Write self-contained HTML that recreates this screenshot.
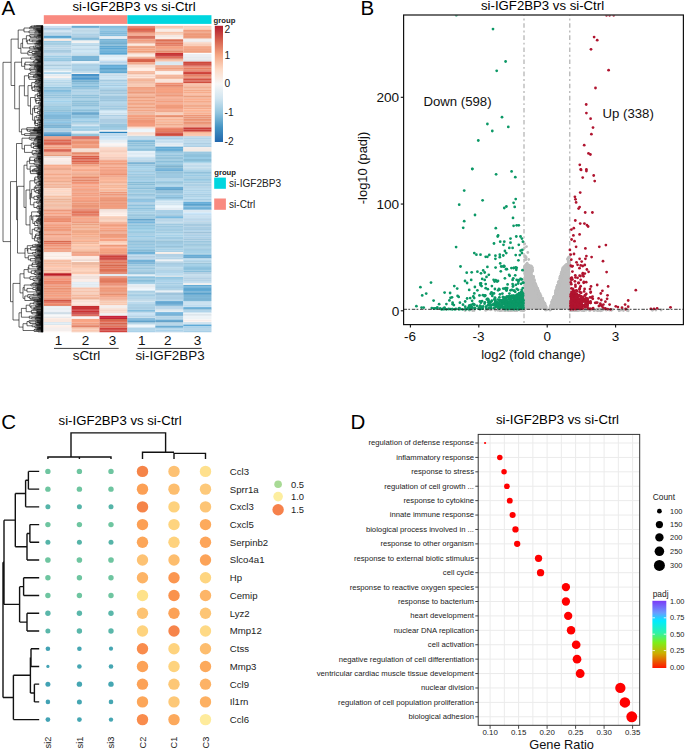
<!DOCTYPE html>
<html><head><meta charset="utf-8"><style>
html,body{margin:0;padding:0;background:#fff;width:685px;height:750px;overflow:hidden}
svg{display:block;font-family:"Liberation Sans", sans-serif}
</style></head><body>
<svg width="685" height="750" viewBox="0 0 685 750">
<rect width="685" height="750" fill="#fff"/>
<text x="1.60" y="14.70" font-size="20.5" text-anchor="start" fill="#000" >A</text>
<text x="72.50" y="10.50" font-size="13.2" text-anchor="start" fill="#000" >si-IGF2BP3 vs si-Ctrl</text>
<rect x="43.8" y="15.2" width="83.60" height="8.7" fill="#f98a80"/>
<rect x="127.4" y="15.2" width="84.05" height="8.7" fill="#00d6df"/>
<rect x="43.80" y="25.80" width="27.80" height="0.49" fill="#ddebf5"/>
<rect x="43.80" y="26.24" width="27.80" height="1.05" fill="#bed5eb"/>
<rect x="43.80" y="27.24" width="27.80" height="0.91" fill="#c0d8ee"/>
<rect x="43.80" y="28.10" width="27.80" height="1.05" fill="#a5c8e1"/>
<rect x="43.80" y="29.10" width="27.80" height="1.25" fill="#acd0e8"/>
<rect x="43.80" y="30.30" width="27.80" height="0.33" fill="#a8cce4"/>
<rect x="43.80" y="30.58" width="27.80" height="1.25" fill="#cfe3f2"/>
<rect x="43.80" y="31.78" width="27.80" height="0.71" fill="#cde1f0"/>
<rect x="43.80" y="32.44" width="27.80" height="1.25" fill="#a8cae1"/>
<rect x="43.80" y="33.64" width="27.80" height="1.05" fill="#a7cae0"/>
<rect x="43.80" y="34.64" width="27.80" height="1.32" fill="#afd2e9"/>
<rect x="43.80" y="35.92" width="27.80" height="1.25" fill="#59a5d2"/>
<rect x="43.80" y="37.12" width="27.80" height="0.96" fill="#539fcc"/>
<rect x="43.80" y="38.03" width="27.80" height="1.04" fill="#bbdaed"/>
<rect x="43.80" y="39.02" width="27.80" height="1.25" fill="#fceadf"/>
<rect x="43.80" y="40.22" width="27.80" height="0.71" fill="#fce8de"/>
<rect x="43.80" y="40.88" width="27.80" height="1.55" fill="#99cae4"/>
<rect x="43.80" y="42.38" width="27.80" height="1.05" fill="#97c8e2"/>
<rect x="43.80" y="43.38" width="27.80" height="1.25" fill="#8cbdd7"/>
<rect x="43.80" y="44.58" width="27.80" height="0.94" fill="#92c4de"/>
<rect x="43.80" y="45.47" width="27.80" height="2.05" fill="#b9d5e7"/>
<rect x="43.80" y="47.47" width="27.80" height="1.55" fill="#bbd7e9"/>
<rect x="43.80" y="48.97" width="27.80" height="0.89" fill="#c0dcee"/>
<rect x="43.80" y="49.81" width="27.80" height="1.25" fill="#a7cadf"/>
<rect x="43.80" y="51.01" width="27.80" height="1.05" fill="#a9cce1"/>
<rect x="43.80" y="52.01" width="27.80" height="0.95" fill="#accee4"/>
<rect x="43.80" y="52.92" width="27.80" height="2.05" fill="#c6dceb"/>
<rect x="43.80" y="54.92" width="27.80" height="0.53" fill="#d7edfc"/>
<rect x="43.80" y="55.40" width="27.80" height="2.05" fill="#a0cce4"/>
<rect x="43.80" y="57.40" width="27.80" height="0.53" fill="#a1cde6"/>
<rect x="43.80" y="57.88" width="27.80" height="2.05" fill="#9bcbe5"/>
<rect x="43.80" y="59.88" width="27.80" height="1.15" fill="#95c5df"/>
<rect x="43.80" y="60.98" width="27.80" height="1.55" fill="#bdd9ec"/>
<rect x="43.80" y="62.48" width="27.80" height="1.03" fill="#b9d5e8"/>
<rect x="43.80" y="63.46" width="27.80" height="1.05" fill="#badbee"/>
<rect x="43.80" y="64.46" width="27.80" height="2.05" fill="#aacadd"/>
<rect x="43.80" y="66.46" width="27.80" height="1.05" fill="#bbdcef"/>
<rect x="43.80" y="67.46" width="27.80" height="1.63" fill="#b7d7ea"/>
<rect x="43.80" y="69.04" width="27.80" height="1.55" fill="#cde1ed"/>
<rect x="43.80" y="70.54" width="27.80" height="0.41" fill="#c5d9e5"/>
<rect x="43.80" y="70.91" width="27.80" height="1.05" fill="#f0f6fa"/>
<rect x="43.80" y="71.91" width="27.80" height="0.29" fill="#eaf0f4"/>
<rect x="43.80" y="72.15" width="27.80" height="1.91" fill="#aed5ec"/>
<rect x="43.80" y="74.01" width="27.80" height="1.25" fill="#e8f1f7"/>
<rect x="43.80" y="75.21" width="27.80" height="1.25" fill="#dce5eb"/>
<rect x="43.80" y="76.41" width="27.80" height="0.13" fill="#ecf5fa"/>
<rect x="43.80" y="76.49" width="27.80" height="1.05" fill="#f7ede9"/>
<rect x="43.80" y="77.49" width="27.80" height="0.66" fill="#f9efeb"/>
<rect x="43.80" y="78.10" width="27.80" height="1.25" fill="#d2e6f2"/>
<rect x="43.80" y="79.30" width="27.80" height="0.34" fill="#c5d9e5"/>
<rect x="43.80" y="79.59" width="27.80" height="2.05" fill="#bdddef"/>
<rect x="43.80" y="81.59" width="27.80" height="2.05" fill="#b4d5e7"/>
<rect x="43.80" y="83.59" width="27.80" height="1.25" fill="#b7d7e9"/>
<rect x="43.80" y="84.79" width="27.80" height="1.25" fill="#b8d8ea"/>
<rect x="43.80" y="85.99" width="27.80" height="1.09" fill="#bedff1"/>
<rect x="43.80" y="87.03" width="27.80" height="1.25" fill="#8fc2dd"/>
<rect x="43.80" y="88.23" width="27.80" height="1.33" fill="#8dc1dc"/>
<rect x="43.80" y="89.52" width="27.80" height="1.55" fill="#82bbdc"/>
<rect x="43.80" y="91.02" width="27.80" height="1.55" fill="#87c0e0"/>
<rect x="43.80" y="92.52" width="27.80" height="1.05" fill="#7db6d7"/>
<rect x="43.80" y="93.52" width="27.80" height="1.01" fill="#86bfe0"/>
<rect x="43.80" y="94.48" width="27.80" height="2.05" fill="#96c3dc"/>
<rect x="43.80" y="96.48" width="27.80" height="2.05" fill="#99c6df"/>
<rect x="43.80" y="98.48" width="27.80" height="1.01" fill="#9dcae2"/>
<rect x="43.80" y="99.44" width="27.80" height="1.05" fill="#9acae4"/>
<rect x="43.80" y="100.44" width="27.80" height="2.05" fill="#a2d2ec"/>
<rect x="43.80" y="102.44" width="27.80" height="1.25" fill="#9acae4"/>
<rect x="43.80" y="103.64" width="27.80" height="0.81" fill="#99c9e3"/>
<rect x="43.80" y="104.40" width="27.80" height="1.05" fill="#96c4db"/>
<rect x="43.80" y="105.40" width="27.80" height="1.55" fill="#99c7de"/>
<rect x="43.80" y="106.90" width="27.80" height="1.05" fill="#9ecce4"/>
<rect x="43.80" y="107.90" width="27.80" height="2.05" fill="#9dcbe2"/>
<rect x="43.80" y="109.90" width="27.80" height="1.25" fill="#93c1d8"/>
<rect x="43.80" y="111.10" width="27.80" height="0.79" fill="#92c0d7"/>
<rect x="43.80" y="111.85" width="27.80" height="2.05" fill="#89c1e1"/>
<rect x="43.80" y="113.85" width="27.80" height="1.15" fill="#88c0e1"/>
<rect x="43.80" y="115.00" width="27.80" height="2.05" fill="#7fb7d8"/>
<rect x="43.80" y="117.00" width="27.80" height="1.05" fill="#82bada"/>
<rect x="43.80" y="118.00" width="27.80" height="1.55" fill="#81b9da"/>
<rect x="43.80" y="119.50" width="27.80" height="1.25" fill="#7cb4d4"/>
<rect x="43.80" y="120.70" width="27.80" height="1.05" fill="#85bddd"/>
<rect x="43.80" y="121.70" width="27.80" height="1.55" fill="#8dc5e6"/>
<rect x="43.80" y="123.20" width="27.80" height="1.25" fill="#7db5d6"/>
<rect x="43.80" y="124.40" width="27.80" height="1.55" fill="#77afd0"/>
<rect x="43.80" y="125.90" width="27.80" height="1.05" fill="#80b8d9"/>
<rect x="43.80" y="126.90" width="27.80" height="1.55" fill="#7eb6d6"/>
<rect x="43.80" y="128.40" width="27.80" height="0.30" fill="#7fb7d8"/>
<rect x="43.80" y="128.65" width="27.80" height="1.55" fill="#afd3e8"/>
<rect x="43.80" y="130.15" width="27.80" height="1.25" fill="#a5c9df"/>
<rect x="43.80" y="131.35" width="27.80" height="1.07" fill="#a6cadf"/>
<rect x="43.80" y="132.37" width="27.80" height="1.25" fill="#4a97cd"/>
<rect x="43.80" y="133.57" width="27.80" height="1.25" fill="#3f8cc2"/>
<rect x="43.80" y="134.77" width="27.80" height="1.25" fill="#428fc5"/>
<rect x="43.80" y="135.97" width="27.80" height="0.42" fill="#4693c9"/>
<rect x="43.80" y="136.34" width="27.80" height="1.05" fill="#ef9172"/>
<rect x="43.80" y="137.34" width="27.80" height="1.25" fill="#e98a6b"/>
<rect x="43.80" y="138.54" width="27.80" height="1.32" fill="#e38566"/>
<rect x="43.80" y="139.81" width="27.80" height="1.55" fill="#de6852"/>
<rect x="43.80" y="141.31" width="27.80" height="1.55" fill="#dc6650"/>
<rect x="43.80" y="142.81" width="27.80" height="2.05" fill="#db654f"/>
<rect x="43.80" y="144.81" width="27.80" height="0.63" fill="#d7614b"/>
<rect x="43.80" y="145.40" width="27.80" height="1.05" fill="#f49f80"/>
<rect x="43.80" y="146.40" width="27.80" height="2.05" fill="#f39e7f"/>
<rect x="43.80" y="148.40" width="27.80" height="0.77" fill="#ed9879"/>
<rect x="43.80" y="149.12" width="27.80" height="1.05" fill="#de634e"/>
<rect x="43.80" y="150.12" width="27.80" height="1.25" fill="#d25742"/>
<rect x="43.80" y="151.32" width="27.80" height="0.95" fill="#db604b"/>
<rect x="43.80" y="152.22" width="27.80" height="1.55" fill="#efa182"/>
<rect x="43.80" y="153.72" width="27.80" height="1.05" fill="#f6a989"/>
<rect x="43.80" y="154.72" width="27.80" height="1.27" fill="#e69878"/>
<rect x="43.80" y="155.94" width="27.80" height="2.05" fill="#eee0db"/>
<rect x="43.80" y="157.94" width="27.80" height="1.25" fill="#fff1ec"/>
<rect x="43.80" y="159.14" width="27.80" height="1.25" fill="#f9ebe6"/>
<rect x="43.80" y="160.34" width="27.80" height="2.05" fill="#f8eae4"/>
<rect x="43.80" y="162.34" width="27.80" height="1.25" fill="#f2e5df"/>
<rect x="43.80" y="163.54" width="27.80" height="1.13" fill="#f3e5e0"/>
<rect x="43.80" y="164.63" width="27.80" height="1.55" fill="#f6ac8d"/>
<rect x="43.80" y="166.13" width="27.80" height="1.05" fill="#f8ad8f"/>
<rect x="43.80" y="167.13" width="27.80" height="1.05" fill="#f5ab8c"/>
<rect x="43.80" y="168.13" width="27.80" height="1.05" fill="#eba082"/>
<rect x="43.80" y="169.13" width="27.80" height="1.25" fill="#e99f80"/>
<rect x="43.80" y="170.33" width="27.80" height="1.25" fill="#f6ac8d"/>
<rect x="43.80" y="171.53" width="27.80" height="1.05" fill="#f2a889"/>
<rect x="43.80" y="172.53" width="27.80" height="1.25" fill="#f6ac8e"/>
<rect x="43.80" y="173.73" width="27.80" height="1.55" fill="#f2a889"/>
<rect x="43.80" y="175.23" width="27.80" height="1.25" fill="#f7ad8f"/>
<rect x="43.80" y="176.43" width="27.80" height="0.66" fill="#f6ac8d"/>
<rect x="43.80" y="177.03" width="27.80" height="2.05" fill="#f2b094"/>
<rect x="43.80" y="179.03" width="27.80" height="2.05" fill="#f9b79b"/>
<rect x="43.80" y="181.03" width="27.80" height="1.25" fill="#ebaa8d"/>
<rect x="43.80" y="182.23" width="27.80" height="1.25" fill="#f3b295"/>
<rect x="43.80" y="183.43" width="27.80" height="2.05" fill="#f4b396"/>
<rect x="43.80" y="185.43" width="27.80" height="1.25" fill="#eeac8f"/>
<rect x="43.80" y="186.63" width="27.80" height="1.25" fill="#efad91"/>
<rect x="43.80" y="187.83" width="27.80" height="0.42" fill="#f9b79a"/>
<rect x="43.80" y="188.20" width="27.80" height="1.05" fill="#fed8c5"/>
<rect x="43.80" y="189.20" width="27.80" height="1.05" fill="#f6d0bd"/>
<rect x="43.80" y="190.20" width="27.80" height="2.05" fill="#fed8c5"/>
<rect x="43.80" y="192.20" width="27.80" height="1.05" fill="#fad4c1"/>
<rect x="43.80" y="193.20" width="27.80" height="1.25" fill="#f7d1be"/>
<rect x="43.80" y="194.40" width="27.80" height="1.29" fill="#fbd5c2"/>
<rect x="43.80" y="195.65" width="27.80" height="2.05" fill="#f6bfa3"/>
<rect x="43.80" y="197.65" width="27.80" height="1.05" fill="#f6bfa3"/>
<rect x="43.80" y="198.65" width="27.80" height="2.05" fill="#eab398"/>
<rect x="43.80" y="200.65" width="27.80" height="1.55" fill="#f1ba9e"/>
<rect x="43.80" y="202.15" width="27.80" height="1.25" fill="#f2ba9f"/>
<rect x="43.80" y="203.35" width="27.80" height="1.55" fill="#f0b89d"/>
<rect x="43.80" y="204.85" width="27.80" height="0.16" fill="#f7c0a5"/>
<rect x="43.80" y="205.00" width="27.80" height="1.25" fill="#f3bca3"/>
<rect x="43.80" y="206.20" width="27.80" height="1.55" fill="#edb69c"/>
<rect x="43.80" y="207.70" width="27.80" height="1.25" fill="#f8c1a7"/>
<rect x="43.80" y="208.90" width="27.80" height="0.49" fill="#f4bda4"/>
<rect x="43.80" y="209.34" width="27.80" height="2.05" fill="#ed987a"/>
<rect x="43.80" y="211.34" width="27.80" height="1.25" fill="#f09b7c"/>
<rect x="43.80" y="212.54" width="27.80" height="2.05" fill="#f6a182"/>
<rect x="43.80" y="214.54" width="27.80" height="1.05" fill="#f29e7f"/>
<rect x="43.80" y="215.54" width="27.80" height="0.67" fill="#f6a182"/>
<rect x="43.80" y="216.17" width="27.80" height="1.55" fill="#e78869"/>
<rect x="43.80" y="217.67" width="27.80" height="1.25" fill="#ea8a6c"/>
<rect x="43.80" y="218.87" width="27.80" height="2.05" fill="#ed8d6e"/>
<rect x="43.80" y="220.87" width="27.80" height="1.25" fill="#ea8a6c"/>
<rect x="43.80" y="222.07" width="27.80" height="0.35" fill="#e88869"/>
<rect x="43.80" y="222.37" width="27.80" height="1.25" fill="#f9a485"/>
<rect x="43.80" y="223.57" width="27.80" height="1.25" fill="#ee9a7b"/>
<rect x="43.80" y="224.77" width="27.80" height="2.05" fill="#f49f81"/>
<rect x="43.80" y="226.77" width="27.80" height="2.05" fill="#ef9a7b"/>
<rect x="43.80" y="228.77" width="27.80" height="1.25" fill="#ee997a"/>
<rect x="43.80" y="229.97" width="27.80" height="1.55" fill="#f19c7d"/>
<rect x="43.80" y="231.47" width="27.80" height="1.05" fill="#ec9779"/>
<rect x="43.80" y="232.47" width="27.80" height="1.05" fill="#f49f80"/>
<rect x="43.80" y="233.47" width="27.80" height="2.05" fill="#ec9778"/>
<rect x="43.80" y="235.47" width="27.80" height="1.05" fill="#f5a082"/>
<rect x="43.80" y="236.47" width="27.80" height="1.05" fill="#f8a384"/>
<rect x="43.80" y="237.47" width="27.80" height="1.05" fill="#ee997b"/>
<rect x="43.80" y="238.47" width="27.80" height="1.05" fill="#ef9a7b"/>
<rect x="43.80" y="239.47" width="27.80" height="1.25" fill="#f19c7d"/>
<rect x="43.80" y="240.67" width="27.80" height="0.36" fill="#ef9b7c"/>
<rect x="43.80" y="240.98" width="27.80" height="1.55" fill="#d76a4f"/>
<rect x="43.80" y="242.48" width="27.80" height="2.05" fill="#e77a5f"/>
<rect x="43.80" y="244.48" width="27.80" height="0.27" fill="#e97c62"/>
<rect x="43.80" y="244.70" width="27.80" height="1.55" fill="#ef9577"/>
<rect x="43.80" y="246.20" width="27.80" height="1.25" fill="#ef9576"/>
<rect x="43.80" y="247.40" width="27.80" height="2.05" fill="#f19778"/>
<rect x="43.80" y="249.40" width="27.80" height="1.05" fill="#ec9273"/>
<rect x="43.80" y="250.40" width="27.80" height="1.05" fill="#ef9576"/>
<rect x="43.80" y="251.40" width="27.80" height="0.79" fill="#ec9273"/>
<rect x="43.80" y="252.15" width="27.80" height="1.05" fill="#f7ebe4"/>
<rect x="43.80" y="253.15" width="27.80" height="1.05" fill="#faede7"/>
<rect x="43.80" y="254.15" width="27.80" height="1.55" fill="#fdf0ea"/>
<rect x="43.80" y="255.65" width="27.80" height="1.55" fill="#f7ebe4"/>
<rect x="43.80" y="257.15" width="27.80" height="1.25" fill="#fff2ec"/>
<rect x="43.80" y="258.35" width="27.80" height="1.05" fill="#faede7"/>
<rect x="43.80" y="259.35" width="27.80" height="0.29" fill="#f7ebe4"/>
<rect x="43.80" y="259.59" width="27.80" height="1.55" fill="#f9bea4"/>
<rect x="43.80" y="261.09" width="27.80" height="1.55" fill="#f2b89d"/>
<rect x="43.80" y="262.59" width="27.80" height="2.05" fill="#f5bba0"/>
<rect x="43.80" y="264.59" width="27.80" height="1.25" fill="#f4ba9f"/>
<rect x="43.80" y="265.79" width="27.80" height="1.55" fill="#fec4aa"/>
<rect x="43.80" y="267.29" width="27.80" height="1.05" fill="#fec3a9"/>
<rect x="43.80" y="268.29" width="27.80" height="1.25" fill="#f6bca1"/>
<rect x="43.80" y="269.49" width="27.80" height="2.05" fill="#f6bba1"/>
<rect x="43.80" y="271.49" width="27.80" height="1.80" fill="#fbc1a6"/>
<rect x="43.80" y="273.24" width="27.80" height="2.05" fill="#bc1d24"/>
<rect x="43.80" y="275.24" width="27.80" height="1.15" fill="#c3242b"/>
<rect x="43.80" y="276.34" width="27.80" height="1.25" fill="#ed8b6e"/>
<rect x="43.80" y="277.54" width="27.80" height="1.25" fill="#e88669"/>
<rect x="43.80" y="278.74" width="27.80" height="2.05" fill="#f79478"/>
<rect x="43.80" y="280.74" width="27.80" height="1.25" fill="#e88569"/>
<rect x="43.80" y="281.94" width="27.80" height="1.05" fill="#f08e71"/>
<rect x="43.80" y="282.94" width="27.80" height="1.55" fill="#ec8a6d"/>
<rect x="43.80" y="284.44" width="27.80" height="1.26" fill="#ea876b"/>
<rect x="43.80" y="285.65" width="27.80" height="2.05" fill="#f09879"/>
<rect x="43.80" y="287.65" width="27.80" height="1.55" fill="#e89071"/>
<rect x="43.80" y="289.15" width="27.80" height="1.05" fill="#ea9273"/>
<rect x="43.80" y="290.15" width="27.80" height="2.05" fill="#f09879"/>
<rect x="43.80" y="292.15" width="27.80" height="1.05" fill="#f29a7b"/>
<rect x="43.80" y="293.15" width="27.80" height="1.55" fill="#eb9374"/>
<rect x="43.80" y="294.65" width="27.80" height="0.36" fill="#f1997b"/>
<rect x="43.80" y="294.99" width="27.80" height="1.25" fill="#f89e7f"/>
<rect x="43.80" y="296.19" width="27.80" height="1.25" fill="#f09677"/>
<rect x="43.80" y="297.39" width="27.80" height="1.55" fill="#f09677"/>
<rect x="43.80" y="298.89" width="27.80" height="0.86" fill="#f29879"/>
<rect x="43.80" y="299.70" width="27.80" height="2.05" fill="#d25442"/>
<rect x="43.80" y="301.70" width="27.80" height="1.15" fill="#db5d4b"/>
<rect x="43.80" y="302.80" width="27.80" height="1.05" fill="#ee886b"/>
<rect x="43.80" y="303.80" width="27.80" height="1.25" fill="#ec8568"/>
<rect x="43.80" y="305.00" width="27.80" height="0.95" fill="#e27c5f"/>
<rect x="43.80" y="305.91" width="27.80" height="1.55" fill="#e9eef2"/>
<rect x="43.80" y="307.41" width="27.80" height="1.55" fill="#ebeff3"/>
<rect x="43.80" y="308.91" width="27.80" height="1.25" fill="#eaeff3"/>
<rect x="43.80" y="310.11" width="27.80" height="2.05" fill="#edf1f6"/>
<rect x="43.80" y="312.11" width="27.80" height="2.05" fill="#cfdde7"/>
<rect x="43.80" y="314.11" width="27.80" height="0.53" fill="#d5e4ee"/>
<rect x="43.80" y="314.59" width="27.80" height="1.25" fill="#f8f8f9"/>
<rect x="43.80" y="315.79" width="27.80" height="1.05" fill="#f5f5f6"/>
<rect x="43.80" y="316.79" width="27.80" height="1.57" fill="#eaeaec"/>
<rect x="43.80" y="318.31" width="27.80" height="1.25" fill="#ffe9df"/>
<rect x="43.80" y="319.51" width="27.80" height="1.05" fill="#f4ded3"/>
<rect x="43.80" y="320.51" width="27.80" height="1.25" fill="#fae4d9"/>
<rect x="43.80" y="321.71" width="27.80" height="0.37" fill="#f9e3d9"/>
<rect x="43.80" y="322.03" width="27.80" height="1.05" fill="#dbe7ef"/>
<rect x="43.80" y="323.03" width="27.80" height="1.05" fill="#e2eff7"/>
<rect x="43.80" y="324.03" width="27.80" height="1.05" fill="#d9e6ed"/>
<rect x="43.80" y="325.03" width="27.80" height="0.15" fill="#d9e5ed"/>
<rect x="43.80" y="325.14" width="27.80" height="1.55" fill="#fff0e8"/>
<rect x="43.80" y="326.64" width="27.80" height="1.03" fill="#f9e7df"/>
<rect x="43.80" y="327.62" width="27.80" height="1.05" fill="#f4eeec"/>
<rect x="43.80" y="328.62" width="27.80" height="1.05" fill="#efe8e6"/>
<rect x="43.80" y="329.62" width="27.80" height="1.55" fill="#f5efed"/>
<rect x="43.80" y="331.12" width="27.80" height="1.13" fill="#fdf6f4"/>
<rect x="71.60" y="25.80" width="27.90" height="2.05" fill="#6babd1"/>
<rect x="71.60" y="27.80" width="27.90" height="0.35" fill="#70b0d6"/>
<rect x="71.60" y="28.10" width="27.90" height="1.55" fill="#bbd9ea"/>
<rect x="71.60" y="29.60" width="27.90" height="1.25" fill="#b4d1e3"/>
<rect x="71.60" y="30.80" width="27.90" height="1.05" fill="#b7d4e6"/>
<rect x="71.60" y="31.80" width="27.90" height="0.69" fill="#b8d5e7"/>
<rect x="71.60" y="32.44" width="27.90" height="1.25" fill="#afd2e7"/>
<rect x="71.60" y="33.64" width="27.90" height="1.55" fill="#add0e5"/>
<rect x="71.60" y="35.14" width="27.90" height="1.05" fill="#abcde3"/>
<rect x="71.60" y="36.14" width="27.90" height="1.31" fill="#a6c9de"/>
<rect x="71.60" y="37.41" width="27.90" height="1.55" fill="#7fb7d6"/>
<rect x="71.60" y="38.91" width="27.90" height="1.05" fill="#86bedc"/>
<rect x="71.60" y="39.91" width="27.90" height="0.65" fill="#84bcda"/>
<rect x="71.60" y="40.51" width="27.90" height="2.05" fill="#f1f1f1"/>
<rect x="71.60" y="42.51" width="27.90" height="0.53" fill="#efefef"/>
<rect x="71.60" y="42.99" width="27.90" height="2.05" fill="#c3deee"/>
<rect x="71.60" y="44.99" width="27.90" height="1.55" fill="#b9d4e4"/>
<rect x="71.60" y="46.49" width="27.90" height="1.25" fill="#c9e4f3"/>
<rect x="71.60" y="47.69" width="27.90" height="1.05" fill="#bfdaea"/>
<rect x="71.60" y="48.69" width="27.90" height="1.55" fill="#c0dbeb"/>
<rect x="71.60" y="50.19" width="27.90" height="1.55" fill="#c8e3f2"/>
<rect x="71.60" y="51.69" width="27.90" height="1.55" fill="#c8e3f3"/>
<rect x="71.60" y="53.19" width="27.90" height="1.05" fill="#c0dbeb"/>
<rect x="71.60" y="54.19" width="27.90" height="1.88" fill="#bed9e8"/>
<rect x="71.60" y="56.02" width="27.90" height="2.05" fill="#78b4d7"/>
<rect x="71.60" y="58.02" width="27.90" height="2.05" fill="#78b4d7"/>
<rect x="71.60" y="60.02" width="27.90" height="1.01" fill="#71add0"/>
<rect x="71.60" y="60.98" width="27.90" height="2.05" fill="#e4f0f8"/>
<rect x="71.60" y="62.98" width="27.90" height="0.53" fill="#deeaf2"/>
<rect x="71.60" y="63.46" width="27.90" height="1.55" fill="#aed2e7"/>
<rect x="71.60" y="64.96" width="27.90" height="1.05" fill="#aacee3"/>
<rect x="71.60" y="65.96" width="27.90" height="2.05" fill="#b0d4e9"/>
<rect x="71.60" y="67.96" width="27.90" height="1.05" fill="#afd3e8"/>
<rect x="71.60" y="68.96" width="27.90" height="1.05" fill="#abcfe4"/>
<rect x="71.60" y="69.96" width="27.90" height="1.55" fill="#acd0e5"/>
<rect x="71.60" y="71.46" width="27.90" height="1.36" fill="#aed2e7"/>
<rect x="71.60" y="72.77" width="27.90" height="1.05" fill="#e9edf0"/>
<rect x="71.60" y="73.77" width="27.90" height="0.29" fill="#f0f4f8"/>
<rect x="71.60" y="74.01" width="27.90" height="1.05" fill="#4693c9"/>
<rect x="71.60" y="75.01" width="27.90" height="1.55" fill="#4895cb"/>
<rect x="71.60" y="76.51" width="27.90" height="1.25" fill="#4693c9"/>
<rect x="71.60" y="77.71" width="27.90" height="1.55" fill="#4a97cd"/>
<rect x="71.60" y="79.21" width="27.90" height="1.05" fill="#4795cb"/>
<rect x="71.60" y="80.21" width="27.90" height="2.05" fill="#76b0d0"/>
<rect x="71.60" y="82.21" width="27.90" height="1.05" fill="#81bbdc"/>
<rect x="71.60" y="83.21" width="27.90" height="1.25" fill="#78b2d2"/>
<rect x="71.60" y="84.41" width="27.90" height="1.05" fill="#86c0e1"/>
<rect x="71.60" y="85.41" width="27.90" height="2.05" fill="#81bbdb"/>
<rect x="71.60" y="87.41" width="27.90" height="1.25" fill="#7cb6d6"/>
<rect x="71.60" y="88.61" width="27.90" height="0.96" fill="#7bb5d6"/>
<rect x="71.60" y="89.52" width="27.90" height="1.25" fill="#a9cfe5"/>
<rect x="71.60" y="90.72" width="27.90" height="1.55" fill="#abd1e8"/>
<rect x="71.60" y="92.22" width="27.90" height="1.55" fill="#a6cce3"/>
<rect x="71.60" y="93.72" width="27.90" height="0.81" fill="#afd5eb"/>
<rect x="71.60" y="94.48" width="27.90" height="2.05" fill="#92c2dc"/>
<rect x="71.60" y="96.48" width="27.90" height="2.05" fill="#91c1db"/>
<rect x="71.60" y="98.48" width="27.90" height="1.05" fill="#96c6e0"/>
<rect x="71.60" y="99.48" width="27.90" height="1.25" fill="#97c7e1"/>
<rect x="71.60" y="100.68" width="27.90" height="2.05" fill="#8fc0d9"/>
<rect x="71.60" y="102.68" width="27.90" height="1.55" fill="#93c3dd"/>
<rect x="71.60" y="104.18" width="27.90" height="2.05" fill="#8fbfd9"/>
<rect x="71.60" y="106.18" width="27.90" height="1.25" fill="#97c8e1"/>
<rect x="71.60" y="107.38" width="27.90" height="1.05" fill="#98c8e1"/>
<rect x="71.60" y="108.38" width="27.90" height="1.55" fill="#9acae4"/>
<rect x="71.60" y="109.88" width="27.90" height="1.25" fill="#8ebfd8"/>
<rect x="71.60" y="111.08" width="27.90" height="0.82" fill="#9bcbe5"/>
<rect x="71.60" y="111.85" width="27.90" height="1.05" fill="#70add3"/>
<rect x="71.60" y="112.85" width="27.90" height="2.05" fill="#6aa8ce"/>
<rect x="71.60" y="114.85" width="27.90" height="0.15" fill="#6caad0"/>
<rect x="71.60" y="115.00" width="27.90" height="1.05" fill="#97c7e2"/>
<rect x="71.60" y="116.00" width="27.90" height="2.05" fill="#91c1dc"/>
<rect x="71.60" y="118.00" width="27.90" height="1.25" fill="#a0d1eb"/>
<rect x="71.60" y="119.20" width="27.90" height="1.25" fill="#9ccde7"/>
<rect x="71.60" y="120.40" width="27.90" height="2.05" fill="#99c9e4"/>
<rect x="71.60" y="122.40" width="27.90" height="1.33" fill="#90c0db"/>
<rect x="71.60" y="123.68" width="27.90" height="1.55" fill="#c5dbea"/>
<rect x="71.60" y="125.18" width="27.90" height="1.03" fill="#cde3f2"/>
<rect x="71.60" y="126.17" width="27.90" height="2.05" fill="#9fcde5"/>
<rect x="71.60" y="128.17" width="27.90" height="2.05" fill="#a0cee6"/>
<rect x="71.60" y="130.17" width="27.90" height="1.01" fill="#9bc9e1"/>
<rect x="71.60" y="131.13" width="27.90" height="2.05" fill="#e5eef4"/>
<rect x="71.60" y="133.13" width="27.90" height="0.53" fill="#e8f1f6"/>
<rect x="71.60" y="133.61" width="27.90" height="1.25" fill="#89bcd6"/>
<rect x="71.60" y="134.81" width="27.90" height="1.58" fill="#8fc3dc"/>
<rect x="71.60" y="136.34" width="27.90" height="1.05" fill="#d24f3f"/>
<rect x="71.60" y="137.34" width="27.90" height="1.25" fill="#d35040"/>
<rect x="71.60" y="138.54" width="27.90" height="0.70" fill="#d24f3f"/>
<rect x="71.60" y="139.19" width="27.90" height="1.55" fill="#ed9375"/>
<rect x="71.60" y="140.69" width="27.90" height="1.25" fill="#ea9071"/>
<rect x="71.60" y="141.89" width="27.90" height="2.05" fill="#ea9071"/>
<rect x="71.60" y="143.89" width="27.90" height="0.93" fill="#f19779"/>
<rect x="71.60" y="144.78" width="27.90" height="1.25" fill="#f29f80"/>
<rect x="71.60" y="145.98" width="27.90" height="2.05" fill="#ee9c7d"/>
<rect x="71.60" y="147.98" width="27.90" height="0.57" fill="#f8a586"/>
<rect x="71.60" y="148.50" width="27.90" height="1.05" fill="#e9d2c6"/>
<rect x="71.60" y="149.50" width="27.90" height="1.55" fill="#f6ded3"/>
<rect x="71.60" y="151.00" width="27.90" height="1.27" fill="#f3dcd0"/>
<rect x="71.60" y="152.22" width="27.90" height="2.05" fill="#e5896a"/>
<rect x="71.60" y="154.22" width="27.90" height="1.25" fill="#ec9071"/>
<rect x="71.60" y="155.42" width="27.90" height="0.57" fill="#ed9072"/>
<rect x="71.60" y="155.94" width="27.90" height="1.55" fill="#da5e48"/>
<rect x="71.60" y="157.44" width="27.90" height="2.05" fill="#d85c46"/>
<rect x="71.60" y="159.44" width="27.90" height="1.05" fill="#d65a44"/>
<rect x="71.60" y="160.44" width="27.90" height="1.55" fill="#de624c"/>
<rect x="71.60" y="161.94" width="27.90" height="0.25" fill="#cf533d"/>
<rect x="71.60" y="162.15" width="27.90" height="2.05" fill="#e57d61"/>
<rect x="71.60" y="164.15" width="27.90" height="0.53" fill="#e37b60"/>
<rect x="71.60" y="164.63" width="27.90" height="1.55" fill="#efa282"/>
<rect x="71.60" y="166.13" width="27.90" height="1.05" fill="#f6a989"/>
<rect x="71.60" y="167.13" width="27.90" height="1.55" fill="#ffb292"/>
<rect x="71.60" y="168.63" width="27.90" height="1.25" fill="#f3a586"/>
<rect x="71.60" y="169.83" width="27.90" height="1.55" fill="#f6a889"/>
<rect x="71.60" y="171.33" width="27.90" height="1.05" fill="#f8aa8b"/>
<rect x="71.60" y="172.33" width="27.90" height="1.25" fill="#f1a383"/>
<rect x="71.60" y="173.53" width="27.90" height="1.25" fill="#e79a7a"/>
<rect x="71.60" y="174.73" width="27.90" height="1.05" fill="#f3a686"/>
<rect x="71.60" y="175.73" width="27.90" height="1.25" fill="#f4a687"/>
<rect x="71.60" y="176.93" width="27.90" height="0.16" fill="#f1a484"/>
<rect x="71.60" y="177.03" width="27.90" height="1.25" fill="#e48769"/>
<rect x="71.60" y="178.23" width="27.90" height="1.25" fill="#ef9274"/>
<rect x="71.60" y="179.43" width="27.90" height="2.05" fill="#e38668"/>
<rect x="71.60" y="181.43" width="27.90" height="1.55" fill="#ed9072"/>
<rect x="71.60" y="182.93" width="27.90" height="1.05" fill="#f6997b"/>
<rect x="71.60" y="183.93" width="27.90" height="0.59" fill="#eb8d70"/>
<rect x="71.60" y="184.48" width="27.90" height="1.25" fill="#f49f80"/>
<rect x="71.60" y="185.68" width="27.90" height="2.05" fill="#faa586"/>
<rect x="71.60" y="187.68" width="27.90" height="1.05" fill="#ec9779"/>
<rect x="71.60" y="188.68" width="27.90" height="1.55" fill="#f7a283"/>
<rect x="71.60" y="190.18" width="27.90" height="1.55" fill="#ed9879"/>
<rect x="71.60" y="191.68" width="27.90" height="1.05" fill="#f09b7c"/>
<rect x="71.60" y="192.68" width="27.90" height="1.55" fill="#f49f80"/>
<rect x="71.60" y="194.18" width="27.90" height="1.05" fill="#f29d7e"/>
<rect x="71.60" y="195.18" width="27.90" height="1.25" fill="#e99475"/>
<rect x="71.60" y="196.38" width="27.90" height="1.55" fill="#f5a081"/>
<rect x="71.60" y="197.88" width="27.90" height="2.05" fill="#f6a182"/>
<rect x="71.60" y="199.88" width="27.90" height="1.25" fill="#f39e80"/>
<rect x="71.60" y="201.08" width="27.90" height="1.55" fill="#ea9576"/>
<rect x="71.60" y="202.58" width="27.90" height="1.55" fill="#ee997a"/>
<rect x="71.60" y="204.08" width="27.90" height="0.92" fill="#ef9a7b"/>
<rect x="71.60" y="205.00" width="27.90" height="2.05" fill="#e99576"/>
<rect x="71.60" y="207.00" width="27.90" height="1.25" fill="#f29e7f"/>
<rect x="71.60" y="208.20" width="27.90" height="1.05" fill="#e79274"/>
<rect x="71.60" y="209.20" width="27.90" height="0.19" fill="#f19c7d"/>
<rect x="71.60" y="209.34" width="27.90" height="1.05" fill="#e17056"/>
<rect x="71.60" y="210.34" width="27.90" height="1.55" fill="#e17156"/>
<rect x="71.60" y="211.84" width="27.90" height="1.55" fill="#e27257"/>
<rect x="71.60" y="213.34" width="27.90" height="1.55" fill="#df6e54"/>
<rect x="71.60" y="214.84" width="27.90" height="1.05" fill="#ed7c62"/>
<rect x="71.60" y="215.84" width="27.90" height="0.37" fill="#e07055"/>
<rect x="71.60" y="216.17" width="27.90" height="1.55" fill="#ea9677"/>
<rect x="71.60" y="217.67" width="27.90" height="1.55" fill="#faa687"/>
<rect x="71.60" y="219.17" width="27.90" height="1.05" fill="#f19e7f"/>
<rect x="71.60" y="220.17" width="27.90" height="1.05" fill="#f29f80"/>
<rect x="71.60" y="221.17" width="27.90" height="2.05" fill="#ef9b7d"/>
<rect x="71.60" y="223.17" width="27.90" height="0.49" fill="#f4a081"/>
<rect x="71.60" y="223.61" width="27.90" height="2.05" fill="#e9a383"/>
<rect x="71.60" y="225.61" width="27.90" height="1.25" fill="#f6b090"/>
<rect x="71.60" y="226.81" width="27.90" height="1.55" fill="#f2ac8c"/>
<rect x="71.60" y="228.31" width="27.90" height="1.25" fill="#f0aa8a"/>
<rect x="71.60" y="229.51" width="27.90" height="1.55" fill="#f1ab8b"/>
<rect x="71.60" y="231.01" width="27.90" height="2.05" fill="#eea888"/>
<rect x="71.60" y="233.01" width="27.90" height="1.05" fill="#fab494"/>
<rect x="71.60" y="234.01" width="27.90" height="1.25" fill="#f1ab8b"/>
<rect x="71.60" y="235.21" width="27.90" height="2.05" fill="#f5af8f"/>
<rect x="71.60" y="237.21" width="27.90" height="1.05" fill="#f0aa8a"/>
<rect x="71.60" y="238.21" width="27.90" height="1.55" fill="#efa989"/>
<rect x="71.60" y="239.71" width="27.90" height="1.25" fill="#feb898"/>
<rect x="71.60" y="240.91" width="27.90" height="1.05" fill="#f2ac8c"/>
<rect x="71.60" y="241.91" width="27.90" height="0.36" fill="#f1ab8b"/>
<rect x="71.60" y="242.22" width="27.90" height="2.05" fill="#f3b89b"/>
<rect x="71.60" y="244.22" width="27.90" height="2.05" fill="#ffc7ab"/>
<rect x="71.60" y="246.22" width="27.90" height="1.25" fill="#f4b99d"/>
<rect x="71.60" y="247.42" width="27.90" height="1.25" fill="#f9bea1"/>
<rect x="71.60" y="248.62" width="27.90" height="1.25" fill="#fabea2"/>
<rect x="71.60" y="249.82" width="27.90" height="1.05" fill="#f6bb9e"/>
<rect x="71.60" y="250.82" width="27.90" height="1.38" fill="#f1b699"/>
<rect x="71.60" y="252.15" width="27.90" height="1.55" fill="#e99576"/>
<rect x="71.60" y="253.65" width="27.90" height="1.25" fill="#f5a081"/>
<rect x="71.60" y="254.85" width="27.90" height="1.07" fill="#ef9a7c"/>
<rect x="71.60" y="255.87" width="27.90" height="1.25" fill="#fce8e0"/>
<rect x="71.60" y="257.07" width="27.90" height="1.55" fill="#fee9e1"/>
<rect x="71.60" y="258.57" width="27.90" height="1.55" fill="#f4e0d8"/>
<rect x="71.60" y="260.07" width="27.90" height="1.05" fill="#ecd8d0"/>
<rect x="71.60" y="261.07" width="27.90" height="1.05" fill="#ffeee6"/>
<rect x="71.60" y="262.07" width="27.90" height="1.05" fill="#eebaa0"/>
<rect x="71.60" y="263.07" width="27.90" height="1.05" fill="#eab69d"/>
<rect x="71.60" y="264.07" width="27.90" height="1.05" fill="#edb9a0"/>
<rect x="71.60" y="265.07" width="27.90" height="2.05" fill="#f8c4ab"/>
<rect x="71.60" y="267.07" width="27.90" height="1.55" fill="#fbc7ad"/>
<rect x="71.60" y="268.57" width="27.90" height="1.05" fill="#f8c4aa"/>
<rect x="71.60" y="269.57" width="27.90" height="1.05" fill="#fbc8ae"/>
<rect x="71.60" y="270.57" width="27.90" height="1.25" fill="#ffcfb6"/>
<rect x="71.60" y="271.77" width="27.90" height="1.05" fill="#f0bca2"/>
<rect x="71.60" y="272.77" width="27.90" height="1.76" fill="#fecab0"/>
<rect x="71.60" y="274.48" width="27.90" height="1.55" fill="#f9e9e2"/>
<rect x="71.60" y="275.98" width="27.90" height="1.05" fill="#f0e0da"/>
<rect x="71.60" y="276.98" width="27.90" height="1.05" fill="#f2e3dc"/>
<rect x="71.60" y="277.98" width="27.90" height="1.55" fill="#f2e2db"/>
<rect x="71.60" y="279.48" width="27.90" height="1.25" fill="#fcece6"/>
<rect x="71.60" y="280.68" width="27.90" height="1.05" fill="#f9e9e2"/>
<rect x="71.60" y="281.68" width="27.90" height="0.29" fill="#f9e9e3"/>
<rect x="71.60" y="281.92" width="27.90" height="1.25" fill="#e3edf4"/>
<rect x="71.60" y="283.12" width="27.90" height="1.05" fill="#e5eff6"/>
<rect x="71.60" y="284.12" width="27.90" height="1.55" fill="#dee8ef"/>
<rect x="71.60" y="285.62" width="27.90" height="1.25" fill="#e2ecf2"/>
<rect x="71.60" y="286.82" width="27.90" height="0.73" fill="#e2ecf2"/>
<rect x="71.60" y="287.51" width="27.90" height="2.05" fill="#f6c4ad"/>
<rect x="71.60" y="289.51" width="27.90" height="1.05" fill="#f7c5ae"/>
<rect x="71.60" y="290.51" width="27.90" height="2.05" fill="#f6c4ad"/>
<rect x="71.60" y="292.51" width="27.90" height="1.05" fill="#f5c3ac"/>
<rect x="71.60" y="293.51" width="27.90" height="1.25" fill="#f4c3ab"/>
<rect x="71.60" y="294.71" width="27.90" height="0.29" fill="#fac8b1"/>
<rect x="71.60" y="294.99" width="27.90" height="1.55" fill="#f4ba9f"/>
<rect x="71.60" y="296.49" width="27.90" height="1.55" fill="#f6bca1"/>
<rect x="71.60" y="297.99" width="27.90" height="1.76" fill="#edb398"/>
<rect x="71.60" y="299.70" width="27.90" height="1.55" fill="#fee3d6"/>
<rect x="71.60" y="301.20" width="27.90" height="1.25" fill="#f5dacd"/>
<rect x="71.60" y="302.40" width="27.90" height="1.05" fill="#fce1d5"/>
<rect x="71.60" y="303.40" width="27.90" height="2.05" fill="#fde2d6"/>
<rect x="71.60" y="305.40" width="27.90" height="0.55" fill="#f6dbce"/>
<rect x="71.60" y="305.91" width="27.90" height="2.05" fill="#c52d2f"/>
<rect x="71.60" y="307.91" width="27.90" height="1.25" fill="#c72f31"/>
<rect x="71.60" y="309.11" width="27.90" height="1.25" fill="#cf383a"/>
<rect x="71.60" y="310.31" width="27.90" height="2.05" fill="#ca3234"/>
<rect x="71.60" y="312.31" width="27.90" height="1.05" fill="#bf2729"/>
<rect x="71.60" y="313.31" width="27.90" height="1.25" fill="#c42c2e"/>
<rect x="71.60" y="314.51" width="27.90" height="0.13" fill="#c73032"/>
<rect x="71.60" y="314.59" width="27.90" height="1.25" fill="#d85947"/>
<rect x="71.60" y="315.79" width="27.90" height="0.71" fill="#da5b49"/>
<rect x="71.60" y="316.45" width="27.90" height="1.25" fill="#f5f1f1"/>
<rect x="71.60" y="317.65" width="27.90" height="1.33" fill="#faf5f5"/>
<rect x="71.60" y="318.93" width="27.90" height="2.05" fill="#f8a384"/>
<rect x="71.60" y="320.93" width="27.90" height="1.55" fill="#faa586"/>
<rect x="71.60" y="322.43" width="27.90" height="2.05" fill="#f39e7f"/>
<rect x="71.60" y="324.43" width="27.90" height="0.13" fill="#f5a081"/>
<rect x="71.60" y="324.52" width="27.90" height="1.25" fill="#e58367"/>
<rect x="71.60" y="325.72" width="27.90" height="1.25" fill="#e48266"/>
<rect x="71.60" y="326.92" width="27.90" height="0.75" fill="#e48266"/>
<rect x="71.60" y="327.62" width="27.90" height="2.05" fill="#f8c7b0"/>
<rect x="71.60" y="329.62" width="27.90" height="2.05" fill="#fac9b2"/>
<rect x="71.60" y="331.62" width="27.90" height="0.63" fill="#f5c4ad"/>
<rect x="99.50" y="25.80" width="27.90" height="1.25" fill="#83bcdc"/>
<rect x="99.50" y="27.00" width="27.90" height="1.25" fill="#88c1e0"/>
<rect x="99.50" y="28.20" width="27.90" height="1.05" fill="#83bcdc"/>
<rect x="99.50" y="29.20" width="27.90" height="1.55" fill="#87c0df"/>
<rect x="99.50" y="30.70" width="27.90" height="1.55" fill="#86bfdf"/>
<rect x="99.50" y="32.20" width="27.90" height="2.05" fill="#80b9d9"/>
<rect x="99.50" y="34.20" width="27.90" height="2.02" fill="#85bede"/>
<rect x="99.50" y="36.17" width="27.90" height="1.55" fill="#dee8ef"/>
<rect x="99.50" y="37.67" width="27.90" height="1.05" fill="#e5eff6"/>
<rect x="99.50" y="38.67" width="27.90" height="0.28" fill="#dfe9f0"/>
<rect x="99.50" y="38.90" width="27.90" height="1.25" fill="#78b3d4"/>
<rect x="99.50" y="40.10" width="27.90" height="2.05" fill="#7db8d9"/>
<rect x="99.50" y="42.10" width="27.90" height="2.05" fill="#73afcf"/>
<rect x="99.50" y="44.10" width="27.90" height="1.25" fill="#7eb9da"/>
<rect x="99.50" y="45.30" width="27.90" height="0.85" fill="#77b3d3"/>
<rect x="99.50" y="46.09" width="27.90" height="1.25" fill="#55a1ce"/>
<rect x="99.50" y="47.29" width="27.90" height="2.05" fill="#5ca8d5"/>
<rect x="99.50" y="49.29" width="27.90" height="1.05" fill="#5ba7d4"/>
<rect x="99.50" y="50.29" width="27.90" height="1.55" fill="#59a5d2"/>
<rect x="99.50" y="51.79" width="27.90" height="1.05" fill="#5eaad7"/>
<rect x="99.50" y="52.79" width="27.90" height="2.03" fill="#5aa6d3"/>
<rect x="99.50" y="54.78" width="27.90" height="1.25" fill="#deecf5"/>
<rect x="99.50" y="55.98" width="27.90" height="1.05" fill="#ddeaf3"/>
<rect x="99.50" y="56.98" width="27.90" height="1.25" fill="#e3f1fa"/>
<rect x="99.50" y="58.18" width="27.90" height="1.55" fill="#e4f1fa"/>
<rect x="99.50" y="59.68" width="27.90" height="1.25" fill="#d9e7f0"/>
<rect x="99.50" y="60.88" width="27.90" height="0.15" fill="#d5e2eb"/>
<rect x="99.50" y="60.98" width="27.90" height="1.05" fill="#c1ddf2"/>
<rect x="99.50" y="61.98" width="27.90" height="1.55" fill="#b8d4e8"/>
<rect x="99.50" y="63.48" width="27.90" height="1.25" fill="#bbd7eb"/>
<rect x="99.50" y="64.68" width="27.90" height="0.07" fill="#c4e0f4"/>
<rect x="99.50" y="64.70" width="27.90" height="1.25" fill="#5da6d1"/>
<rect x="99.50" y="65.90" width="27.90" height="2.05" fill="#6bb3de"/>
<rect x="99.50" y="67.90" width="27.90" height="1.25" fill="#58a1cb"/>
<rect x="99.50" y="69.10" width="27.90" height="1.25" fill="#5aa3cd"/>
<rect x="99.50" y="70.30" width="27.90" height="1.55" fill="#5ba4cf"/>
<rect x="99.50" y="71.80" width="27.90" height="1.63" fill="#60a9d3"/>
<rect x="99.50" y="73.39" width="27.90" height="1.25" fill="#c4dcea"/>
<rect x="99.50" y="74.59" width="27.90" height="1.55" fill="#c4dbea"/>
<rect x="99.50" y="76.09" width="27.90" height="2.05" fill="#cbe3f1"/>
<rect x="99.50" y="78.09" width="27.90" height="1.05" fill="#cfe6f5"/>
<rect x="99.50" y="79.09" width="27.90" height="0.55" fill="#c4dbea"/>
<rect x="99.50" y="79.59" width="27.90" height="2.05" fill="#a4cae1"/>
<rect x="99.50" y="81.59" width="27.90" height="1.05" fill="#a8cee4"/>
<rect x="99.50" y="82.59" width="27.90" height="2.05" fill="#aed4ea"/>
<rect x="99.50" y="84.59" width="27.90" height="1.55" fill="#a6cce3"/>
<rect x="99.50" y="86.09" width="27.90" height="1.25" fill="#b7ddf3"/>
<rect x="99.50" y="87.29" width="27.90" height="1.55" fill="#a7cde3"/>
<rect x="99.50" y="88.79" width="27.90" height="1.25" fill="#a9d0e6"/>
<rect x="99.50" y="89.99" width="27.90" height="1.25" fill="#9ec4db"/>
<rect x="99.50" y="91.19" width="27.90" height="1.55" fill="#9fc5dc"/>
<rect x="99.50" y="92.69" width="27.90" height="1.55" fill="#a3c9df"/>
<rect x="99.50" y="94.19" width="27.90" height="0.34" fill="#b4daf0"/>
<rect x="99.50" y="94.48" width="27.90" height="1.05" fill="#a4cbe3"/>
<rect x="99.50" y="95.48" width="27.90" height="1.55" fill="#a1c8df"/>
<rect x="99.50" y="96.98" width="27.90" height="2.05" fill="#a0c7df"/>
<rect x="99.50" y="98.98" width="27.90" height="1.05" fill="#a7cee5"/>
<rect x="99.50" y="99.98" width="27.90" height="1.25" fill="#9dc5dc"/>
<rect x="99.50" y="101.18" width="27.90" height="1.05" fill="#a5cce4"/>
<rect x="99.50" y="102.18" width="27.90" height="1.05" fill="#aad2e9"/>
<rect x="99.50" y="103.18" width="27.90" height="1.55" fill="#a6cee5"/>
<rect x="99.50" y="104.68" width="27.90" height="1.05" fill="#9ec5dd"/>
<rect x="99.50" y="105.68" width="27.90" height="2.05" fill="#a3cbe2"/>
<rect x="99.50" y="107.68" width="27.90" height="1.55" fill="#a1c9e0"/>
<rect x="99.50" y="109.18" width="27.90" height="1.48" fill="#a2cae1"/>
<rect x="99.50" y="110.61" width="27.90" height="1.25" fill="#d5eaf6"/>
<rect x="99.50" y="111.81" width="27.90" height="1.25" fill="#d7ebf7"/>
<rect x="99.50" y="113.01" width="27.90" height="1.25" fill="#cce0ec"/>
<rect x="99.50" y="114.21" width="27.90" height="0.79" fill="#cee2ef"/>
<rect x="99.50" y="115.00" width="27.90" height="1.55" fill="#adcfe4"/>
<rect x="99.50" y="116.50" width="27.90" height="1.05" fill="#b3d4ea"/>
<rect x="99.50" y="117.50" width="27.90" height="1.05" fill="#adcee4"/>
<rect x="99.50" y="118.50" width="27.90" height="1.55" fill="#accde2"/>
<rect x="99.50" y="120.00" width="27.90" height="2.05" fill="#accde3"/>
<rect x="99.50" y="122.00" width="27.90" height="1.73" fill="#adcfe4"/>
<rect x="99.50" y="123.68" width="27.90" height="1.25" fill="#94c4dd"/>
<rect x="99.50" y="124.88" width="27.90" height="1.05" fill="#94c4de"/>
<rect x="99.50" y="125.88" width="27.90" height="1.05" fill="#90c1da"/>
<rect x="99.50" y="126.88" width="27.90" height="1.05" fill="#96c6df"/>
<rect x="99.50" y="127.88" width="27.90" height="1.05" fill="#9acae4"/>
<rect x="99.50" y="128.88" width="27.90" height="1.05" fill="#94c4de"/>
<rect x="99.50" y="129.89" width="27.90" height="1.25" fill="#efefef"/>
<rect x="99.50" y="131.09" width="27.90" height="0.71" fill="#f8f8f8"/>
<rect x="99.50" y="131.75" width="27.90" height="1.25" fill="#2680bc"/>
<rect x="99.50" y="132.95" width="27.90" height="0.09" fill="#2881be"/>
<rect x="99.50" y="132.99" width="27.90" height="2.05" fill="#bfdbee"/>
<rect x="99.50" y="134.99" width="27.90" height="1.40" fill="#bfdbee"/>
<rect x="99.50" y="136.34" width="27.90" height="2.05" fill="#c6e2f5"/>
<rect x="99.50" y="138.34" width="27.90" height="1.25" fill="#c3dff2"/>
<rect x="99.50" y="139.54" width="27.90" height="0.32" fill="#c3dff2"/>
<rect x="99.50" y="139.81" width="27.90" height="1.05" fill="#e5ecf1"/>
<rect x="99.50" y="140.81" width="27.90" height="1.05" fill="#e1e8ed"/>
<rect x="99.50" y="141.81" width="27.90" height="1.55" fill="#ecf3f9"/>
<rect x="99.50" y="143.31" width="27.90" height="0.27" fill="#e5ebf1"/>
<rect x="99.50" y="143.54" width="27.90" height="2.05" fill="#fcf5f3"/>
<rect x="99.50" y="145.54" width="27.90" height="1.55" fill="#f2ecea"/>
<rect x="99.50" y="147.04" width="27.90" height="0.27" fill="#fffaf8"/>
<rect x="99.50" y="147.26" width="27.90" height="1.05" fill="#f8d1c0"/>
<rect x="99.50" y="148.26" width="27.90" height="1.55" fill="#f7d0bf"/>
<rect x="99.50" y="149.76" width="27.90" height="1.25" fill="#f9d2c1"/>
<rect x="99.50" y="150.96" width="27.90" height="1.25" fill="#f5cebd"/>
<rect x="99.50" y="152.16" width="27.90" height="1.55" fill="#f9d2c1"/>
<rect x="99.50" y="153.66" width="27.90" height="1.25" fill="#fcd5c4"/>
<rect x="99.50" y="154.86" width="27.90" height="2.05" fill="#fdd6c5"/>
<rect x="99.50" y="156.86" width="27.90" height="2.05" fill="#f4ccbc"/>
<rect x="99.50" y="158.86" width="27.90" height="0.86" fill="#fcd4c4"/>
<rect x="99.50" y="159.67" width="27.90" height="1.05" fill="#eb9879"/>
<rect x="99.50" y="160.67" width="27.90" height="2.05" fill="#f5a283"/>
<rect x="99.50" y="162.67" width="27.90" height="1.55" fill="#f09e7f"/>
<rect x="99.50" y="164.17" width="27.90" height="1.25" fill="#ec997b"/>
<rect x="99.50" y="165.37" width="27.90" height="1.25" fill="#f5a384"/>
<rect x="99.50" y="166.57" width="27.90" height="0.59" fill="#f4a182"/>
<rect x="99.50" y="167.11" width="27.90" height="1.25" fill="#ef9778"/>
<rect x="99.50" y="168.31" width="27.90" height="1.55" fill="#f69e7f"/>
<rect x="99.50" y="169.81" width="27.90" height="1.05" fill="#ed9576"/>
<rect x="99.50" y="170.81" width="27.90" height="1.05" fill="#f39b7c"/>
<rect x="99.50" y="171.81" width="27.90" height="1.05" fill="#f49c7d"/>
<rect x="99.50" y="172.81" width="27.90" height="1.05" fill="#ee9677"/>
<rect x="99.50" y="173.81" width="27.90" height="1.55" fill="#ec9475"/>
<rect x="99.50" y="175.31" width="27.90" height="1.25" fill="#f29a7b"/>
<rect x="99.50" y="176.51" width="27.90" height="0.58" fill="#e68e6f"/>
<rect x="99.50" y="177.03" width="27.90" height="2.05" fill="#f7b498"/>
<rect x="99.50" y="179.03" width="27.90" height="1.05" fill="#f7b497"/>
<rect x="99.50" y="180.03" width="27.90" height="1.05" fill="#febb9e"/>
<rect x="99.50" y="181.03" width="27.90" height="1.05" fill="#f6b497"/>
<rect x="99.50" y="182.03" width="27.90" height="1.55" fill="#f2af92"/>
<rect x="99.50" y="183.53" width="27.90" height="0.99" fill="#f5b295"/>
<rect x="99.50" y="184.48" width="27.90" height="1.55" fill="#f3b69a"/>
<rect x="99.50" y="185.98" width="27.90" height="1.05" fill="#fabda1"/>
<rect x="99.50" y="186.98" width="27.90" height="1.55" fill="#f5b89c"/>
<rect x="99.50" y="188.48" width="27.90" height="1.55" fill="#fabca0"/>
<rect x="99.50" y="189.98" width="27.90" height="1.55" fill="#f6b99d"/>
<rect x="99.50" y="191.48" width="27.90" height="0.49" fill="#efb196"/>
<rect x="99.50" y="191.92" width="27.90" height="1.55" fill="#ee997b"/>
<rect x="99.50" y="193.42" width="27.90" height="2.05" fill="#ee997b"/>
<rect x="99.50" y="195.42" width="27.90" height="1.05" fill="#e79274"/>
<rect x="99.50" y="196.42" width="27.90" height="1.55" fill="#f29e7f"/>
<rect x="99.50" y="197.92" width="27.90" height="2.05" fill="#ed997a"/>
<rect x="99.50" y="199.92" width="27.90" height="1.25" fill="#e99476"/>
<rect x="99.50" y="201.12" width="27.90" height="1.05" fill="#eb9778"/>
<rect x="99.50" y="202.12" width="27.90" height="2.05" fill="#ed987a"/>
<rect x="99.50" y="204.12" width="27.90" height="0.88" fill="#eb9677"/>
<rect x="99.50" y="205.00" width="27.90" height="1.05" fill="#f19d7e"/>
<rect x="99.50" y="206.00" width="27.90" height="1.05" fill="#f09c7d"/>
<rect x="99.50" y="207.00" width="27.90" height="1.25" fill="#f39f81"/>
<rect x="99.50" y="208.20" width="27.90" height="1.19" fill="#e79374"/>
<rect x="99.50" y="209.34" width="27.90" height="1.55" fill="#f0e0d9"/>
<rect x="99.50" y="210.84" width="27.90" height="1.25" fill="#f6e6e0"/>
<rect x="99.50" y="212.04" width="27.90" height="1.25" fill="#faeae4"/>
<rect x="99.50" y="213.24" width="27.90" height="2.05" fill="#fcede6"/>
<rect x="99.50" y="215.24" width="27.90" height="0.97" fill="#fff1ea"/>
<rect x="99.50" y="216.17" width="27.90" height="2.05" fill="#f9ceb9"/>
<rect x="99.50" y="218.17" width="27.90" height="1.05" fill="#f0c5af"/>
<rect x="99.50" y="219.17" width="27.90" height="1.55" fill="#f4c9b4"/>
<rect x="99.50" y="220.67" width="27.90" height="1.75" fill="#fcd0bb"/>
<rect x="99.50" y="222.37" width="27.90" height="1.05" fill="#eb9879"/>
<rect x="99.50" y="223.37" width="27.90" height="1.55" fill="#f5a283"/>
<rect x="99.50" y="224.87" width="27.90" height="1.25" fill="#ef9d7e"/>
<rect x="99.50" y="226.07" width="27.90" height="1.25" fill="#f6a485"/>
<rect x="99.50" y="227.27" width="27.90" height="2.05" fill="#f8a687"/>
<rect x="99.50" y="229.27" width="27.90" height="2.05" fill="#f09e7f"/>
<rect x="99.50" y="231.27" width="27.90" height="1.25" fill="#e99678"/>
<rect x="99.50" y="232.47" width="27.90" height="1.05" fill="#f09d7e"/>
<rect x="99.50" y="233.47" width="27.90" height="1.55" fill="#ec997b"/>
<rect x="99.50" y="234.97" width="27.90" height="2.05" fill="#ee9c7d"/>
<rect x="99.50" y="236.97" width="27.90" height="1.55" fill="#f4a182"/>
<rect x="99.50" y="238.47" width="27.90" height="1.55" fill="#f6a385"/>
<rect x="99.50" y="239.97" width="27.90" height="1.06" fill="#f5a284"/>
<rect x="99.50" y="240.98" width="27.90" height="1.25" fill="#fcccb5"/>
<rect x="99.50" y="242.18" width="27.90" height="1.25" fill="#f7c7b0"/>
<rect x="99.50" y="243.38" width="27.90" height="1.25" fill="#ffd0b9"/>
<rect x="99.50" y="244.58" width="27.90" height="0.17" fill="#ffd0b8"/>
<rect x="99.50" y="244.70" width="27.90" height="1.55" fill="#ef9a7a"/>
<rect x="99.50" y="246.20" width="27.90" height="1.25" fill="#f19c7d"/>
<rect x="99.50" y="247.40" width="27.90" height="1.55" fill="#fda888"/>
<rect x="99.50" y="248.90" width="27.90" height="1.05" fill="#f49f7f"/>
<rect x="99.50" y="249.90" width="27.90" height="1.25" fill="#f6a282"/>
<rect x="99.50" y="251.10" width="27.90" height="2.05" fill="#f29d7d"/>
<rect x="99.50" y="253.10" width="27.90" height="1.55" fill="#f29e7e"/>
<rect x="99.50" y="254.60" width="27.90" height="0.08" fill="#ed9879"/>
<rect x="99.50" y="254.63" width="27.90" height="1.05" fill="#cd403a"/>
<rect x="99.50" y="255.63" width="27.90" height="1.55" fill="#cd403a"/>
<rect x="99.50" y="257.13" width="27.90" height="1.05" fill="#d1443e"/>
<rect x="99.50" y="258.13" width="27.90" height="1.05" fill="#c53832"/>
<rect x="99.50" y="259.13" width="27.90" height="1.13" fill="#d1443e"/>
<rect x="99.50" y="260.21" width="27.90" height="1.55" fill="#df7055"/>
<rect x="99.50" y="261.71" width="27.90" height="2.05" fill="#e27458"/>
<rect x="99.50" y="263.71" width="27.90" height="1.05" fill="#e17257"/>
<rect x="99.50" y="264.71" width="27.90" height="2.05" fill="#d6684d"/>
<rect x="99.50" y="266.71" width="27.90" height="2.05" fill="#e6775c"/>
<rect x="99.50" y="268.71" width="27.90" height="1.25" fill="#db6d51"/>
<rect x="99.50" y="269.91" width="27.90" height="1.25" fill="#de7054"/>
<rect x="99.50" y="271.11" width="27.90" height="1.55" fill="#dd6f53"/>
<rect x="99.50" y="272.61" width="27.90" height="1.30" fill="#e07256"/>
<rect x="99.50" y="273.86" width="27.90" height="2.05" fill="#e4eaf0"/>
<rect x="99.50" y="275.86" width="27.90" height="0.53" fill="#e7eef3"/>
<rect x="99.50" y="276.34" width="27.90" height="1.25" fill="#df785b"/>
<rect x="99.50" y="277.54" width="27.90" height="1.55" fill="#ea8367"/>
<rect x="99.50" y="279.04" width="27.90" height="1.05" fill="#e27b5f"/>
<rect x="99.50" y="280.04" width="27.90" height="2.05" fill="#df785c"/>
<rect x="99.50" y="282.04" width="27.90" height="1.25" fill="#e67f62"/>
<rect x="99.50" y="283.24" width="27.90" height="1.55" fill="#e78164"/>
<rect x="99.50" y="284.74" width="27.90" height="0.96" fill="#e27b5e"/>
<rect x="99.50" y="285.65" width="27.90" height="1.05" fill="#f5a082"/>
<rect x="99.50" y="286.65" width="27.90" height="1.25" fill="#f19c7d"/>
<rect x="99.50" y="287.85" width="27.90" height="1.25" fill="#ed9879"/>
<rect x="99.50" y="289.05" width="27.90" height="2.05" fill="#ef9a7b"/>
<rect x="99.50" y="291.05" width="27.90" height="1.25" fill="#ee997a"/>
<rect x="99.50" y="292.25" width="27.90" height="1.55" fill="#e99476"/>
<rect x="99.50" y="293.75" width="27.90" height="1.26" fill="#e59071"/>
<rect x="99.50" y="294.99" width="27.90" height="1.25" fill="#f8a586"/>
<rect x="99.50" y="296.19" width="27.90" height="1.25" fill="#eb9879"/>
<rect x="99.50" y="297.39" width="27.90" height="1.05" fill="#f7a485"/>
<rect x="99.50" y="298.39" width="27.90" height="1.36" fill="#ef9c7d"/>
<rect x="99.50" y="299.70" width="27.90" height="2.05" fill="#f5c5ae"/>
<rect x="99.50" y="301.70" width="27.90" height="2.05" fill="#f9cab2"/>
<rect x="99.50" y="303.70" width="27.90" height="1.63" fill="#f8c9b1"/>
<rect x="99.50" y="305.29" width="27.90" height="1.55" fill="#f3ece9"/>
<rect x="99.50" y="306.79" width="27.90" height="1.55" fill="#f4edea"/>
<rect x="99.50" y="308.29" width="27.90" height="0.15" fill="#fbf4f1"/>
<rect x="99.50" y="308.39" width="27.90" height="1.25" fill="#f6d8ca"/>
<rect x="99.50" y="309.59" width="27.90" height="2.05" fill="#f6d7c9"/>
<rect x="99.50" y="311.59" width="27.90" height="1.05" fill="#f9dbcd"/>
<rect x="99.50" y="312.59" width="27.90" height="0.81" fill="#f2d4c6"/>
<rect x="99.50" y="313.35" width="27.90" height="1.25" fill="#efefef"/>
<rect x="99.50" y="314.55" width="27.90" height="1.25" fill="#eaeaea"/>
<rect x="99.50" y="315.75" width="27.90" height="0.13" fill="#f4f4f4"/>
<rect x="99.50" y="315.83" width="27.90" height="2.05" fill="#c92137"/>
<rect x="99.50" y="317.83" width="27.90" height="1.15" fill="#c0192e"/>
<rect x="99.50" y="318.93" width="27.90" height="2.05" fill="#d6644c"/>
<rect x="99.50" y="320.93" width="27.90" height="1.55" fill="#e4715a"/>
<rect x="99.50" y="322.43" width="27.90" height="2.05" fill="#d7644d"/>
<rect x="99.50" y="324.43" width="27.90" height="1.25" fill="#cf5c45"/>
<rect x="99.50" y="325.63" width="27.90" height="2.03" fill="#e4725a"/>
<rect x="99.50" y="327.62" width="27.90" height="1.55" fill="#cd403a"/>
<rect x="99.50" y="329.12" width="27.90" height="1.55" fill="#cd403a"/>
<rect x="99.50" y="330.62" width="27.90" height="1.63" fill="#d1443e"/>
<rect x="127.40" y="25.80" width="27.90" height="0.49" fill="#e7b6ad"/>
<rect x="127.40" y="26.24" width="27.90" height="1.55" fill="#de6953"/>
<rect x="127.40" y="27.74" width="27.90" height="1.25" fill="#e46f59"/>
<rect x="127.40" y="28.94" width="27.90" height="1.05" fill="#d7624c"/>
<rect x="127.40" y="29.94" width="27.90" height="1.05" fill="#e06b55"/>
<rect x="127.40" y="30.94" width="27.90" height="0.93" fill="#d15d47"/>
<rect x="127.40" y="31.82" width="27.90" height="1.55" fill="#ec9376"/>
<rect x="127.40" y="33.32" width="27.90" height="1.05" fill="#ec9376"/>
<rect x="127.40" y="34.32" width="27.90" height="1.25" fill="#f49b7d"/>
<rect x="127.40" y="35.52" width="27.90" height="0.69" fill="#eb9274"/>
<rect x="127.40" y="36.17" width="27.90" height="1.05" fill="#ce5842"/>
<rect x="127.40" y="37.17" width="27.90" height="1.25" fill="#d25c46"/>
<rect x="127.40" y="38.37" width="27.90" height="0.95" fill="#d55f49"/>
<rect x="127.40" y="39.27" width="27.90" height="2.05" fill="#f19d7e"/>
<rect x="127.40" y="41.27" width="27.90" height="1.25" fill="#e99476"/>
<rect x="127.40" y="42.47" width="27.90" height="1.05" fill="#ea9577"/>
<rect x="127.40" y="43.47" width="27.90" height="0.19" fill="#f29d7e"/>
<rect x="127.40" y="43.61" width="27.90" height="1.05" fill="#fde9db"/>
<rect x="127.40" y="44.61" width="27.90" height="1.53" fill="#fae0d2"/>
<rect x="127.40" y="46.09" width="27.90" height="1.05" fill="#f0a17f"/>
<rect x="127.40" y="47.09" width="27.90" height="1.55" fill="#ea9b79"/>
<rect x="127.40" y="48.59" width="27.90" height="2.05" fill="#f7a785"/>
<rect x="127.40" y="50.59" width="27.90" height="2.05" fill="#ed9d7b"/>
<rect x="127.40" y="52.59" width="27.90" height="0.99" fill="#f0a17f"/>
<rect x="127.40" y="53.54" width="27.90" height="2.05" fill="#f8e7de"/>
<rect x="127.40" y="55.54" width="27.90" height="1.05" fill="#fbeae1"/>
<rect x="127.40" y="56.54" width="27.90" height="0.15" fill="#fbeae1"/>
<rect x="127.40" y="56.64" width="27.90" height="1.91" fill="#f1b399"/>
<rect x="127.40" y="58.50" width="27.90" height="1.55" fill="#dd6851"/>
<rect x="127.40" y="60.00" width="27.90" height="2.05" fill="#d6614a"/>
<rect x="127.40" y="62.00" width="27.90" height="0.27" fill="#dc6750"/>
<rect x="127.40" y="62.22" width="27.90" height="1.05" fill="#f6a383"/>
<rect x="127.40" y="63.22" width="27.90" height="1.05" fill="#eb9979"/>
<rect x="127.40" y="64.22" width="27.90" height="0.53" fill="#ec9a7a"/>
<rect x="127.40" y="64.70" width="27.90" height="1.05" fill="#f3d5c7"/>
<rect x="127.40" y="65.70" width="27.90" height="1.25" fill="#f8dbcd"/>
<rect x="127.40" y="66.90" width="27.90" height="0.95" fill="#fadcce"/>
<rect x="127.40" y="67.80" width="27.90" height="1.25" fill="#ffeee6"/>
<rect x="127.40" y="69.00" width="27.90" height="1.55" fill="#ffefe7"/>
<rect x="127.40" y="70.50" width="27.90" height="0.45" fill="#feede5"/>
<rect x="127.40" y="70.91" width="27.90" height="2.05" fill="#f8bfa6"/>
<rect x="127.40" y="72.91" width="27.90" height="1.25" fill="#f0b89f"/>
<rect x="127.40" y="74.11" width="27.90" height="0.57" fill="#f2baa0"/>
<rect x="127.40" y="74.63" width="27.90" height="1.05" fill="#fbdcce"/>
<rect x="127.40" y="75.63" width="27.90" height="1.55" fill="#f6d7ca"/>
<rect x="127.40" y="77.13" width="27.90" height="1.27" fill="#ffe3d5"/>
<rect x="127.40" y="78.35" width="27.90" height="1.55" fill="#f0b093"/>
<rect x="127.40" y="79.85" width="27.90" height="1.55" fill="#f4b497"/>
<rect x="127.40" y="81.35" width="27.90" height="1.25" fill="#efaf92"/>
<rect x="127.40" y="82.55" width="27.90" height="0.81" fill="#edac90"/>
<rect x="127.40" y="83.31" width="27.90" height="1.25" fill="#f4ba9f"/>
<rect x="127.40" y="84.51" width="27.90" height="1.05" fill="#f9c0a5"/>
<rect x="127.40" y="85.51" width="27.90" height="1.05" fill="#f0b79c"/>
<rect x="127.40" y="86.51" width="27.90" height="0.57" fill="#f9c0a4"/>
<rect x="127.40" y="87.03" width="27.90" height="1.05" fill="#ef9f7f"/>
<rect x="127.40" y="88.03" width="27.90" height="1.05" fill="#f3a282"/>
<rect x="127.40" y="89.03" width="27.90" height="1.25" fill="#f4a383"/>
<rect x="127.40" y="90.23" width="27.90" height="1.05" fill="#ec9c7c"/>
<rect x="127.40" y="91.23" width="27.90" height="2.05" fill="#ec9b7c"/>
<rect x="127.40" y="93.23" width="27.90" height="1.05" fill="#ed9c7c"/>
<rect x="127.40" y="94.23" width="27.90" height="0.29" fill="#f8a888"/>
<rect x="127.40" y="94.48" width="27.90" height="1.25" fill="#f5a989"/>
<rect x="127.40" y="95.68" width="27.90" height="1.05" fill="#eea282"/>
<rect x="127.40" y="96.68" width="27.90" height="2.05" fill="#eb9e7f"/>
<rect x="127.40" y="98.68" width="27.90" height="1.05" fill="#faad8d"/>
<rect x="127.40" y="99.68" width="27.90" height="1.55" fill="#f0a383"/>
<rect x="127.40" y="101.18" width="27.90" height="1.25" fill="#f5a889"/>
<rect x="127.40" y="102.38" width="27.90" height="1.55" fill="#eda181"/>
<rect x="127.40" y="103.88" width="27.90" height="1.55" fill="#f4a888"/>
<rect x="127.40" y="105.38" width="27.90" height="1.05" fill="#f5a888"/>
<rect x="127.40" y="106.38" width="27.90" height="2.05" fill="#eda181"/>
<rect x="127.40" y="108.38" width="27.90" height="1.05" fill="#f1a485"/>
<rect x="127.40" y="109.38" width="27.90" height="2.05" fill="#f2a686"/>
<rect x="127.40" y="111.38" width="27.90" height="0.52" fill="#f3a687"/>
<rect x="127.40" y="111.85" width="27.90" height="2.05" fill="#edb69e"/>
<rect x="127.40" y="113.85" width="27.90" height="1.15" fill="#f1bba3"/>
<rect x="127.40" y="115.00" width="27.90" height="1.05" fill="#f6a283"/>
<rect x="127.40" y="116.00" width="27.90" height="1.25" fill="#f29e7e"/>
<rect x="127.40" y="117.20" width="27.90" height="2.05" fill="#f29e7e"/>
<rect x="127.40" y="119.20" width="27.90" height="0.81" fill="#eb9777"/>
<rect x="127.40" y="119.96" width="27.90" height="2.05" fill="#ee9576"/>
<rect x="127.40" y="121.96" width="27.90" height="1.05" fill="#f09778"/>
<rect x="127.40" y="122.96" width="27.90" height="2.01" fill="#f59c7d"/>
<rect x="127.40" y="124.93" width="27.90" height="1.05" fill="#f19e7e"/>
<rect x="127.40" y="125.93" width="27.90" height="0.91" fill="#f29e7e"/>
<rect x="127.40" y="126.79" width="27.90" height="1.91" fill="#fbdccf"/>
<rect x="127.40" y="128.65" width="27.90" height="1.05" fill="#e6eef4"/>
<rect x="127.40" y="129.65" width="27.90" height="2.05" fill="#eef6fb"/>
<rect x="127.40" y="131.65" width="27.90" height="0.77" fill="#ecf4f9"/>
<rect x="127.40" y="132.37" width="27.90" height="1.25" fill="#f6d6c6"/>
<rect x="127.40" y="133.57" width="27.90" height="1.05" fill="#f7d6c6"/>
<rect x="127.40" y="134.57" width="27.90" height="0.33" fill="#ffdece"/>
<rect x="127.40" y="134.85" width="27.90" height="1.54" fill="#f0e9e4"/>
<rect x="127.40" y="136.34" width="27.90" height="1.05" fill="#a6c9de"/>
<rect x="127.40" y="137.34" width="27.90" height="1.05" fill="#b0d3e8"/>
<rect x="127.40" y="138.34" width="27.90" height="1.05" fill="#b0d2e8"/>
<rect x="127.40" y="139.34" width="27.90" height="0.52" fill="#accfe4"/>
<rect x="127.40" y="139.81" width="27.90" height="1.25" fill="#88c1e0"/>
<rect x="127.40" y="141.01" width="27.90" height="1.33" fill="#7db6d6"/>
<rect x="127.40" y="142.30" width="27.90" height="2.05" fill="#8dc0db"/>
<rect x="127.40" y="144.30" width="27.90" height="2.05" fill="#8fc1dc"/>
<rect x="127.40" y="146.30" width="27.90" height="1.05" fill="#8ec0db"/>
<rect x="127.40" y="147.30" width="27.90" height="1.55" fill="#93c5e0"/>
<rect x="127.40" y="148.80" width="27.90" height="2.05" fill="#8fc2dd"/>
<rect x="127.40" y="150.80" width="27.90" height="0.23" fill="#8abcd7"/>
<rect x="127.40" y="150.98" width="27.90" height="1.55" fill="#e3f1fa"/>
<rect x="127.40" y="152.48" width="27.90" height="1.55" fill="#ddeaf3"/>
<rect x="127.40" y="153.98" width="27.90" height="1.55" fill="#dfedf6"/>
<rect x="127.40" y="155.48" width="27.90" height="1.05" fill="#e1eef7"/>
<rect x="127.40" y="156.48" width="27.90" height="0.75" fill="#d7e5ee"/>
<rect x="127.40" y="157.18" width="27.90" height="2.05" fill="#c1ddef"/>
<rect x="127.40" y="159.18" width="27.90" height="2.05" fill="#bcd8ea"/>
<rect x="127.40" y="161.18" width="27.90" height="1.01" fill="#b4d0e2"/>
<rect x="127.40" y="162.15" width="27.90" height="2.05" fill="#7bb3d4"/>
<rect x="127.40" y="164.15" width="27.90" height="0.53" fill="#80b8d8"/>
<rect x="127.40" y="164.63" width="27.90" height="1.55" fill="#9bc6de"/>
<rect x="127.40" y="166.13" width="27.90" height="2.05" fill="#a5d1e8"/>
<rect x="127.40" y="168.13" width="27.90" height="1.05" fill="#a8d4eb"/>
<rect x="127.40" y="169.13" width="27.90" height="1.55" fill="#a3cfe6"/>
<rect x="127.40" y="170.63" width="27.90" height="1.25" fill="#97c2da"/>
<rect x="127.40" y="171.83" width="27.90" height="1.55" fill="#a8d3eb"/>
<rect x="127.40" y="173.33" width="27.90" height="2.05" fill="#9dc9e1"/>
<rect x="127.40" y="175.33" width="27.90" height="1.55" fill="#99c4dc"/>
<rect x="127.40" y="176.83" width="27.90" height="2.05" fill="#9dc9e1"/>
<rect x="127.40" y="178.83" width="27.90" height="2.05" fill="#a1cde4"/>
<rect x="127.40" y="180.83" width="27.90" height="1.22" fill="#a7d2ea"/>
<rect x="127.40" y="182.00" width="27.90" height="1.55" fill="#88bcd6"/>
<rect x="127.40" y="183.50" width="27.90" height="2.05" fill="#89bdd8"/>
<rect x="127.40" y="185.50" width="27.90" height="1.25" fill="#94c7e2"/>
<rect x="127.40" y="186.70" width="27.90" height="1.05" fill="#8bbed9"/>
<rect x="127.40" y="187.70" width="27.90" height="1.79" fill="#8cbfda"/>
<rect x="127.40" y="189.44" width="27.90" height="1.55" fill="#9ecae1"/>
<rect x="127.40" y="190.94" width="27.90" height="1.05" fill="#9ecae1"/>
<rect x="127.40" y="191.94" width="27.90" height="1.55" fill="#a4d0e7"/>
<rect x="127.40" y="193.44" width="27.90" height="1.55" fill="#97c3da"/>
<rect x="127.40" y="194.94" width="27.90" height="1.25" fill="#9fcae2"/>
<rect x="127.40" y="196.14" width="27.90" height="1.25" fill="#9fcae2"/>
<rect x="127.40" y="197.34" width="27.90" height="1.55" fill="#a1cce4"/>
<rect x="127.40" y="198.84" width="27.90" height="0.58" fill="#99c5dd"/>
<rect x="127.40" y="199.37" width="27.90" height="1.25" fill="#6aabd1"/>
<rect x="127.40" y="200.57" width="27.90" height="1.25" fill="#7dbee4"/>
<rect x="127.40" y="201.77" width="27.90" height="0.13" fill="#71b2d8"/>
<rect x="127.40" y="201.85" width="27.90" height="1.05" fill="#a6cae0"/>
<rect x="127.40" y="202.85" width="27.90" height="1.05" fill="#aed2e8"/>
<rect x="127.40" y="203.85" width="27.90" height="1.15" fill="#a9cde4"/>
<rect x="127.40" y="205.00" width="27.90" height="1.55" fill="#8dc1dd"/>
<rect x="127.40" y="206.50" width="27.90" height="1.05" fill="#8ec3df"/>
<rect x="127.40" y="207.50" width="27.90" height="2.05" fill="#8ec2de"/>
<rect x="127.40" y="209.50" width="27.90" height="1.25" fill="#8bc0dc"/>
<rect x="127.40" y="210.70" width="27.90" height="0.55" fill="#94c9e5"/>
<rect x="127.40" y="211.20" width="27.90" height="1.05" fill="#a6d1e9"/>
<rect x="127.40" y="212.20" width="27.90" height="1.25" fill="#9bc6de"/>
<rect x="127.40" y="213.40" width="27.90" height="1.55" fill="#a0cce3"/>
<rect x="127.40" y="214.90" width="27.90" height="1.25" fill="#9ac5dd"/>
<rect x="127.40" y="216.10" width="27.90" height="2.05" fill="#9fcbe2"/>
<rect x="127.40" y="218.10" width="27.90" height="0.59" fill="#9ecae2"/>
<rect x="127.40" y="218.65" width="27.90" height="2.05" fill="#66a6cc"/>
<rect x="127.40" y="220.65" width="27.90" height="1.05" fill="#70b0d6"/>
<rect x="127.40" y="221.65" width="27.90" height="2.01" fill="#77b6dc"/>
<rect x="127.40" y="223.61" width="27.90" height="1.05" fill="#8cc0da"/>
<rect x="127.40" y="224.61" width="27.90" height="1.55" fill="#8fc2dc"/>
<rect x="127.40" y="226.11" width="27.90" height="1.05" fill="#93c7e1"/>
<rect x="127.40" y="227.11" width="27.90" height="2.05" fill="#94c8e1"/>
<rect x="127.40" y="229.11" width="27.90" height="1.55" fill="#99cde6"/>
<rect x="127.40" y="230.61" width="27.90" height="1.25" fill="#94c7e1"/>
<rect x="127.40" y="231.81" width="27.90" height="1.05" fill="#90c3dd"/>
<rect x="127.40" y="232.81" width="27.90" height="0.78" fill="#92c5df"/>
<rect x="127.40" y="233.54" width="27.90" height="1.05" fill="#93c3de"/>
<rect x="127.40" y="234.54" width="27.90" height="1.05" fill="#93c3de"/>
<rect x="127.40" y="235.54" width="27.90" height="2.05" fill="#99cae5"/>
<rect x="127.40" y="237.54" width="27.90" height="1.05" fill="#97c7e2"/>
<rect x="127.40" y="238.54" width="27.90" height="1.05" fill="#96c6e1"/>
<rect x="127.40" y="239.54" width="27.90" height="1.25" fill="#92c2dd"/>
<rect x="127.40" y="240.74" width="27.90" height="2.05" fill="#90c0db"/>
<rect x="127.40" y="242.74" width="27.90" height="1.05" fill="#8fbfda"/>
<rect x="127.40" y="243.74" width="27.90" height="2.05" fill="#94c5df"/>
<rect x="127.40" y="245.74" width="27.90" height="1.05" fill="#90c0db"/>
<rect x="127.40" y="246.74" width="27.90" height="2.05" fill="#97c7e2"/>
<rect x="127.40" y="248.74" width="27.90" height="1.25" fill="#97c8e2"/>
<rect x="127.40" y="249.94" width="27.90" height="1.05" fill="#89b9d4"/>
<rect x="127.40" y="250.94" width="27.90" height="1.26" fill="#93c3de"/>
<rect x="127.40" y="252.15" width="27.90" height="1.05" fill="#5aa3ce"/>
<rect x="127.40" y="253.15" width="27.90" height="1.25" fill="#61aad4"/>
<rect x="127.40" y="254.35" width="27.90" height="0.33" fill="#5ca5d0"/>
<rect x="127.40" y="254.63" width="27.90" height="1.25" fill="#c1ddf0"/>
<rect x="127.40" y="255.83" width="27.90" height="2.05" fill="#b3cfe2"/>
<rect x="127.40" y="257.83" width="27.90" height="1.05" fill="#bbd7ea"/>
<rect x="127.40" y="258.83" width="27.90" height="0.81" fill="#bbd7ea"/>
<rect x="127.40" y="259.59" width="27.90" height="1.55" fill="#72b2d8"/>
<rect x="127.40" y="261.09" width="27.90" height="1.55" fill="#6baad0"/>
<rect x="127.40" y="262.59" width="27.90" height="1.25" fill="#6cabd2"/>
<rect x="127.40" y="263.79" width="27.90" height="0.81" fill="#77b7dd"/>
<rect x="127.40" y="264.55" width="27.90" height="2.05" fill="#9bc7de"/>
<rect x="127.40" y="266.55" width="27.90" height="1.25" fill="#9dc8e0"/>
<rect x="127.40" y="267.75" width="27.90" height="1.55" fill="#9ac6dd"/>
<rect x="127.40" y="269.25" width="27.90" height="1.05" fill="#9fcbe3"/>
<rect x="127.40" y="270.25" width="27.90" height="1.55" fill="#9ac5dd"/>
<rect x="127.40" y="271.75" width="27.90" height="1.25" fill="#9cc7df"/>
<rect x="127.40" y="272.95" width="27.90" height="1.55" fill="#99c5dc"/>
<rect x="127.40" y="274.45" width="27.90" height="0.08" fill="#9ec9e1"/>
<rect x="127.40" y="274.48" width="27.90" height="1.05" fill="#dceaf4"/>
<rect x="127.40" y="275.48" width="27.90" height="0.91" fill="#deebf5"/>
<rect x="127.40" y="276.34" width="27.90" height="2.05" fill="#8dc2de"/>
<rect x="127.40" y="278.34" width="27.90" height="1.25" fill="#89beda"/>
<rect x="127.40" y="279.54" width="27.90" height="1.55" fill="#88bdd9"/>
<rect x="127.40" y="281.04" width="27.90" height="1.25" fill="#8dc2de"/>
<rect x="127.40" y="282.24" width="27.90" height="1.25" fill="#8fc4e0"/>
<rect x="127.40" y="283.44" width="27.90" height="1.01" fill="#8ec3df"/>
<rect x="127.40" y="284.40" width="27.90" height="1.05" fill="#eef5fb"/>
<rect x="127.40" y="285.40" width="27.90" height="1.25" fill="#dbe2e8"/>
<rect x="127.40" y="286.60" width="27.90" height="1.05" fill="#e2e9ee"/>
<rect x="127.40" y="287.60" width="27.90" height="1.25" fill="#eaf0f6"/>
<rect x="127.40" y="288.80" width="27.90" height="1.85" fill="#f1f8fd"/>
<rect x="127.40" y="290.61" width="27.90" height="1.55" fill="#acd0e5"/>
<rect x="127.40" y="292.11" width="27.90" height="1.25" fill="#abcfe4"/>
<rect x="127.40" y="293.31" width="27.90" height="1.69" fill="#add1e6"/>
<rect x="127.40" y="294.99" width="27.90" height="1.25" fill="#a4cbe2"/>
<rect x="127.40" y="296.19" width="27.90" height="1.25" fill="#a7cfe6"/>
<rect x="127.40" y="297.39" width="27.90" height="1.25" fill="#a3cbe2"/>
<rect x="127.40" y="298.59" width="27.90" height="1.05" fill="#a1c8e0"/>
<rect x="127.40" y="299.59" width="27.90" height="0.16" fill="#aad2e9"/>
<rect x="127.40" y="299.70" width="27.90" height="1.55" fill="#c5dce9"/>
<rect x="127.40" y="301.20" width="27.90" height="1.03" fill="#cce3f0"/>
<rect x="127.40" y="302.18" width="27.90" height="1.25" fill="#b1d5eb"/>
<rect x="127.40" y="303.38" width="27.90" height="1.55" fill="#aacfe5"/>
<rect x="127.40" y="304.88" width="27.90" height="2.05" fill="#acd1e6"/>
<rect x="127.40" y="306.88" width="27.90" height="1.05" fill="#a5cae0"/>
<rect x="127.40" y="307.88" width="27.90" height="1.55" fill="#a9cee4"/>
<rect x="127.40" y="309.38" width="27.90" height="0.29" fill="#aed3e8"/>
<rect x="127.40" y="309.63" width="27.90" height="2.05" fill="#84bddd"/>
<rect x="127.40" y="311.63" width="27.90" height="0.53" fill="#84bddd"/>
<rect x="127.40" y="312.11" width="27.90" height="1.25" fill="#bad6e9"/>
<rect x="127.40" y="313.31" width="27.90" height="1.55" fill="#c4e0f4"/>
<rect x="127.40" y="314.81" width="27.90" height="1.05" fill="#bfdbee"/>
<rect x="127.40" y="315.81" width="27.90" height="1.55" fill="#b8d4e7"/>
<rect x="127.40" y="317.31" width="27.90" height="1.05" fill="#bcd8eb"/>
<rect x="127.40" y="318.31" width="27.90" height="1.05" fill="#68a9d1"/>
<rect x="127.40" y="319.31" width="27.90" height="1.55" fill="#6daed6"/>
<rect x="127.40" y="320.81" width="27.90" height="1.27" fill="#61a2ca"/>
<rect x="127.40" y="322.03" width="27.90" height="1.55" fill="#9dc5dd"/>
<rect x="127.40" y="323.53" width="27.90" height="1.03" fill="#a8d0e7"/>
<rect x="127.40" y="324.52" width="27.90" height="1.05" fill="#e0eaf1"/>
<rect x="127.40" y="325.52" width="27.90" height="1.25" fill="#eff9ff"/>
<rect x="127.40" y="326.72" width="27.90" height="0.95" fill="#e4eef4"/>
<rect x="127.40" y="327.62" width="27.90" height="1.25" fill="#aad0e6"/>
<rect x="127.40" y="328.82" width="27.90" height="1.05" fill="#abd1e8"/>
<rect x="127.40" y="329.82" width="27.90" height="1.05" fill="#aed4ea"/>
<rect x="127.40" y="330.82" width="27.90" height="1.25" fill="#acd2e9"/>
<rect x="127.40" y="332.02" width="27.90" height="0.23" fill="#aed4eb"/>
<rect x="155.30" y="25.80" width="28.00" height="2.05" fill="#f8c4ac"/>
<rect x="155.30" y="27.80" width="28.00" height="0.97" fill="#f7c3ab"/>
<rect x="155.30" y="28.72" width="28.00" height="1.05" fill="#f4e8e2"/>
<rect x="155.30" y="29.72" width="28.00" height="1.25" fill="#f9ece7"/>
<rect x="155.30" y="30.92" width="28.00" height="0.95" fill="#f7ebe5"/>
<rect x="155.30" y="31.82" width="28.00" height="1.55" fill="#f7c5ab"/>
<rect x="155.30" y="33.32" width="28.00" height="1.25" fill="#f7c4ab"/>
<rect x="155.30" y="34.52" width="28.00" height="0.45" fill="#f7c4ab"/>
<rect x="155.30" y="34.93" width="28.00" height="2.05" fill="#f4e8e2"/>
<rect x="155.30" y="36.93" width="28.00" height="2.05" fill="#fbefe9"/>
<rect x="155.30" y="38.93" width="28.00" height="0.39" fill="#fff2ed"/>
<rect x="155.30" y="39.27" width="28.00" height="2.05" fill="#dc6f54"/>
<rect x="155.30" y="41.27" width="28.00" height="1.05" fill="#dd7056"/>
<rect x="155.30" y="42.27" width="28.00" height="2.05" fill="#e3765b"/>
<rect x="155.30" y="44.27" width="28.00" height="1.55" fill="#e17459"/>
<rect x="155.30" y="45.77" width="28.00" height="0.37" fill="#da6c52"/>
<rect x="155.30" y="46.09" width="28.00" height="2.05" fill="#f5a081"/>
<rect x="155.30" y="48.09" width="28.00" height="1.55" fill="#f39e7f"/>
<rect x="155.30" y="49.59" width="28.00" height="1.05" fill="#e69173"/>
<rect x="155.30" y="50.59" width="28.00" height="1.55" fill="#e38e6f"/>
<rect x="155.30" y="52.09" width="28.00" height="0.87" fill="#ee997a"/>
<rect x="155.30" y="52.92" width="28.00" height="1.25" fill="#ca3131"/>
<rect x="155.30" y="54.12" width="28.00" height="1.05" fill="#bf2727"/>
<rect x="155.30" y="55.12" width="28.00" height="1.55" fill="#c72f2f"/>
<rect x="155.30" y="56.62" width="28.00" height="0.07" fill="#c72e2e"/>
<rect x="155.30" y="56.64" width="28.00" height="2.05" fill="#de6f59"/>
<rect x="155.30" y="58.64" width="28.00" height="0.53" fill="#e3745e"/>
<rect x="155.30" y="59.12" width="28.00" height="1.25" fill="#efaf92"/>
<rect x="155.30" y="60.32" width="28.00" height="1.33" fill="#f6b698"/>
<rect x="155.30" y="61.60" width="28.00" height="1.05" fill="#d7e9f4"/>
<rect x="155.30" y="62.60" width="28.00" height="1.05" fill="#cadce7"/>
<rect x="155.30" y="63.60" width="28.00" height="1.05" fill="#d8eaf5"/>
<rect x="155.30" y="64.60" width="28.00" height="0.77" fill="#cee0eb"/>
<rect x="155.30" y="65.32" width="28.00" height="1.05" fill="#ec9b7b"/>
<rect x="155.30" y="66.32" width="28.00" height="1.05" fill="#ec9b7b"/>
<rect x="155.30" y="67.32" width="28.00" height="2.05" fill="#ef9e7e"/>
<rect x="155.30" y="69.32" width="28.00" height="1.05" fill="#f19f7f"/>
<rect x="155.30" y="70.32" width="28.00" height="0.63" fill="#ed9c7c"/>
<rect x="155.30" y="70.91" width="28.00" height="1.05" fill="#f9ede7"/>
<rect x="155.30" y="71.91" width="28.00" height="1.55" fill="#fcf1ea"/>
<rect x="155.30" y="73.41" width="28.00" height="1.25" fill="#faeee8"/>
<rect x="155.30" y="74.61" width="28.00" height="0.07" fill="#f8ede6"/>
<rect x="155.30" y="74.63" width="28.00" height="1.55" fill="#f6b89c"/>
<rect x="155.30" y="76.13" width="28.00" height="2.05" fill="#f1b297"/>
<rect x="155.30" y="78.13" width="28.00" height="0.89" fill="#f3b498"/>
<rect x="155.30" y="78.97" width="28.00" height="1.55" fill="#fce5d9"/>
<rect x="155.30" y="80.47" width="28.00" height="1.25" fill="#f3dcd0"/>
<rect x="155.30" y="81.67" width="28.00" height="1.07" fill="#fbe4d8"/>
<rect x="155.30" y="82.69" width="28.00" height="2.05" fill="#f19174"/>
<rect x="155.30" y="84.69" width="28.00" height="1.55" fill="#e68568"/>
<rect x="155.30" y="86.19" width="28.00" height="0.89" fill="#e68669"/>
<rect x="155.30" y="87.03" width="28.00" height="1.05" fill="#f19d7d"/>
<rect x="155.30" y="88.03" width="28.00" height="2.05" fill="#f5a080"/>
<rect x="155.30" y="90.03" width="28.00" height="2.05" fill="#f6a181"/>
<rect x="155.30" y="92.03" width="28.00" height="1.25" fill="#f29d7d"/>
<rect x="155.30" y="93.23" width="28.00" height="1.55" fill="#ec9777"/>
<rect x="155.30" y="94.73" width="28.00" height="1.55" fill="#ef9a7b"/>
<rect x="155.30" y="96.23" width="28.00" height="1.25" fill="#ef9a7a"/>
<rect x="155.30" y="97.43" width="28.00" height="1.25" fill="#f9a585"/>
<rect x="155.30" y="98.63" width="28.00" height="1.05" fill="#ee9979"/>
<rect x="155.30" y="99.63" width="28.00" height="1.05" fill="#ee9a7a"/>
<rect x="155.30" y="100.63" width="28.00" height="2.05" fill="#f49f7f"/>
<rect x="155.30" y="102.63" width="28.00" height="1.05" fill="#ed9879"/>
<rect x="155.30" y="103.63" width="28.00" height="1.25" fill="#f9a484"/>
<rect x="155.30" y="104.83" width="28.00" height="1.25" fill="#f19c7c"/>
<rect x="155.30" y="106.03" width="28.00" height="2.05" fill="#ef9a7a"/>
<rect x="155.30" y="108.03" width="28.00" height="1.25" fill="#f5a081"/>
<rect x="155.30" y="109.23" width="28.00" height="1.55" fill="#f49f7f"/>
<rect x="155.30" y="110.73" width="28.00" height="1.16" fill="#ec9777"/>
<rect x="155.30" y="111.85" width="28.00" height="1.55" fill="#f9ccb5"/>
<rect x="155.30" y="113.35" width="28.00" height="1.25" fill="#f0c2ac"/>
<rect x="155.30" y="114.55" width="28.00" height="0.45" fill="#f8cab4"/>
<rect x="155.30" y="115.00" width="28.00" height="1.05" fill="#f09c7d"/>
<rect x="155.30" y="116.00" width="28.00" height="1.53" fill="#e49071"/>
<rect x="155.30" y="117.48" width="28.00" height="1.25" fill="#febb9c"/>
<rect x="155.30" y="118.68" width="28.00" height="2.05" fill="#f7b495"/>
<rect x="155.30" y="120.68" width="28.00" height="1.05" fill="#f1ae90"/>
<rect x="155.30" y="121.68" width="28.00" height="2.05" fill="#f9b697"/>
<rect x="155.30" y="123.68" width="28.00" height="1.55" fill="#eeab8d"/>
<rect x="155.30" y="125.18" width="28.00" height="1.55" fill="#f3b092"/>
<rect x="155.30" y="126.68" width="28.00" height="0.78" fill="#f9b698"/>
<rect x="155.30" y="127.41" width="28.00" height="1.55" fill="#ef866a"/>
<rect x="155.30" y="128.91" width="28.00" height="2.05" fill="#e77e62"/>
<rect x="155.30" y="130.91" width="28.00" height="1.51" fill="#e47b5f"/>
<rect x="155.30" y="132.37" width="28.00" height="1.55" fill="#d35141"/>
<rect x="155.30" y="133.87" width="28.00" height="1.25" fill="#cd4c3c"/>
<rect x="155.30" y="135.07" width="28.00" height="1.25" fill="#d35242"/>
<rect x="155.30" y="136.27" width="28.00" height="0.12" fill="#d35242"/>
<rect x="155.30" y="136.34" width="28.00" height="1.25" fill="#a7cbe1"/>
<rect x="155.30" y="137.54" width="28.00" height="1.55" fill="#acd0e7"/>
<rect x="155.30" y="139.04" width="28.00" height="0.82" fill="#b0d4ea"/>
<rect x="155.30" y="139.81" width="28.00" height="1.05" fill="#c8e1f2"/>
<rect x="155.30" y="140.81" width="28.00" height="2.05" fill="#c3ddee"/>
<rect x="155.30" y="142.81" width="28.00" height="0.77" fill="#c9e3f4"/>
<rect x="155.30" y="143.54" width="28.00" height="2.05" fill="#dfe9f0"/>
<rect x="155.30" y="145.54" width="28.00" height="1.15" fill="#dfe9f0"/>
<rect x="155.30" y="146.64" width="28.00" height="1.55" fill="#61aad4"/>
<rect x="155.30" y="148.14" width="28.00" height="2.05" fill="#65aed8"/>
<rect x="155.30" y="150.14" width="28.00" height="0.89" fill="#5ba4cf"/>
<rect x="155.30" y="150.98" width="28.00" height="1.05" fill="#90c0da"/>
<rect x="155.30" y="151.98" width="28.00" height="1.25" fill="#98c8e2"/>
<rect x="155.30" y="153.18" width="28.00" height="1.25" fill="#9acae4"/>
<rect x="155.30" y="154.38" width="28.00" height="2.05" fill="#93c3dd"/>
<rect x="155.30" y="156.38" width="28.00" height="1.55" fill="#92c2dc"/>
<rect x="155.30" y="157.88" width="28.00" height="1.05" fill="#8dbdd7"/>
<rect x="155.30" y="158.88" width="28.00" height="0.83" fill="#91c2db"/>
<rect x="155.30" y="159.67" width="28.00" height="1.05" fill="#92c5e0"/>
<rect x="155.30" y="160.67" width="28.00" height="1.55" fill="#8bbfda"/>
<rect x="155.30" y="162.17" width="28.00" height="1.55" fill="#8ec1dc"/>
<rect x="155.30" y="163.67" width="28.00" height="1.55" fill="#94c8e3"/>
<rect x="155.30" y="165.17" width="28.00" height="2.05" fill="#80b4cf"/>
<rect x="155.30" y="167.17" width="28.00" height="1.23" fill="#85b8d3"/>
<rect x="155.30" y="168.35" width="28.00" height="1.25" fill="#57a3d0"/>
<rect x="155.30" y="169.55" width="28.00" height="1.25" fill="#57a3d0"/>
<rect x="155.30" y="170.75" width="28.00" height="0.75" fill="#59a5d2"/>
<rect x="155.30" y="171.45" width="28.00" height="1.55" fill="#97c3da"/>
<rect x="155.30" y="172.95" width="28.00" height="1.05" fill="#9bc6de"/>
<rect x="155.30" y="173.95" width="28.00" height="2.05" fill="#9ecae1"/>
<rect x="155.30" y="175.95" width="28.00" height="1.05" fill="#9ec9e1"/>
<rect x="155.30" y="176.95" width="28.00" height="1.55" fill="#9cc7df"/>
<rect x="155.30" y="178.45" width="28.00" height="1.05" fill="#9fcbe2"/>
<rect x="155.30" y="179.45" width="28.00" height="1.05" fill="#9fcbe3"/>
<rect x="155.30" y="180.45" width="28.00" height="1.55" fill="#a3cfe6"/>
<rect x="155.30" y="181.95" width="28.00" height="1.25" fill="#99c5dc"/>
<rect x="155.30" y="183.15" width="28.00" height="1.05" fill="#9bc7de"/>
<rect x="155.30" y="184.15" width="28.00" height="1.25" fill="#a2cee5"/>
<rect x="155.30" y="185.35" width="28.00" height="1.05" fill="#a5d0e8"/>
<rect x="155.30" y="186.35" width="28.00" height="0.66" fill="#a0cce3"/>
<rect x="155.30" y="186.96" width="28.00" height="2.05" fill="#6cadd5"/>
<rect x="155.30" y="188.96" width="28.00" height="1.15" fill="#63a4cc"/>
<rect x="155.30" y="190.06" width="28.00" height="1.05" fill="#8ebed9"/>
<rect x="155.30" y="191.06" width="28.00" height="1.05" fill="#91c1dc"/>
<rect x="155.30" y="192.06" width="28.00" height="1.25" fill="#8dbed8"/>
<rect x="155.30" y="193.26" width="28.00" height="1.25" fill="#92c2dd"/>
<rect x="155.30" y="194.46" width="28.00" height="1.55" fill="#96c6e1"/>
<rect x="155.30" y="195.96" width="28.00" height="1.05" fill="#9bcbe6"/>
<rect x="155.30" y="196.96" width="28.00" height="1.05" fill="#8abad5"/>
<rect x="155.30" y="197.96" width="28.00" height="1.55" fill="#96c6e1"/>
<rect x="155.30" y="199.46" width="28.00" height="1.05" fill="#9acae5"/>
<rect x="155.30" y="200.46" width="28.00" height="0.20" fill="#94c5df"/>
<rect x="155.30" y="200.61" width="28.00" height="1.05" fill="#cfe6f3"/>
<rect x="155.30" y="201.61" width="28.00" height="2.05" fill="#cee4f2"/>
<rect x="155.30" y="203.61" width="28.00" height="1.25" fill="#cce2ef"/>
<rect x="155.30" y="204.81" width="28.00" height="0.19" fill="#cee4f2"/>
<rect x="155.30" y="205.00" width="28.00" height="1.25" fill="#e7f2f8"/>
<rect x="155.30" y="206.20" width="28.00" height="1.55" fill="#ecf6fd"/>
<rect x="155.30" y="207.70" width="28.00" height="2.05" fill="#e2ecf3"/>
<rect x="155.30" y="209.70" width="28.00" height="0.31" fill="#dfe9ef"/>
<rect x="155.30" y="209.96" width="28.00" height="2.05" fill="#aad0e6"/>
<rect x="155.30" y="211.96" width="28.00" height="1.05" fill="#a8cee4"/>
<rect x="155.30" y="212.96" width="28.00" height="1.25" fill="#add3e9"/>
<rect x="155.30" y="214.16" width="28.00" height="2.05" fill="#a4cae0"/>
<rect x="155.30" y="216.17" width="28.00" height="2.05" fill="#7abadf"/>
<rect x="155.30" y="218.17" width="28.00" height="0.53" fill="#72b2d7"/>
<rect x="155.30" y="218.65" width="28.00" height="1.25" fill="#b7d4e6"/>
<rect x="155.30" y="219.85" width="28.00" height="1.25" fill="#b9d6e8"/>
<rect x="155.30" y="221.05" width="28.00" height="1.55" fill="#bddaec"/>
<rect x="155.30" y="222.55" width="28.00" height="1.11" fill="#b8d6e7"/>
<rect x="155.30" y="223.61" width="28.00" height="2.05" fill="#9fc9e1"/>
<rect x="155.30" y="225.61" width="28.00" height="1.55" fill="#9ec9e0"/>
<rect x="155.30" y="227.11" width="28.00" height="1.05" fill="#a1cbe3"/>
<rect x="155.30" y="228.11" width="28.00" height="2.05" fill="#a2cce4"/>
<rect x="155.30" y="230.11" width="28.00" height="1.25" fill="#9cc6de"/>
<rect x="155.30" y="231.31" width="28.00" height="2.05" fill="#a1cce3"/>
<rect x="155.30" y="233.31" width="28.00" height="1.25" fill="#a4cee6"/>
<rect x="155.30" y="234.51" width="28.00" height="2.05" fill="#a7d2e9"/>
<rect x="155.30" y="236.51" width="28.00" height="1.55" fill="#a1cce3"/>
<rect x="155.30" y="238.01" width="28.00" height="1.25" fill="#a0cae2"/>
<rect x="155.30" y="239.21" width="28.00" height="1.25" fill="#a2cde5"/>
<rect x="155.30" y="240.41" width="28.00" height="1.55" fill="#97c2d9"/>
<rect x="155.30" y="241.91" width="28.00" height="2.05" fill="#9dc8df"/>
<rect x="155.30" y="243.91" width="28.00" height="2.05" fill="#a4cfe7"/>
<rect x="155.30" y="245.91" width="28.00" height="1.25" fill="#98c3da"/>
<rect x="155.30" y="247.11" width="28.00" height="1.55" fill="#9bc6dd"/>
<rect x="155.30" y="248.61" width="28.00" height="2.05" fill="#a6d1e8"/>
<rect x="155.30" y="250.61" width="28.00" height="1.25" fill="#9ec9e0"/>
<rect x="155.30" y="251.81" width="28.00" height="0.39" fill="#a5d0e7"/>
<rect x="155.30" y="252.15" width="28.00" height="1.25" fill="#faf0e9"/>
<rect x="155.30" y="253.35" width="28.00" height="0.71" fill="#f0e5df"/>
<rect x="155.30" y="254.01" width="28.00" height="2.05" fill="#b3d1e5"/>
<rect x="155.30" y="256.01" width="28.00" height="1.25" fill="#b5d3e6"/>
<rect x="155.30" y="257.21" width="28.00" height="2.05" fill="#b5d3e6"/>
<rect x="155.30" y="259.21" width="28.00" height="0.43" fill="#b5d3e6"/>
<rect x="155.30" y="259.59" width="28.00" height="1.05" fill="#e8eef1"/>
<rect x="155.30" y="260.59" width="28.00" height="0.91" fill="#ebf1f4"/>
<rect x="155.30" y="261.45" width="28.00" height="1.05" fill="#a9cce2"/>
<rect x="155.30" y="262.45" width="28.00" height="1.55" fill="#a7cbe0"/>
<rect x="155.30" y="263.95" width="28.00" height="1.05" fill="#aacee4"/>
<rect x="155.30" y="264.95" width="28.00" height="1.25" fill="#add1e7"/>
<rect x="155.30" y="266.15" width="28.00" height="1.25" fill="#a9cde2"/>
<rect x="155.30" y="267.35" width="28.00" height="1.05" fill="#b3d7ec"/>
<rect x="155.30" y="268.35" width="28.00" height="1.05" fill="#a8cce1"/>
<rect x="155.30" y="269.35" width="28.00" height="1.55" fill="#aacee3"/>
<rect x="155.30" y="270.85" width="28.00" height="1.25" fill="#b0d4e9"/>
<rect x="155.30" y="272.05" width="28.00" height="1.25" fill="#aed2e7"/>
<rect x="155.30" y="273.25" width="28.00" height="1.55" fill="#b2d6eb"/>
<rect x="155.30" y="274.75" width="28.00" height="1.02" fill="#b2d6eb"/>
<rect x="155.30" y="275.72" width="28.00" height="1.29" fill="#dae4eb"/>
<rect x="155.30" y="276.96" width="28.00" height="1.25" fill="#92c7e3"/>
<rect x="155.30" y="278.16" width="28.00" height="1.55" fill="#8ec2de"/>
<rect x="155.30" y="279.66" width="28.00" height="1.07" fill="#90c5e1"/>
<rect x="155.30" y="280.68" width="28.00" height="2.05" fill="#acd3eb"/>
<rect x="155.30" y="282.68" width="28.00" height="2.05" fill="#a6cde4"/>
<rect x="155.30" y="284.68" width="28.00" height="1.25" fill="#a9d1e8"/>
<rect x="155.30" y="285.88" width="28.00" height="1.05" fill="#a4cbe3"/>
<rect x="155.30" y="286.88" width="28.00" height="1.25" fill="#a3cae2"/>
<rect x="155.30" y="288.08" width="28.00" height="1.25" fill="#a8cfe7"/>
<rect x="155.30" y="289.28" width="28.00" height="1.05" fill="#9fc6dd"/>
<rect x="155.30" y="290.28" width="28.00" height="0.38" fill="#a8cfe7"/>
<rect x="155.30" y="290.61" width="28.00" height="1.25" fill="#e5eef4"/>
<rect x="155.30" y="291.81" width="28.00" height="0.71" fill="#e2ebf1"/>
<rect x="155.30" y="292.47" width="28.00" height="1.55" fill="#9ec4dc"/>
<rect x="155.30" y="293.97" width="28.00" height="1.03" fill="#9ec4db"/>
<rect x="155.30" y="294.99" width="28.00" height="2.05" fill="#aed0e6"/>
<rect x="155.30" y="296.99" width="28.00" height="2.05" fill="#abcde3"/>
<rect x="155.30" y="298.99" width="28.00" height="1.55" fill="#b1d3e9"/>
<rect x="155.30" y="300.49" width="28.00" height="0.51" fill="#add0e5"/>
<rect x="155.30" y="300.94" width="28.00" height="1.05" fill="#6fb0d8"/>
<rect x="155.30" y="301.94" width="28.00" height="1.05" fill="#65a6cf"/>
<rect x="155.30" y="302.94" width="28.00" height="1.25" fill="#69aad3"/>
<rect x="155.30" y="304.14" width="28.00" height="1.55" fill="#69aad2"/>
<rect x="155.30" y="305.64" width="28.00" height="0.31" fill="#6bacd4"/>
<rect x="155.30" y="305.91" width="28.00" height="1.05" fill="#b8d4e7"/>
<rect x="155.30" y="306.91" width="28.00" height="2.05" fill="#bbd7ea"/>
<rect x="155.30" y="308.91" width="28.00" height="0.77" fill="#b8d4e7"/>
<rect x="155.30" y="309.63" width="28.00" height="1.55" fill="#dee9ef"/>
<rect x="155.30" y="311.13" width="28.00" height="1.03" fill="#e2ecf3"/>
<rect x="155.30" y="312.11" width="28.00" height="2.05" fill="#77b6dd"/>
<rect x="155.30" y="314.11" width="28.00" height="1.77" fill="#6cacd2"/>
<rect x="155.30" y="315.83" width="28.00" height="1.05" fill="#b7d5e8"/>
<rect x="155.30" y="316.83" width="28.00" height="1.25" fill="#b5d4e7"/>
<rect x="155.30" y="318.03" width="28.00" height="1.57" fill="#b9d7ea"/>
<rect x="155.30" y="319.55" width="28.00" height="1.55" fill="#69aad2"/>
<rect x="155.30" y="321.05" width="28.00" height="1.03" fill="#5d9ec7"/>
<rect x="155.30" y="322.03" width="28.00" height="1.25" fill="#a8cce1"/>
<rect x="155.30" y="323.23" width="28.00" height="1.55" fill="#acd0e5"/>
<rect x="155.30" y="324.73" width="28.00" height="1.07" fill="#aed2e7"/>
<rect x="155.30" y="325.76" width="28.00" height="1.55" fill="#6dadd3"/>
<rect x="155.30" y="327.26" width="28.00" height="1.03" fill="#71b1d7"/>
<rect x="155.30" y="328.24" width="28.00" height="1.25" fill="#acd2e9"/>
<rect x="155.30" y="329.44" width="28.00" height="2.05" fill="#acd3ea"/>
<rect x="155.30" y="331.44" width="28.00" height="0.81" fill="#a6cce4"/>
<rect x="183.30" y="25.80" width="28.15" height="2.05" fill="#f8cdb9"/>
<rect x="183.30" y="27.80" width="28.15" height="1.25" fill="#fdd1bd"/>
<rect x="183.30" y="29.00" width="28.15" height="1.01" fill="#f7cbb7"/>
<rect x="183.30" y="29.96" width="28.15" height="1.25" fill="#f19c7c"/>
<rect x="183.30" y="31.16" width="28.15" height="1.25" fill="#ed9878"/>
<rect x="183.30" y="32.36" width="28.15" height="1.55" fill="#ed9978"/>
<rect x="183.30" y="33.86" width="28.15" height="2.05" fill="#ed9878"/>
<rect x="183.30" y="35.86" width="28.15" height="1.25" fill="#ee9978"/>
<rect x="183.30" y="37.06" width="28.15" height="1.63" fill="#ec9877"/>
<rect x="183.30" y="38.65" width="28.15" height="2.05" fill="#f2eeee"/>
<rect x="183.30" y="40.65" width="28.15" height="1.55" fill="#efebeb"/>
<rect x="183.30" y="42.15" width="28.15" height="0.27" fill="#efebeb"/>
<rect x="183.30" y="42.37" width="28.15" height="1.05" fill="#facfba"/>
<rect x="183.30" y="43.37" width="28.15" height="1.55" fill="#f7cbb6"/>
<rect x="183.30" y="44.87" width="28.15" height="1.27" fill="#faceb9"/>
<rect x="183.30" y="46.09" width="28.15" height="2.05" fill="#f5a888"/>
<rect x="183.30" y="48.09" width="28.15" height="2.05" fill="#f2a484"/>
<rect x="183.30" y="50.09" width="28.15" height="2.05" fill="#efa181"/>
<rect x="183.30" y="52.09" width="28.15" height="0.87" fill="#f1a383"/>
<rect x="183.30" y="52.92" width="28.15" height="1.05" fill="#fbfeff"/>
<rect x="183.30" y="53.92" width="28.15" height="2.05" fill="#edeff4"/>
<rect x="183.30" y="55.92" width="28.15" height="1.05" fill="#eceef3"/>
<rect x="183.30" y="56.92" width="28.15" height="1.55" fill="#e7eaee"/>
<rect x="183.30" y="58.42" width="28.15" height="1.05" fill="#e4e7eb"/>
<rect x="183.30" y="59.42" width="28.15" height="2.05" fill="#e2e4e9"/>
<rect x="183.30" y="61.42" width="28.15" height="0.23" fill="#edeff4"/>
<rect x="183.30" y="61.60" width="28.15" height="1.55" fill="#ce483b"/>
<rect x="183.30" y="63.10" width="28.15" height="1.05" fill="#ce483b"/>
<rect x="183.30" y="64.10" width="28.15" height="1.55" fill="#cd463a"/>
<rect x="183.30" y="65.60" width="28.15" height="1.01" fill="#da5346"/>
<rect x="183.30" y="66.56" width="28.15" height="1.05" fill="#e98165"/>
<rect x="183.30" y="67.56" width="28.15" height="2.05" fill="#e87f63"/>
<rect x="183.30" y="69.56" width="28.15" height="1.25" fill="#e2795e"/>
<rect x="183.30" y="70.76" width="28.15" height="0.81" fill="#ec8367"/>
<rect x="183.30" y="71.53" width="28.15" height="1.55" fill="#d4483f"/>
<rect x="183.30" y="73.03" width="28.15" height="1.55" fill="#ca3e35"/>
<rect x="183.30" y="74.53" width="28.15" height="0.15" fill="#d4483f"/>
<rect x="183.30" y="74.63" width="28.15" height="1.55" fill="#e78165"/>
<rect x="183.30" y="76.13" width="28.15" height="1.55" fill="#e98467"/>
<rect x="183.30" y="77.63" width="28.15" height="0.77" fill="#e78164"/>
<rect x="183.30" y="78.35" width="28.15" height="2.05" fill="#d45242"/>
<rect x="183.30" y="80.35" width="28.15" height="1.05" fill="#d85646"/>
<rect x="183.30" y="81.35" width="28.15" height="2.01" fill="#d04e3e"/>
<rect x="183.30" y="83.31" width="28.15" height="1.25" fill="#fbb89c"/>
<rect x="183.30" y="84.51" width="28.15" height="1.05" fill="#f4b195"/>
<rect x="183.30" y="85.51" width="28.15" height="1.25" fill="#f3b094"/>
<rect x="183.30" y="86.71" width="28.15" height="2.05" fill="#f2af92"/>
<rect x="183.30" y="88.71" width="28.15" height="0.85" fill="#f6b396"/>
<rect x="183.30" y="89.52" width="28.15" height="2.05" fill="#f4aa8a"/>
<rect x="183.30" y="91.52" width="28.15" height="2.05" fill="#f6ac8c"/>
<rect x="183.30" y="93.52" width="28.15" height="1.05" fill="#fbb191"/>
<rect x="183.30" y="94.52" width="28.15" height="1.05" fill="#f9ae8f"/>
<rect x="183.30" y="95.52" width="28.15" height="2.05" fill="#eba181"/>
<rect x="183.30" y="97.52" width="28.15" height="1.25" fill="#f2a888"/>
<rect x="183.30" y="98.72" width="28.15" height="2.05" fill="#fbb091"/>
<rect x="183.30" y="100.72" width="28.15" height="1.55" fill="#f4aa8a"/>
<rect x="183.30" y="102.22" width="28.15" height="1.25" fill="#f4a98a"/>
<rect x="183.30" y="103.42" width="28.15" height="1.25" fill="#f3a989"/>
<rect x="183.30" y="104.62" width="28.15" height="1.55" fill="#f4a98a"/>
<rect x="183.30" y="106.12" width="28.15" height="1.25" fill="#eda383"/>
<rect x="183.30" y="107.32" width="28.15" height="2.05" fill="#f5aa8b"/>
<rect x="183.30" y="109.32" width="28.15" height="2.05" fill="#feb494"/>
<rect x="183.30" y="111.32" width="28.15" height="1.25" fill="#f1a787"/>
<rect x="183.30" y="112.52" width="28.15" height="2.05" fill="#fab090"/>
<rect x="183.30" y="114.52" width="28.15" height="0.48" fill="#f2a788"/>
<rect x="183.30" y="115.00" width="28.15" height="1.55" fill="#ec9778"/>
<rect x="183.30" y="116.50" width="28.15" height="2.05" fill="#ec9879"/>
<rect x="183.30" y="118.50" width="28.15" height="1.55" fill="#e89374"/>
<rect x="183.30" y="120.00" width="28.15" height="1.55" fill="#f09b7c"/>
<rect x="183.30" y="121.50" width="28.15" height="1.55" fill="#e89375"/>
<rect x="183.30" y="123.00" width="28.15" height="1.25" fill="#ee997a"/>
<rect x="183.30" y="124.20" width="28.15" height="1.25" fill="#ed9879"/>
<rect x="183.30" y="125.40" width="28.15" height="1.05" fill="#ea9577"/>
<rect x="183.30" y="126.40" width="28.15" height="1.06" fill="#ed9879"/>
<rect x="183.30" y="127.41" width="28.15" height="2.05" fill="#c93d36"/>
<rect x="183.30" y="129.41" width="28.15" height="1.55" fill="#c73b34"/>
<rect x="183.30" y="130.91" width="28.15" height="0.89" fill="#cc4039"/>
<rect x="183.30" y="131.75" width="28.15" height="1.55" fill="#f9b695"/>
<rect x="183.30" y="133.25" width="28.15" height="1.25" fill="#f9b695"/>
<rect x="183.30" y="134.45" width="28.15" height="1.05" fill="#f8b595"/>
<rect x="183.30" y="135.45" width="28.15" height="0.94" fill="#ffbd9c"/>
<rect x="183.30" y="136.34" width="28.15" height="1.25" fill="#b0d1e5"/>
<rect x="183.30" y="137.54" width="28.15" height="2.05" fill="#b3d4e8"/>
<rect x="183.30" y="139.54" width="28.15" height="1.25" fill="#b1d1e5"/>
<rect x="183.30" y="140.74" width="28.15" height="1.05" fill="#b3d3e7"/>
<rect x="183.30" y="141.74" width="28.15" height="1.05" fill="#b8d9ed"/>
<rect x="183.30" y="142.74" width="28.15" height="2.05" fill="#aecee3"/>
<rect x="183.30" y="144.74" width="28.15" height="1.25" fill="#b8d9ed"/>
<rect x="183.30" y="145.94" width="28.15" height="1.05" fill="#afd0e4"/>
<rect x="183.30" y="146.94" width="28.15" height="0.37" fill="#adcde1"/>
<rect x="183.30" y="147.26" width="28.15" height="1.25" fill="#f7eee9"/>
<rect x="183.30" y="148.46" width="28.15" height="1.25" fill="#ede4df"/>
<rect x="183.30" y="149.66" width="28.15" height="1.25" fill="#f2e9e3"/>
<rect x="183.30" y="150.86" width="28.15" height="0.79" fill="#f6ece7"/>
<rect x="183.30" y="151.60" width="28.15" height="1.25" fill="#8ec2dc"/>
<rect x="183.30" y="152.80" width="28.15" height="1.05" fill="#90c3dd"/>
<rect x="183.30" y="153.80" width="28.15" height="1.25" fill="#91c4de"/>
<rect x="183.30" y="155.00" width="28.15" height="2.05" fill="#8ec1db"/>
<rect x="183.30" y="157.00" width="28.15" height="2.05" fill="#98cbe5"/>
<rect x="183.30" y="159.00" width="28.15" height="1.05" fill="#89bcd6"/>
<rect x="183.30" y="160.00" width="28.15" height="1.05" fill="#89bdd6"/>
<rect x="183.30" y="161.00" width="28.15" height="1.55" fill="#94c8e1"/>
<rect x="183.30" y="162.50" width="28.15" height="0.94" fill="#97cbe5"/>
<rect x="183.30" y="163.39" width="28.15" height="1.05" fill="#c3dded"/>
<rect x="183.30" y="164.39" width="28.15" height="1.55" fill="#bfdaea"/>
<rect x="183.30" y="165.89" width="28.15" height="1.55" fill="#c1dcec"/>
<rect x="183.30" y="167.39" width="28.15" height="1.55" fill="#c0dbea"/>
<rect x="183.30" y="168.89" width="28.15" height="0.75" fill="#bfdae9"/>
<rect x="183.30" y="169.59" width="28.15" height="1.05" fill="#98c8e2"/>
<rect x="183.30" y="170.59" width="28.15" height="1.05" fill="#9bcbe5"/>
<rect x="183.30" y="171.59" width="28.15" height="1.55" fill="#91c1db"/>
<rect x="183.30" y="173.09" width="28.15" height="1.55" fill="#97c7e0"/>
<rect x="183.30" y="174.59" width="28.15" height="2.05" fill="#9acae4"/>
<rect x="183.30" y="176.59" width="28.15" height="1.05" fill="#96c6e0"/>
<rect x="183.30" y="177.59" width="28.15" height="1.05" fill="#8fbfd9"/>
<rect x="183.30" y="178.59" width="28.15" height="1.55" fill="#97c7e1"/>
<rect x="183.30" y="180.09" width="28.15" height="1.55" fill="#9acbe4"/>
<rect x="183.30" y="181.59" width="28.15" height="0.46" fill="#98c8e2"/>
<rect x="183.30" y="182.00" width="28.15" height="1.55" fill="#a5cae0"/>
<rect x="183.30" y="183.50" width="28.15" height="1.55" fill="#acd1e6"/>
<rect x="183.30" y="185.00" width="28.15" height="1.55" fill="#abd0e5"/>
<rect x="183.30" y="186.50" width="28.15" height="1.25" fill="#a5cae0"/>
<rect x="183.30" y="187.70" width="28.15" height="1.05" fill="#abd0e6"/>
<rect x="183.30" y="188.70" width="28.15" height="1.05" fill="#b1d6eb"/>
<rect x="183.30" y="189.70" width="28.15" height="2.05" fill="#aed3e8"/>
<rect x="183.30" y="191.70" width="28.15" height="2.05" fill="#b3d7ed"/>
<rect x="183.30" y="193.70" width="28.15" height="2.05" fill="#a9cee4"/>
<rect x="183.30" y="195.70" width="28.15" height="2.05" fill="#add2e7"/>
<rect x="183.30" y="197.70" width="28.15" height="1.05" fill="#b7dcf2"/>
<rect x="183.30" y="198.70" width="28.15" height="1.55" fill="#a9cee4"/>
<rect x="183.30" y="200.20" width="28.15" height="1.25" fill="#aed3e8"/>
<rect x="183.30" y="201.40" width="28.15" height="0.50" fill="#add2e7"/>
<rect x="183.30" y="201.85" width="28.15" height="2.05" fill="#67afda"/>
<rect x="183.30" y="203.85" width="28.15" height="1.15" fill="#59a2cd"/>
<rect x="183.30" y="205.00" width="28.15" height="1.55" fill="#6dadd3"/>
<rect x="183.30" y="206.50" width="28.15" height="1.55" fill="#76b6dc"/>
<rect x="183.30" y="208.00" width="28.15" height="1.55" fill="#70b0d6"/>
<rect x="183.30" y="209.50" width="28.15" height="0.51" fill="#75b5db"/>
<rect x="183.30" y="209.96" width="28.15" height="1.05" fill="#dce9f2"/>
<rect x="183.30" y="210.96" width="28.15" height="1.25" fill="#dbe8f1"/>
<rect x="183.30" y="212.16" width="28.15" height="0.33" fill="#d8e6ef"/>
<rect x="183.30" y="212.44" width="28.15" height="1.55" fill="#cbe7fa"/>
<rect x="183.30" y="213.94" width="28.15" height="1.55" fill="#c3dff2"/>
<rect x="183.30" y="215.44" width="28.15" height="1.25" fill="#bedaed"/>
<rect x="183.30" y="216.64" width="28.15" height="1.05" fill="#bdd9ec"/>
<rect x="183.30" y="217.64" width="28.15" height="1.25" fill="#bedaed"/>
<rect x="183.30" y="218.84" width="28.15" height="1.05" fill="#b6d2e5"/>
<rect x="183.30" y="219.84" width="28.15" height="1.55" fill="#bfdbee"/>
<rect x="183.30" y="221.34" width="28.15" height="1.08" fill="#b4d0e3"/>
<rect x="183.30" y="222.37" width="28.15" height="1.25" fill="#a7cce2"/>
<rect x="183.30" y="223.57" width="28.15" height="1.55" fill="#a5cae0"/>
<rect x="183.30" y="225.07" width="28.15" height="1.55" fill="#a2c7dd"/>
<rect x="183.30" y="226.57" width="28.15" height="1.55" fill="#a8cde4"/>
<rect x="183.30" y="228.07" width="28.15" height="2.05" fill="#a5cae0"/>
<rect x="183.30" y="230.07" width="28.15" height="1.55" fill="#afd4eb"/>
<rect x="183.30" y="231.57" width="28.15" height="2.05" fill="#9ec3da"/>
<rect x="183.30" y="233.57" width="28.15" height="1.25" fill="#a9cde4"/>
<rect x="183.30" y="234.77" width="28.15" height="1.55" fill="#abd0e6"/>
<rect x="183.30" y="236.27" width="28.15" height="2.05" fill="#acd0e7"/>
<rect x="183.30" y="238.27" width="28.15" height="2.05" fill="#a3c8de"/>
<rect x="183.30" y="240.27" width="28.15" height="0.76" fill="#abd0e6"/>
<rect x="183.30" y="240.98" width="28.15" height="1.25" fill="#9bc7de"/>
<rect x="183.30" y="242.18" width="28.15" height="1.55" fill="#9cc8df"/>
<rect x="183.30" y="243.68" width="28.15" height="1.55" fill="#9dc8e0"/>
<rect x="183.30" y="245.18" width="28.15" height="1.55" fill="#97c3da"/>
<rect x="183.30" y="246.68" width="28.15" height="1.05" fill="#a3cfe7"/>
<rect x="183.30" y="247.68" width="28.15" height="1.05" fill="#9ac6de"/>
<rect x="183.30" y="248.68" width="28.15" height="1.25" fill="#9cc8df"/>
<rect x="183.30" y="249.88" width="28.15" height="2.05" fill="#a2cee5"/>
<rect x="183.30" y="251.88" width="28.15" height="1.55" fill="#a5d1e8"/>
<rect x="183.30" y="253.38" width="28.15" height="1.05" fill="#9cc8df"/>
<rect x="183.30" y="254.38" width="28.15" height="0.30" fill="#9cc8df"/>
<rect x="183.30" y="254.63" width="28.15" height="1.55" fill="#66acd5"/>
<rect x="183.30" y="256.13" width="28.15" height="1.05" fill="#64a9d3"/>
<rect x="183.30" y="257.13" width="28.15" height="1.25" fill="#5ca2cb"/>
<rect x="183.30" y="258.33" width="28.15" height="0.07" fill="#64aad3"/>
<rect x="183.30" y="258.35" width="28.15" height="1.25" fill="#b7d8ec"/>
<rect x="183.30" y="259.55" width="28.15" height="1.55" fill="#b6d8ec"/>
<rect x="183.30" y="261.05" width="28.15" height="1.25" fill="#accee2"/>
<rect x="183.30" y="262.25" width="28.15" height="1.11" fill="#b0d2e6"/>
<rect x="183.30" y="263.31" width="28.15" height="1.05" fill="#7fb3cf"/>
<rect x="183.30" y="264.31" width="28.15" height="1.05" fill="#94c9e5"/>
<rect x="183.30" y="265.31" width="28.15" height="1.55" fill="#90c4e0"/>
<rect x="183.30" y="266.81" width="28.15" height="1.25" fill="#90c4e0"/>
<rect x="183.30" y="268.01" width="28.15" height="1.05" fill="#8cc0dc"/>
<rect x="183.30" y="269.01" width="28.15" height="1.55" fill="#8fc3df"/>
<rect x="183.30" y="270.51" width="28.15" height="1.53" fill="#8abfdb"/>
<rect x="183.30" y="272.00" width="28.15" height="1.05" fill="#b4d1e4"/>
<rect x="183.30" y="273.00" width="28.15" height="1.55" fill="#b3d0e3"/>
<rect x="183.30" y="274.50" width="28.15" height="1.25" fill="#bcd9ec"/>
<rect x="183.30" y="275.70" width="28.15" height="1.05" fill="#b9d6e9"/>
<rect x="183.30" y="276.70" width="28.15" height="1.05" fill="#b4d1e4"/>
<rect x="183.30" y="277.70" width="28.15" height="2.05" fill="#b4d1e4"/>
<rect x="183.30" y="279.70" width="28.15" height="2.05" fill="#b7d4e7"/>
<rect x="183.30" y="281.70" width="28.15" height="1.05" fill="#bddaed"/>
<rect x="183.30" y="282.70" width="28.15" height="0.52" fill="#bddaed"/>
<rect x="183.30" y="283.16" width="28.15" height="1.55" fill="#eeeeee"/>
<rect x="183.30" y="284.66" width="28.15" height="0.41" fill="#eaeaea"/>
<rect x="183.30" y="285.02" width="28.15" height="1.55" fill="#62abd5"/>
<rect x="183.30" y="286.52" width="28.15" height="1.25" fill="#60a9d4"/>
<rect x="183.30" y="287.72" width="28.15" height="1.25" fill="#5fa8d3"/>
<rect x="183.30" y="288.92" width="28.15" height="1.05" fill="#5ba4ce"/>
<rect x="183.30" y="289.92" width="28.15" height="1.55" fill="#61aad5"/>
<rect x="183.30" y="291.42" width="28.15" height="1.25" fill="#5aa3cd"/>
<rect x="183.30" y="292.62" width="28.15" height="1.55" fill="#58a1cb"/>
<rect x="183.30" y="294.12" width="28.15" height="0.88" fill="#5ea6d1"/>
<rect x="183.30" y="294.99" width="28.15" height="2.05" fill="#7db6d5"/>
<rect x="183.30" y="296.99" width="28.15" height="1.05" fill="#81bada"/>
<rect x="183.30" y="297.99" width="28.15" height="2.05" fill="#7cb5d5"/>
<rect x="183.30" y="299.99" width="28.15" height="1.01" fill="#7cb6d5"/>
<rect x="183.30" y="300.94" width="28.15" height="1.55" fill="#bfdcee"/>
<rect x="183.30" y="302.44" width="28.15" height="1.25" fill="#bbd8ea"/>
<rect x="183.30" y="303.64" width="28.15" height="1.05" fill="#c1def0"/>
<rect x="183.30" y="304.64" width="28.15" height="1.55" fill="#bfdcee"/>
<rect x="183.30" y="306.14" width="28.15" height="1.05" fill="#c0deef"/>
<rect x="183.30" y="307.15" width="28.15" height="1.05" fill="#64add8"/>
<rect x="183.30" y="308.15" width="28.15" height="1.05" fill="#5ba4ce"/>
<rect x="183.30" y="309.15" width="28.15" height="0.53" fill="#5aa3ce"/>
<rect x="183.30" y="309.63" width="28.15" height="1.25" fill="#abcfe4"/>
<rect x="183.30" y="310.83" width="28.15" height="1.55" fill="#b1d4ea"/>
<rect x="183.30" y="312.33" width="28.15" height="0.45" fill="#aacee3"/>
<rect x="183.30" y="312.73" width="28.15" height="1.25" fill="#ecf4f9"/>
<rect x="183.30" y="313.93" width="28.15" height="1.25" fill="#dee6ec"/>
<rect x="183.30" y="315.13" width="28.15" height="1.05" fill="#e1e8ee"/>
<rect x="183.30" y="316.13" width="28.15" height="0.99" fill="#ecf3f9"/>
<rect x="183.30" y="317.07" width="28.15" height="2.05" fill="#eef3f6"/>
<rect x="183.30" y="319.07" width="28.15" height="0.53" fill="#f7fbff"/>
<rect x="183.30" y="319.55" width="28.15" height="2.05" fill="#f5edeb"/>
<rect x="183.30" y="321.55" width="28.15" height="0.53" fill="#fcf3f1"/>
<rect x="183.30" y="322.03" width="28.15" height="1.05" fill="#d1e4ef"/>
<rect x="183.30" y="323.03" width="28.15" height="1.53" fill="#d0e3ef"/>
<rect x="183.30" y="324.52" width="28.15" height="1.55" fill="#5eaad7"/>
<rect x="183.30" y="326.02" width="28.15" height="0.41" fill="#5aa7d3"/>
<rect x="183.30" y="326.38" width="28.15" height="2.05" fill="#abd2ea"/>
<rect x="183.30" y="328.38" width="28.15" height="1.25" fill="#a2c9e1"/>
<rect x="183.30" y="329.58" width="28.15" height="1.05" fill="#a4cbe3"/>
<rect x="183.30" y="330.58" width="28.15" height="1.67" fill="#a8cfe7"/>
<path d="M43.0 25.6H36.3V25.9H43.0M43.0 26.2H41.7V26.5H43.0M36.3 25.7H34.0V26.4H41.7M43.0 26.9H40.8V27.2H43.0M34.0 26.0H31.2V27.0H40.8M43.0 27.8H42.6V28.2H43.0M43.0 27.5H41.1V28.0H42.6M31.2 26.5H30.8V27.7H41.1M43.0 29.1H42.0V29.5H43.0M43.0 28.8H36.8V29.3H42.0M36.8 29.0H36.0V29.8H43.0M43.0 28.5H33.6V29.4H36.0M30.8 27.1H29.8V28.9H33.6M43.0 30.4H37.3V30.7H43.0M43.0 30.1H36.6V30.6H37.3M43.0 31.4H38.8V31.7H43.0M43.0 32.0H38.8V32.4H43.0M38.8 31.6H38.4V32.2H38.8M43.0 31.1H38.1V31.9H38.4M36.6 30.3H35.1V31.5H38.1M43.0 33.0H39.2V33.3H43.0M43.0 32.7H34.5V33.2H39.2M35.1 30.9H29.1V32.9H34.5M29.8 28.0H24.0V31.9H29.1M43.0 33.7H42.2V34.0H43.0M42.2 33.8H41.7V34.3H43.0M43.0 34.6H39.2V35.0H43.0M39.2 34.8H38.7V35.3H43.0M41.7 34.1H38.1V35.0H38.7M43.0 35.6H37.1V35.9H43.0M43.0 36.3H42.6V36.6H43.0M37.1 35.8H34.0V36.4H42.6M43.0 37.2H41.3V37.6H43.0M43.0 36.9H38.5V37.4H41.3M43.0 37.9H42.7V38.2H43.0M38.5 37.2H36.3V38.1H42.7M34.0 36.1H30.6V37.6H36.3M38.1 34.6H29.8V36.9H30.6M43.0 38.6H42.5V38.9H43.0M43.0 39.2H42.1V39.5H43.0M42.5 38.7H41.1V39.4H42.1M43.0 39.9H38.8V40.2H43.0M43.0 40.5H39.5V40.8H43.0M38.8 40.0H38.1V40.7H39.5M43.0 41.2H37.2V41.5H43.0M43.0 41.8H39.4V42.1H43.0M39.4 42.0H38.6V42.5H43.0M37.2 41.3H36.4V42.2H38.6M38.1 40.3H32.2V41.8H36.4M41.1 39.0H29.5V41.1H32.2M43.0 42.8H42.3V43.1H43.0M43.0 43.4H36.5V43.8H43.0M42.3 43.0H35.6V43.6H36.5M43.0 44.4H41.7V44.8H43.0M43.0 44.1H37.6V44.6H41.7M35.6 43.3H34.7V44.3H37.6M29.5 40.1H27.3V43.8H34.7M29.8 35.7H26.4V41.9H27.3M43.0 45.1H42.1V45.4H43.0M43.0 45.7H42.1V46.1H43.0M42.1 45.2H39.2V45.9H42.1M43.0 46.4H41.9V46.7H43.0M41.9 46.5H39.8V47.0H43.0M39.2 45.6H35.5V46.8H39.8M43.0 47.7H40.1V48.0H43.0M43.0 47.4H36.6V47.8H40.1M35.5 46.2H33.4V47.6H36.6M43.0 48.3H36.9V48.7H43.0M43.0 49.0H37.9V49.3H43.0M36.9 48.5H33.9V49.2H37.9M33.4 46.9H29.7V48.8H33.9M26.4 38.8H22.6V47.9H29.7M43.0 49.6H39.8V50.0H43.0M43.0 50.3H39.5V50.6H43.0M39.8 49.8H38.3V50.5H39.5M43.0 50.9H42.1V51.3H43.0M43.0 51.9H41.7V52.2H43.0M43.0 51.6H36.0V52.1H41.7M42.1 51.1H35.0V51.8H36.0M43.0 52.6H42.7V52.9H43.0M43.0 53.2H41.1V53.6H43.0M42.7 52.7H34.7V53.4H41.1M34.7 53.1H34.2V53.9H43.0M35.0 51.5H32.0V53.5H34.2M38.3 50.1H29.1V52.5H32.0M43.0 54.2H41.3V54.5H43.0M41.3 54.4H40.7V54.9H43.0M43.0 55.5H42.4V55.8H43.0M43.0 55.2H37.1V55.7H42.4M40.7 54.6H32.6V55.4H37.1M29.1 51.3H27.9V55.0H32.6M22.6 43.3H20.9V53.2H27.9M24.0 30.0H18.2V48.3H20.9M43.0 56.2H38.2V56.5H43.0M38.2 56.3H35.7V56.8H43.0M43.0 57.1H40.2V57.5H43.0M43.0 57.8H42.5V58.1H43.0M40.2 57.3H39.2V58.0H42.5M35.7 56.6H34.3V57.6H39.2M43.0 58.4H40.1V58.8H43.0M43.0 59.1H36.4V59.4H43.0M43.0 59.8H42.0V60.1H43.0M36.4 59.3H36.1V59.9H42.0M40.1 58.6H35.5V59.6H36.1M34.3 57.1H30.7V59.1H35.5M43.0 60.7H37.8V61.1H43.0M43.0 60.4H37.4V60.9H37.8M43.0 61.4H38.6V61.7H43.0M38.6 61.6H38.2V62.0H43.0M38.2 61.8H37.0V62.4H43.0M37.4 60.7H34.0V62.1H37.0M43.0 63.0H42.7V63.3H43.0M43.0 62.7H36.4V63.2H42.7M34.0 61.4H33.2V62.9H36.4M43.0 63.7H42.2V64.0H43.0M42.2 63.8H34.8V64.3H43.0M43.0 64.7H42.2V65.0H43.0M42.2 64.8H36.9V65.3H43.0M43.0 66.0H37.5V66.3H43.0M37.5 66.1H34.8V66.6H43.0M43.0 65.6H34.5V66.4H34.8M36.9 65.1H30.7V66.0H34.5M34.8 64.1H29.8V65.5H30.7M33.2 62.2H25.1V64.8H29.8M43.0 66.9H39.3V67.3H43.0M43.0 67.6H37.4V67.9H43.0M39.3 67.1H36.4V67.8H37.4M43.0 68.2H38.4V68.6H43.0M38.4 68.4H36.6V68.9H43.0M36.4 67.4H34.2V68.7H36.6M43.0 69.6H37.6V69.9H43.0M43.0 69.2H37.3V69.7H37.6M43.0 70.9H38.1V71.2H43.0M43.0 70.5H37.6V71.0H38.1M43.0 70.2H37.3V70.8H37.6M43.0 71.5H36.5V71.8H43.0M37.3 70.5H35.7V71.7H36.5M37.3 69.5H30.6V71.1H35.7M34.2 68.0H29.8V70.3H30.6M25.1 63.5H24.7V69.2H29.8M30.7 58.1H21.6V66.3H24.7M43.0 72.2H39.7V72.5H43.0M43.0 72.8H41.8V73.2H43.0M39.7 72.3H37.1V73.0H41.8M43.0 73.5H42.5V73.8H43.0M42.5 73.7H35.8V74.2H43.0M43.0 74.5H36.9V74.8H43.0M35.8 73.9H35.0V74.7H36.9M37.1 72.7H30.0V74.3H35.0M43.0 75.5H37.8V75.8H43.0M43.0 75.2H37.3V75.7H37.8M43.0 76.2H38.6V76.5H43.0M38.6 76.3H36.3V76.8H43.0M37.3 75.4H33.7V76.6H36.3M43.0 77.5H42.2V77.8H43.0M42.2 77.7H40.3V78.2H43.0M43.0 77.2H39.9V77.9H40.3M33.7 76.0H33.2V77.5H39.9M43.0 78.5H38.2V78.8H43.0M38.2 78.7H36.9V79.2H43.0M43.0 79.5H42.5V79.8H43.0M36.9 78.9H35.1V79.7H42.5M33.2 76.8H29.0V79.3H35.1M30.0 73.5H28.6V78.0H29.0M43.0 80.5H38.7V80.8H43.0M43.0 80.2H38.4V80.6H38.7M43.0 81.5H42.6V81.8H43.0M43.0 81.1H39.5V81.6H42.6M38.4 80.4H36.0V81.4H39.5M43.0 82.1H42.8V82.4H43.0M36.0 80.9H35.8V82.3H42.8M43.0 83.1H40.9V83.4H43.0M43.0 82.8H38.0V83.2H40.9M43.0 83.7H41.4V84.1H43.0M41.4 83.9H40.4V84.4H43.0M38.0 83.0H37.1V84.1H40.4M35.8 81.6H35.0V83.6H37.1M43.0 85.0H41.3V85.4H43.0M43.0 84.7H39.6V85.2H41.3M43.0 86.0H42.7V86.3H43.0M43.0 85.7H38.3V86.2H42.7M38.3 85.9H37.3V86.6H43.0M43.0 87.0H40.4V87.3H43.0M37.3 86.3H36.0V87.1H40.4M39.6 84.9H34.7V86.7H36.0M43.0 87.6H39.0V87.9H43.0M43.0 88.3H39.8V88.6H43.0M39.0 87.8H38.7V88.4H39.8M34.7 85.8H34.3V88.1H38.7M43.0 88.9H42.5V89.2H43.0M42.5 89.1H40.0V89.6H43.0M43.0 89.9H42.5V90.2H43.0M42.5 90.1H39.1V90.5H43.0M40.0 89.3H37.4V90.3H39.1M43.0 91.5H42.3V91.8H43.0M43.0 91.2H38.0V91.7H42.3M43.0 90.9H37.8V91.4H38.0M37.4 89.8H34.1V91.1H37.8M34.3 87.0H32.2V90.5H34.1M35.0 82.6H31.7V88.7H32.2M43.0 92.5H42.6V92.8H43.0M43.0 92.2H39.5V92.7H42.6M43.0 93.1H41.6V93.5H43.0M43.0 93.8H41.1V94.1H43.0M41.1 94.0H40.9V94.5H43.0M41.6 93.3H39.7V94.2H40.9M39.5 92.4H39.2V93.8H39.7M43.0 95.1H40.1V95.4H43.0M40.1 95.3H39.3V95.8H43.0M43.0 94.8H38.9V95.5H39.3M43.0 96.4H41.0V96.7H43.0M43.0 96.1H40.7V96.6H41.0M38.9 95.1H38.7V96.3H40.7M43.0 97.4H42.6V97.7H43.0M43.0 97.1H42.2V97.6H42.6M38.7 95.7H37.7V97.3H42.2M39.2 93.1H37.3V96.5H37.7M43.0 98.1H42.6V98.4H43.0M43.0 99.0H42.5V99.4H43.0M42.5 99.2H41.5V99.7H43.0M43.0 98.7H39.9V99.4H41.5M42.6 98.2H39.4V99.1H39.9M43.0 100.0H40.0V100.3H43.0M43.0 101.0H42.6V101.3H43.0M43.0 100.7H42.2V101.2H42.6M40.0 100.2H39.7V100.9H42.2M43.0 101.6H42.2V102.0H43.0M42.2 101.8H41.1V102.3H43.0M43.0 103.0H41.3V103.3H43.0M43.0 102.6H40.9V103.1H41.3M41.1 102.1H38.7V102.9H40.9M43.0 103.6H40.2V103.9H43.0M43.0 104.3H42.6V104.6H43.0M40.2 103.8H39.8V104.4H42.6M38.7 102.5H38.4V104.1H39.8M39.7 100.5H36.0V103.3H38.4M39.4 98.6H35.8V101.9H36.0M37.3 94.8H35.1V100.3H35.8M43.0 105.2H42.7V105.6H43.0M42.7 105.4H40.6V105.9H43.0M43.0 104.9H40.3V105.7H40.6M43.0 106.2H42.8V106.6H43.0M43.0 106.9H40.9V107.2H43.0M42.8 106.4H40.8V107.0H40.9M40.3 105.3H39.1V106.7H40.8M43.0 107.5H42.6V107.9H43.0M43.0 108.2H42.0V108.5H43.0M43.0 108.8H41.0V109.2H43.0M42.0 108.4H40.8V109.0H41.0M43.0 109.5H40.4V109.8H43.0M40.8 108.7H39.8V109.7H40.4M42.6 107.7H37.6V109.2H39.8M43.0 110.5H42.5V110.8H43.0M43.0 110.2H40.4V110.6H42.5M43.0 111.1H42.8V111.5H43.0M40.4 110.4H39.9V111.3H42.8M43.0 112.1H40.7V112.4H43.0M43.0 111.8H39.5V112.3H40.7M39.9 110.8H39.0V112.0H39.5M43.0 112.8H42.6V113.1H43.0M43.0 113.4H42.7V113.8H43.0M42.6 112.9H42.1V113.6H42.7M43.0 114.1H40.2V114.4H43.0M42.1 113.3H39.0V114.2H40.2M39.0 111.4H37.6V113.8H39.0M37.6 108.4H34.6V112.6H37.6M39.1 106.0H34.3V110.5H34.6M43.0 114.7H42.6V115.1H43.0M42.6 114.9H39.4V115.4H43.0M43.0 115.7H40.4V116.0H43.0M43.0 116.4H42.6V116.7H43.0M40.4 115.9H40.0V116.5H42.6M39.4 115.1H39.0V116.2H40.0M43.0 117.0H41.2V117.4H43.0M41.2 117.2H41.1V117.7H43.0M43.0 118.0H40.8V118.3H43.0M41.1 117.4H38.4V118.2H40.8M39.0 115.7H36.3V117.8H38.4M43.0 119.0H42.9V119.3H43.0M43.0 118.7H42.0V119.1H42.9M42.0 118.9H38.7V119.6H43.0M43.0 120.3H40.1V120.6H43.0M43.0 120.0H39.8V120.5H40.1M43.0 121.3H41.0V121.6H43.0M43.0 120.9H40.7V121.4H41.0M39.8 120.2H37.9V121.2H40.7M38.7 119.3H37.6V120.7H37.9M43.0 121.9H40.1V122.3H43.0M43.0 122.6H41.5V122.9H43.0M40.1 122.1H39.6V122.7H41.5M39.6 122.4H39.1V123.2H43.0M43.0 123.6H42.7V123.9H43.0M42.7 123.7H42.3V124.2H43.0M42.3 124.0H39.4V124.5H43.0M39.1 122.8H37.6V124.3H39.4M37.6 120.0H35.6V123.5H37.6M43.0 124.9H41.7V125.2H43.0M43.0 125.5H42.8V125.9H43.0M43.0 126.5H42.7V126.8H43.0M43.0 126.2H39.7V126.7H42.7M42.8 125.7H39.2V126.4H39.7M41.7 125.0H37.4V126.1H39.2M35.6 121.8H35.0V125.5H37.4M36.3 116.7H34.6V123.7H35.0M34.3 108.3H32.6V120.2H34.6M35.1 97.5H30.5V114.2H32.6M31.7 85.6H28.0V105.9H30.5M28.6 75.8H24.4V95.8H28.0M43.0 127.2H38.2V127.5H43.0M43.0 128.2H42.4V128.5H43.0M43.0 127.8H38.0V128.3H42.4M38.2 127.3H34.4V128.1H38.0M43.0 128.8H34.2V129.2H43.0M43.0 129.5H39.7V129.8H43.0M34.2 129.0H33.7V129.7H39.7M43.0 130.8H34.3V131.2H43.0M43.0 130.5H33.3V131.0H34.3M43.0 130.2H32.6V130.7H33.3M43.0 131.5H41.7V131.8H43.0M43.0 132.1H37.4V132.5H43.0M41.7 131.6H37.0V132.3H37.4M32.6 130.4H29.9V132.0H37.0M33.7 129.3H27.4V131.2H29.9M34.4 127.7H26.8V130.3H27.4M43.0 133.5H40.4V133.8H43.0M43.0 133.1H36.8V133.6H40.4M43.0 132.8H31.2V133.4H36.8M43.0 134.1H42.4V134.5H43.0M31.2 133.1H30.0V134.3H42.4M43.0 135.1H41.0V135.5H43.0M43.0 134.8H38.7V135.3H41.0M43.0 135.8H42.2V136.1H43.0M38.7 135.1H37.9V136.0H42.2M30.0 133.7H24.6V135.5H37.9M26.8 129.0H21.6V134.6H24.6M24.4 85.8H19.3V131.8H21.6M21.6 62.2H14.7V108.8H19.3M18.2 39.1H11.1V85.5H14.7M43.0 136.8H37.6V137.1H43.0M43.0 136.5H36.7V137.0H37.6M36.7 136.7H36.1V137.4H43.0M43.0 138.1H42.2V138.4H43.0M43.0 137.8H36.4V138.3H42.2M36.4 138.0H35.6V138.8H43.0M43.0 139.4H38.1V139.7H43.0M38.1 139.6H37.7V140.1H43.0M43.0 139.1H34.8V139.8H37.7M43.0 140.4H40.6V140.7H43.0M40.6 140.6H37.4V141.1H43.0M34.8 139.5H34.5V140.8H37.4M35.6 138.4H30.9V140.1H34.5M36.1 137.1H29.3V139.3H30.9M43.0 141.4H42.2V141.7H43.0M43.0 142.0H38.3V142.4H43.0M38.3 142.2H37.7V142.7H43.0M42.2 141.6H37.1V142.5H37.7M43.0 143.0H42.6V143.4H43.0M43.0 144.0H39.8V144.3H43.0M43.0 143.7H37.7V144.2H39.8M42.6 143.2H36.9V143.9H37.7M43.0 145.0H38.0V145.3H43.0M38.0 145.2H37.4V145.7H43.0M43.0 144.7H35.2V145.4H37.4M36.9 143.6H33.6V145.0H35.2M37.1 142.0H33.2V144.3H33.6M43.0 146.0H37.7V146.3H43.0M43.0 147.0H37.7V147.3H43.0M43.0 146.6H36.9V147.1H37.7M37.7 146.2H36.1V146.9H36.9M43.0 148.0H38.9V148.3H43.0M43.0 147.6H38.5V148.1H38.9M43.0 148.9H42.2V149.3H43.0M43.0 148.6H39.1V149.1H42.2M38.5 147.9H38.0V148.9H39.1M36.1 146.5H33.5V148.4H38.0M33.2 143.2H31.2V147.4H33.5M43.0 149.6H40.3V149.9H43.0M40.3 149.8H39.4V150.3H43.0M43.0 150.6H39.6V150.9H43.0M39.6 150.7H39.3V151.2H43.0M43.0 151.9H40.6V152.2H43.0M43.0 151.6H40.0V152.1H40.6M39.3 151.0H36.3V151.8H40.0M39.4 150.0H35.8V151.4H36.3M43.0 152.6H38.7V152.9H43.0M38.7 152.7H38.4V153.2H43.0M43.0 153.5H38.2V153.9H43.0M38.4 153.0H34.5V153.7H38.2M43.0 154.2H42.3V154.5H43.0M42.3 154.4H39.9V154.9H43.0M43.0 155.5H42.4V155.8H43.0M43.0 155.2H41.2V155.7H42.4M39.9 154.6H36.9V155.4H41.2M34.5 153.3H33.2V155.0H36.9M35.8 150.7H32.2V154.2H33.2M31.2 145.3H24.5V152.4H32.2M29.3 138.2H22.0V148.9H24.5M43.0 156.2H38.1V156.5H43.0M38.1 156.3H37.4V156.8H43.0M43.0 157.1H42.4V157.5H43.0M42.4 157.3H38.9V157.8H43.0M37.4 156.6H36.8V157.6H38.9M43.0 158.1H38.1V158.5H43.0M43.0 158.8H38.3V159.1H43.0M38.3 158.9H38.1V159.4H43.0M38.1 158.3H36.3V159.2H38.1M43.0 159.8H42.4V160.1H43.0M42.4 159.9H39.2V160.4H43.0M36.3 158.7H34.6V160.2H39.2M43.0 160.8H41.6V161.1H43.0M43.0 161.4H40.0V161.7H43.0M43.0 162.1H41.7V162.4H43.0M40.0 161.6H38.5V162.2H41.7M41.6 160.9H34.9V161.9H38.5M34.6 159.5H34.4V161.4H34.9M36.8 157.1H29.9V160.4H34.4M43.0 163.4H42.5V163.7H43.0M43.0 163.0H40.0V163.5H42.5M43.0 162.7H39.4V163.3H40.0M43.0 164.0H41.9V164.4H43.0M41.9 164.2H41.3V164.7H43.0M39.4 163.0H34.1V164.4H41.3M29.9 158.7H29.6V163.7H34.1M43.0 165.7H39.4V166.0H43.0M43.0 165.3H39.1V165.8H39.4M43.0 165.0H38.6V165.6H39.1M43.0 166.3H42.4V166.6H43.0M43.0 167.3H40.8V167.6H43.0M43.0 167.0H37.1V167.5H40.8M42.4 166.5H36.5V167.2H37.1M38.6 165.3H35.9V166.9H36.5M43.0 168.0H42.1V168.3H43.0M43.0 168.6H39.2V168.9H43.0M39.2 168.8H38.4V169.3H43.0M42.1 168.1H38.1V169.0H38.4M43.0 169.6H42.6V169.9H43.0M38.1 168.6H34.5V169.8H42.6M43.0 170.6H39.8V170.9H43.0M43.0 170.2H37.8V170.7H39.8M34.5 169.2H33.1V170.5H37.8M43.0 171.2H42.6V171.6H43.0M43.0 171.9H38.6V172.2H43.0M42.6 171.4H36.0V172.1H38.6M33.1 169.8H32.5V171.7H36.0M43.0 172.9H41.8V173.2H43.0M43.0 172.5H37.9V173.0H41.8M37.9 172.8H37.3V173.5H43.0M43.0 174.5H38.5V174.8H43.0M43.0 174.2H37.9V174.7H38.5M43.0 173.9H37.7V174.4H37.9M37.3 173.2H36.8V174.1H37.7M32.5 170.8H30.6V173.6H36.8M35.9 166.1H30.2V172.2H30.6M29.6 161.2H27.0V169.1H30.2M43.0 175.2H41.6V175.5H43.0M43.0 175.8H41.5V176.1H43.0M43.0 176.5H40.8V176.8H43.0M40.8 176.6H40.0V177.1H43.0M41.5 176.0H38.7V176.9H40.0M41.6 175.3H37.9V176.4H38.7M43.0 177.5H40.4V177.8H43.0M43.0 178.1H42.7V178.4H43.0M43.0 178.8H41.5V179.1H43.0M42.7 178.3H38.3V178.9H41.5M40.4 177.6H38.0V178.6H38.3M37.9 175.9H37.6V178.1H38.0M43.0 179.4H42.6V179.7H43.0M43.0 180.4H42.2V180.7H43.0M43.0 180.1H40.5V180.6H42.2M42.6 179.6H39.2V180.3H40.5M37.6 177.0H34.9V179.9H39.2M43.0 181.7H39.7V182.0H43.0M43.0 181.4H39.2V181.9H39.7M43.0 181.0H38.3V181.6H39.2M43.0 182.4H42.4V182.7H43.0M42.4 182.5H40.6V183.0H43.0M38.3 181.3H37.9V182.8H40.6M43.0 183.3H42.2V183.7H43.0M42.2 183.5H39.5V184.0H43.0M43.0 184.6H40.0V185.0H43.0M43.0 184.3H39.6V184.8H40.0M39.5 183.7H38.9V184.6H39.6M37.9 182.1H36.2V184.2H38.9M34.9 178.5H34.7V183.1H36.2M43.0 185.3H42.7V185.6H43.0M43.0 186.3H41.4V186.6H43.0M43.0 186.0H40.6V186.4H41.4M42.7 185.5H37.7V186.2H40.6M43.0 186.9H42.0V187.3H43.0M43.0 187.6H40.9V187.9H43.0M40.9 187.8H40.7V188.2H43.0M42.0 187.1H40.5V188.0H40.7M43.0 188.6H41.8V188.9H43.0M43.0 189.2H42.6V189.6H43.0M41.8 188.7H38.9V189.4H42.6M40.5 187.5H36.1V189.1H38.9M37.7 185.8H35.3V188.3H36.1M43.0 189.9H40.0V190.2H43.0M43.0 190.5H42.6V190.9H43.0M43.0 191.2H40.3V191.5H43.0M42.6 190.7H38.3V191.4H40.3M40.0 190.0H38.0V191.0H38.3M43.0 191.8H42.5V192.2H43.0M43.0 192.5H41.9V192.8H43.0M43.0 193.1H40.8V193.5H43.0M41.9 192.7H39.1V193.3H40.8M43.0 194.1H40.6V194.5H43.0M43.0 193.8H40.3V194.3H40.6M39.1 193.0H38.7V194.0H40.3M42.5 192.0H38.1V193.5H38.7M38.0 190.5H35.8V192.8H38.1M35.3 187.1H34.3V191.6H35.8M43.0 194.8H42.1V195.1H43.0M43.0 195.8H40.5V196.1H43.0M43.0 195.4H40.2V195.9H40.5M42.1 194.9H38.6V195.7H40.2M43.0 196.4H40.1V196.7H43.0M43.0 197.1H42.6V197.4H43.0M42.6 197.2H41.6V197.7H43.0M43.0 198.1H41.6V198.4H43.0M41.6 197.5H37.9V198.2H41.6M40.1 196.6H37.6V197.9H37.9M38.6 195.3H36.9V197.2H37.6M43.0 198.7H42.2V199.0H43.0M43.0 199.4H41.6V199.7H43.0M43.0 200.0H40.1V200.3H43.0M41.6 199.5H39.9V200.2H40.1M42.2 198.9H37.4V199.9H39.9M36.9 196.3H34.0V199.4H37.4M34.3 189.4H31.6V197.8H34.0M43.0 200.7H39.9V201.0H43.0M43.0 201.3H42.2V201.7H43.0M39.9 200.8H39.0V201.5H42.2M43.0 202.0H41.6V202.3H43.0M43.0 203.0H42.7V203.3H43.0M43.0 202.6H40.9V203.1H42.7M41.6 202.1H40.6V202.9H40.9M43.0 203.6H41.7V203.9H43.0M40.6 202.5H37.9V203.8H41.7M39.0 201.2H36.7V203.1H37.9M43.0 204.3H42.6V204.6H43.0M43.0 204.9H42.2V205.2H43.0M42.6 204.4H41.1V205.1H42.2M43.0 205.6H41.8V205.9H43.0M41.1 204.8H40.0V205.7H41.8M43.0 206.6H42.7V206.9H43.0M43.0 206.2H41.7V206.7H42.7M41.7 206.5H38.4V207.2H43.0M40.0 205.2H38.0V206.8H38.4M43.0 207.9H42.2V208.2H43.0M43.0 207.5H41.7V208.0H42.2M43.0 208.5H39.8V208.8H43.0M41.7 207.8H39.3V208.7H39.8M43.0 209.2H42.7V209.5H43.0M42.7 209.3H41.5V209.8H43.0M39.3 208.2H38.9V209.6H41.5M38.0 206.0H37.0V208.9H38.9M36.7 202.2H33.9V207.5H37.0M31.6 193.6H30.4V204.8H33.9M34.7 180.8H29.9V199.2H30.4M43.0 210.2H42.8V210.5H43.0M43.0 210.8H42.0V211.1H43.0M42.8 210.3H40.0V211.0H42.0M40.0 210.6H38.5V211.5H43.0M43.0 211.8H40.2V212.1H43.0M43.0 212.8H40.8V213.1H43.0M43.0 212.4H40.6V212.9H40.8M40.6 212.7H40.2V213.4H43.0M43.0 214.1H40.0V214.4H43.0M43.0 213.8H39.6V214.2H40.0M40.2 213.1H39.4V214.0H39.6M40.2 212.0H39.2V213.5H39.4M38.5 211.1H37.7V212.7H39.2M43.0 214.7H42.9V215.1H43.0M42.9 214.9H40.0V215.4H43.0M40.0 215.1H39.5V215.7H43.0M43.0 216.0H41.9V216.4H43.0M43.0 217.3H41.5V217.7H43.0M43.0 217.0H41.2V217.5H41.5M43.0 216.7H39.3V217.3H41.2M41.9 216.2H38.0V217.0H39.3M39.5 215.4H36.0V216.6H38.0M43.0 218.0H41.1V218.3H43.0M43.0 218.7H40.1V219.0H43.0M41.1 218.2H38.1V218.8H40.1M43.0 219.3H40.5V219.6H43.0M38.1 218.5H37.9V219.5H40.5M43.0 220.0H39.9V220.3H43.0M43.0 220.6H40.8V220.9H43.0M39.9 220.1H38.2V220.8H40.8M43.0 221.3H42.4V221.6H43.0M38.2 220.5H37.8V221.4H42.4M37.9 219.0H37.2V220.9H37.8M43.0 222.3H40.3V222.6H43.0M43.0 221.9H39.8V222.4H40.3M43.0 222.9H42.5V223.2H43.0M42.5 223.1H40.7V223.6H43.0M43.0 224.2H40.9V224.5H43.0M43.0 223.9H40.4V224.4H40.9M40.7 223.3H39.8V224.1H40.4M39.8 222.2H37.0V223.7H39.8M37.2 220.0H36.3V222.9H37.0M43.0 224.9H41.0V225.2H43.0M43.0 225.5H41.1V225.9H43.0M43.0 226.5H42.1V226.8H43.0M43.0 226.2H42.0V226.7H42.1M41.1 225.7H41.0V226.4H42.0M41.0 225.0H37.4V226.1H41.0M36.3 221.5H34.7V225.5H37.4M36.0 216.0H32.8V223.5H34.7M37.7 211.9H31.6V219.8H32.8M43.0 227.2H42.7V227.5H43.0M43.0 227.8H42.7V228.1H43.0M43.0 228.5H42.5V228.8H43.0M42.7 228.0H38.2V228.6H42.5M42.7 227.3H37.9V228.3H38.2M43.0 229.1H42.2V229.4H43.0M43.0 229.8H41.6V230.1H43.0M43.0 230.4H42.5V230.8H43.0M41.6 229.9H40.6V230.6H42.5M42.2 229.3H40.1V230.3H40.6M43.0 231.1H40.2V231.4H43.0M43.0 232.1H39.6V232.4H43.0M43.0 231.7H39.4V232.2H39.6M43.0 232.7H42.5V233.0H43.0M39.4 232.0H39.1V232.9H42.5M40.2 231.2H38.9V232.4H39.1M40.1 229.8H36.9V231.8H38.9M37.9 227.8H34.7V230.8H36.9M43.0 233.7H42.7V234.0H43.0M43.0 233.4H39.8V233.9H42.7M39.8 233.6H39.4V234.4H43.0M43.0 234.7H40.7V235.0H43.0M40.7 234.8H39.2V235.3H43.0M43.0 235.7H42.2V236.0H43.0M43.0 236.3H41.7V236.6H43.0M42.2 235.8H40.0V236.5H41.7M39.2 235.1H38.8V236.2H40.0M39.4 234.0H35.8V235.6H38.8M43.0 237.0H42.1V237.3H43.0M43.0 237.6H40.1V238.0H43.0M42.1 237.1H39.5V237.8H40.1M43.0 238.3H42.7V238.6H43.0M42.7 238.4H39.3V238.9H43.0M39.5 237.5H37.5V238.7H39.3M35.8 234.8H35.6V238.1H37.5M43.0 239.3H42.1V239.6H43.0M43.0 239.9H42.7V240.2H43.0M42.1 239.4H40.4V240.1H42.7M43.0 240.6H42.6V240.9H43.0M43.0 241.2H42.4V241.5H43.0M42.6 240.7H39.7V241.4H42.4M43.0 241.9H40.3V242.2H43.0M43.0 242.5H42.4V242.9H43.0M40.3 242.0H40.0V242.7H42.4M43.0 243.5H42.5V243.8H43.0M43.0 243.2H42.3V243.7H42.5M40.0 242.4H38.7V243.4H42.3M39.7 241.1H38.4V242.9H38.7M40.4 239.7H37.2V242.0H38.4M35.6 236.4H34.6V240.9H37.2M34.7 229.3H32.2V238.7H34.6M31.6 215.8H30.0V234.0H32.2M29.9 190.0H26.0V224.9H30.0M27.0 165.2H24.0V207.4H26.0M43.0 244.2H42.5V244.5H43.0M43.0 245.1H40.0V245.5H43.0M43.0 244.8H37.4V245.3H40.0M37.4 245.1H36.7V245.8H43.0M42.5 244.3H35.1V245.4H36.7M43.0 246.1H39.0V246.5H43.0M39.0 246.3H38.4V246.8H43.0M35.1 244.9H32.5V246.5H38.4M43.0 247.8H40.9V248.1H43.0M43.0 247.4H39.8V247.9H40.9M43.0 247.1H37.1V247.7H39.8M43.0 248.4H41.3V248.7H43.0M41.3 248.6H36.7V249.1H43.0M43.0 249.4H42.8V249.7H43.0M36.7 248.8H36.1V249.6H42.8M43.0 250.1H38.2V250.4H43.0M38.2 250.2H37.7V250.7H43.0M43.0 251.0H40.0V251.4H43.0M37.7 250.5H37.1V251.2H40.0M36.1 249.2H35.3V250.8H37.1M37.1 247.4H30.6V250.0H35.3M43.0 252.0H39.3V252.3H43.0M43.0 251.7H37.5V252.2H39.3M43.0 252.7H42.7V253.0H43.0M42.7 252.8H42.2V253.3H43.0M37.5 251.9H35.5V253.1H42.2M43.0 253.7H39.9V254.0H43.0M43.0 254.3H42.3V254.6H43.0M39.9 253.8H37.8V254.5H42.3M35.5 252.5H32.6V254.1H37.8M30.6 248.7H27.8V253.3H32.6M32.5 245.7H27.3V251.0H27.8M43.0 255.3H37.9V255.6H43.0M43.0 255.0H37.2V255.5H37.9M43.0 255.9H42.2V256.3H43.0M43.0 256.9H40.7V257.3H43.0M43.0 256.6H39.2V257.1H40.7M42.2 256.1H35.8V256.8H39.2M37.2 255.2H34.4V256.5H35.8M43.0 258.2H40.0V258.6H43.0M43.0 257.9H36.1V258.4H40.0M43.0 257.6H35.3V258.2H36.1M43.0 258.9H41.6V259.2H43.0M43.0 259.5H40.6V259.9H43.0M41.6 259.1H40.1V259.7H40.6M35.3 257.9H34.9V259.4H40.1M43.0 260.5H42.2V260.9H43.0M43.0 260.2H41.9V260.7H42.2M43.0 261.5H42.4V261.8H43.0M43.0 261.2H37.8V261.7H42.4M41.9 260.4H35.0V261.4H37.8M34.9 258.6H30.4V260.9H35.0M34.4 255.8H28.3V259.8H30.4M27.3 248.4H25.0V257.8H28.3M24.0 186.3H17.5V253.1H25.0M22.0 143.5H16.5V219.7H17.5M43.0 262.2H40.3V262.5H43.0M43.0 263.1H41.9V263.5H43.0M43.0 262.8H37.9V263.3H41.9M37.9 263.1H37.6V263.8H43.0M40.3 262.3H35.6V263.4H37.6M43.0 264.1H42.4V264.5H43.0M43.0 264.8H40.1V265.1H43.0M42.4 264.3H36.6V265.0H40.1M35.6 262.9H32.4V264.6H36.6M43.0 265.4H41.5V265.8H43.0M41.5 265.6H37.7V266.1H43.0M43.0 266.4H39.1V266.8H43.0M37.7 265.9H37.1V266.6H39.1M43.0 267.1H39.4V267.4H43.0M37.1 266.2H36.6V267.2H39.4M32.4 263.8H32.0V266.7H36.6M43.0 268.1H41.5V268.4H43.0M43.0 267.7H38.1V268.2H41.5M38.1 268.0H37.8V268.7H43.0M43.0 269.0H41.0V269.4H43.0M41.0 269.2H38.1V269.7H43.0M37.8 268.4H37.6V269.5H38.1M32.0 265.2H28.8V268.9H37.6M43.0 270.0H42.7V270.4H43.0M43.0 271.0H41.7V271.3H43.0M43.0 270.7H40.7V271.2H41.7M43.0 271.7H42.4V272.0H43.0M40.7 270.9H35.4V271.8H42.4M42.7 270.2H34.8V271.4H35.4M43.0 272.3H42.4V272.7H43.0M42.4 272.5H39.3V273.0H43.0M43.0 273.3H38.8V273.6H43.0M43.0 274.0H38.8V274.3H43.0M38.8 274.1H38.3V274.6H43.0M38.8 273.5H37.5V274.4H38.3M43.0 275.0H42.4V275.3H43.0M37.5 273.9H35.9V275.1H42.4M39.3 272.7H34.2V274.5H35.9M34.8 270.8H31.3V273.6H34.2M28.8 267.1H28.2V272.2H31.3M43.0 275.9H42.7V276.3H43.0M43.0 275.6H40.5V276.1H42.7M40.5 275.9H38.4V276.6H43.0M43.0 276.9H41.9V277.2H43.0M38.4 276.2H35.6V277.1H41.9M43.0 277.6H41.6V277.9H43.0M43.0 278.6H42.6V278.9H43.0M43.0 278.2H40.0V278.7H42.6M40.0 278.5H37.4V279.2H43.0M41.6 277.7H36.8V278.8H37.4M43.0 279.5H40.2V279.9H43.0M40.2 279.7H39.0V280.2H43.0M43.0 280.5H39.8V280.9H43.0M43.0 281.5H42.2V281.8H43.0M43.0 281.2H39.2V281.7H42.2M39.8 280.7H38.5V281.4H39.2M39.0 280.0H34.3V281.1H38.5M36.8 278.3H33.1V280.5H34.3M35.6 276.7H30.0V279.4H33.1M28.2 269.6H24.0V278.0H30.0M43.0 282.2H39.4V282.5H43.0M43.0 282.8H42.1V283.1H43.0M39.4 282.3H38.6V283.0H42.1M43.0 283.8H39.6V284.1H43.0M43.0 283.5H35.5V284.0H39.6M38.6 282.7H33.5V283.7H35.5M43.0 284.5H37.5V284.8H43.0M37.5 284.6H36.7V285.1H43.0M33.5 283.2H32.6V284.9H36.7M43.0 285.4H39.9V285.8H43.0M43.0 286.1H42.5V286.4H43.0M39.9 285.6H35.5V286.3H42.5M32.6 284.0H31.0V285.9H35.5M43.0 287.1H42.2V287.4H43.0M43.0 286.8H37.5V287.2H42.2M37.5 287.0H37.0V287.7H43.0M43.0 288.4H42.0V288.7H43.0M43.0 288.1H37.1V288.6H42.0M37.1 288.3H36.7V289.0H43.0M43.0 289.4H40.6V289.7H43.0M43.0 290.0H37.7V290.4H43.0M40.6 289.5H37.0V290.2H37.7M37.0 289.9H36.1V290.7H43.0M36.7 288.7H35.3V290.3H36.1M37.0 287.4H32.9V289.5H35.3M43.0 291.3H40.8V291.7H43.0M43.0 291.0H39.9V291.5H40.8M43.0 292.0H40.3V292.3H43.0M43.0 292.7H40.5V293.0H43.0M40.3 292.2H39.5V292.8H40.5M39.9 291.3H36.4V292.5H39.5M32.9 288.4H27.0V291.9H36.4M31.0 285.0H24.2V290.2H27.0M43.0 293.6H38.1V294.0H43.0M43.0 293.3H37.6V293.8H38.1M43.0 294.3H38.0V294.6H43.0M37.6 293.6H36.8V294.5H38.0M43.0 295.0H41.2V295.3H43.0M36.8 294.0H33.2V295.1H41.2M43.0 295.9H41.1V296.3H43.0M41.1 296.1H40.4V296.6H43.0M43.0 295.6H37.1V296.3H40.4M43.0 296.9H41.8V297.2H43.0M43.0 297.6H42.3V297.9H43.0M42.3 297.7H39.6V298.2H43.0M41.8 297.1H38.7V298.0H39.6M43.0 298.6H39.0V298.9H43.0M38.7 297.5H32.2V298.7H39.0M43.0 299.2H40.4V299.5H43.0M32.2 298.1H30.6V299.4H40.4M37.1 296.0H29.7V298.8H30.6M33.2 294.6H27.8V297.4H29.7M43.0 299.9H37.1V300.2H43.0M43.0 300.5H40.1V300.9H43.0M43.0 301.5H36.8V301.8H43.0M43.0 301.2H35.9V301.7H36.8M40.1 300.7H34.3V301.4H35.9M37.1 300.0H33.8V301.1H34.3M27.8 296.0H24.8V300.5H33.8M24.2 287.6H23.0V298.3H24.8M24.0 273.8H20.0V292.9H23.0M43.0 302.2H41.5V302.5H43.0M43.0 302.8H40.7V303.1H43.0M41.5 302.3H37.7V303.0H40.7M43.0 303.5H38.4V303.8H43.0M43.0 304.1H37.0V304.5H43.0M38.4 303.6H36.3V304.3H37.0M37.7 302.7H33.3V304.0H36.3M43.0 304.8H38.9V305.1H43.0M43.0 305.4H42.2V305.8H43.0M38.9 305.0H38.5V305.6H42.2M43.0 306.1H36.8V306.4H43.0M43.0 306.8H42.2V307.1H43.0M36.8 306.3H36.0V306.9H42.2M38.5 305.3H35.6V306.6H36.0M43.0 307.4H42.6V307.7H43.0M43.0 308.1H42.6V308.4H43.0M43.0 308.7H41.4V309.1H43.0M42.6 308.2H34.3V308.9H41.4M42.6 307.6H33.7V308.6H34.3M35.6 305.9H31.0V308.1H33.7M33.3 303.3H30.0V307.0H31.0M43.0 309.4H36.9V309.7H43.0M43.0 310.0H42.2V310.4H43.0M43.0 310.7H42.3V311.0H43.0M42.3 310.9H36.9V311.4H43.0M42.2 310.2H36.2V311.1H36.9M36.9 309.6H32.8V310.7H36.2M43.0 311.7H41.3V312.0H43.0M41.3 311.8H37.0V312.3H43.0M43.0 312.7H37.0V313.0H43.0M37.0 312.1H36.4V312.8H37.0M43.0 313.3H38.6V313.7H43.0M43.0 314.0H38.2V314.3H43.0M38.2 314.1H37.4V314.6H43.0M38.6 313.5H36.1V314.4H37.4M36.4 312.5H32.2V313.9H36.1M32.8 310.1H31.4V313.2H32.2M30.0 305.2H26.2V311.7H31.4M43.0 315.0H38.2V315.3H43.0M38.2 315.1H37.4V315.6H43.0M37.4 315.4H35.9V316.0H43.0M43.0 316.3H41.3V316.6H43.0M41.3 316.4H41.0V316.9H43.0M35.9 315.7H34.9V316.7H41.0M43.0 317.6H36.9V317.9H43.0M43.0 317.3H36.1V317.8H36.9M43.0 318.6H38.8V318.9H43.0M43.0 318.2H35.4V318.7H38.8M43.0 319.2H40.3V319.6H43.0M35.4 318.5H35.1V319.4H40.3M36.1 317.5H31.7V318.9H35.1M34.9 316.2H29.3V318.2H31.7M26.2 308.4H21.4V317.2H29.3M43.0 319.9H41.2V320.2H43.0M43.0 320.5H37.2V320.9H43.0M41.2 320.1H36.7V320.7H37.2M43.0 321.2H40.0V321.5H43.0M43.0 321.9H37.3V322.2H43.0M37.3 322.0H37.0V322.5H43.0M40.0 321.4H35.5V322.3H37.0M43.0 323.2H39.0V323.5H43.0M43.0 322.8H38.2V323.3H39.0M43.0 323.8H39.9V324.2H43.0M38.2 323.1H35.5V324.0H39.9M35.5 321.8H30.0V323.5H35.5M36.7 320.4H29.2V322.7H30.0M43.0 324.8H39.1V325.1H43.0M39.1 325.0H36.8V325.5H43.0M43.0 324.5H36.0V325.2H36.8M43.0 326.1H42.1V326.5H43.0M43.0 325.8H41.5V326.3H42.1M43.0 326.8H37.3V327.1H43.0M43.0 327.4H38.9V327.8H43.0M43.0 328.1H38.6V328.4H43.0M38.9 327.6H37.2V328.3H38.6M37.3 326.9H36.0V327.9H37.2M41.5 326.0H34.8V327.4H36.0M36.0 324.9H32.1V326.7H34.8M29.2 321.5H27.0V325.8H32.1M43.0 328.8H37.3V329.1H43.0M43.0 329.7H42.5V330.1H43.0M43.0 329.4H36.8V329.9H42.5M43.0 330.4H42.1V330.7H43.0M36.8 329.7H36.3V330.6H42.1M37.3 328.9H34.9V330.1H36.3M43.0 331.1H42.2V331.4H43.0M43.0 331.7H42.5V332.0H43.0M42.2 331.2H38.1V331.9H42.5M34.9 329.5H34.2V331.5H38.1M27.0 323.7H23.0V330.5H34.2M21.4 312.8H19.0V327.1H23.0M20.0 283.4H13.0V320.0H19.0M16.5 181.6H10.5V301.7H13.0M11.1 62.3H3.0V241.6H10.5" fill="none" stroke="#000" stroke-width="0.6"/>
<rect x="40.9" y="25.8" width="2.4" height="306.40" fill="#000"/>
<defs><linearGradient id="rdbu" x1="0" y1="0" x2="0" y2="1"><stop offset="0" stop-color="#b2182b"/><stop offset="0.125" stop-color="#d6604d"/><stop offset="0.25" stop-color="#f4a582"/><stop offset="0.375" stop-color="#fddbc7"/><stop offset="0.5" stop-color="#f7f7f7"/><stop offset="0.625" stop-color="#d1e5f0"/><stop offset="0.75" stop-color="#92c5de"/><stop offset="0.875" stop-color="#4393c3"/><stop offset="1" stop-color="#2166ac"/></linearGradient></defs>
<rect x="214.8" y="25.8" width="8.2" height="116.2" fill="url(#rdbu)"/>
<text x="224.60" y="33.00" font-size="10.2" text-anchor="start" fill="#222" >2</text>
<text x="224.60" y="59.20" font-size="10.2" text-anchor="start" fill="#222" >1</text>
<text x="224.60" y="87.30" font-size="10.2" text-anchor="start" fill="#222" >0</text>
<text x="224.60" y="115.80" font-size="10.2" text-anchor="start" fill="#222" >-1</text>
<text x="224.60" y="145.20" font-size="10.2" text-anchor="start" fill="#222" >-2</text>
<text x="213.60" y="22.60" font-size="7.7" text-anchor="start" font-weight="bold" fill="#222" >group</text>
<text x="214.20" y="174.80" font-size="7.7" text-anchor="start" font-weight="bold" fill="#222" >group</text>
<rect x="214.2" y="177.6" width="11.7" height="11.2" fill="#00d6df"/>
<rect x="214.2" y="198.5" width="11.7" height="11.3" fill="#f98a80"/>
<text x="229.00" y="187.30" font-size="10.1" text-anchor="start" fill="#222" >si-IGF2BP3</text>
<text x="229.00" y="208.20" font-size="10.1" text-anchor="start" fill="#222" >si-Ctrl</text>
<text x="58.40" y="344.90" font-size="13.5" text-anchor="middle" fill="#111" >1</text>
<text x="85.60" y="344.90" font-size="13.5" text-anchor="middle" fill="#111" >2</text>
<text x="112.50" y="344.90" font-size="13.5" text-anchor="middle" fill="#111" >3</text>
<text x="141.80" y="344.90" font-size="13.5" text-anchor="middle" fill="#111" >1</text>
<text x="167.80" y="344.90" font-size="13.5" text-anchor="middle" fill="#111" >2</text>
<text x="197.50" y="344.90" font-size="13.5" text-anchor="middle" fill="#111" >3</text>
<path d="M54 348.4H118.7M137.5 348.4H201.8" stroke="#222" stroke-width="0.9"/>
<text x="86.50" y="360.30" font-size="13.5" text-anchor="middle" fill="#111" >sCtrl</text>
<text x="170.00" y="360.30" font-size="13.4" text-anchor="middle" fill="#111" >si-IGF2BP3</text>
<text x="360.60" y="14.90" font-size="20.5" text-anchor="start" fill="#000" >B</text>
<text x="481.00" y="9.90" font-size="13.2" text-anchor="start" fill="#000" >si-IGF2BP3 vs si-Ctrl</text>
<path d="M524.0 15.0V324.6M569.8 15.0V324.6" stroke="#a8a8a8" stroke-width="1.1" stroke-dasharray="4.6 2.8 1.9 2.8" stroke-dashoffset="3.9"/>
<path d="M523.8 309.6L523.8 268L526 267L528 267L529.5 267.5L532.3 269L533.3 278L535.4 286.3L538.5 292.5L541.5 298.6L544.6 304.8L546.7 309.6L549.8 309.6L552.8 301.7L555.9 292.5L559 282.2L561 276L563.1 269.5L565.2 268L567.2 265.5L569.3 263L570 263L570 309.6Z" fill="#bebebe"/>
<defs><clipPath id="vc"><rect x="404" y="15.4" width="279" height="308.8"/></clipPath></defs><g clip-path="url(#vc)"><circle cx="544.8" cy="306.5" r="1.38" fill="#bebebe"/><circle cx="566.3" cy="267.1" r="1.38" fill="#bebebe"/><circle cx="551.0" cy="305.2" r="1.38" fill="#bebebe"/><circle cx="552.9" cy="304.0" r="1.38" fill="#bebebe"/><circle cx="528.5" cy="266.6" r="1.38" fill="#bebebe"/><circle cx="528.3" cy="269.9" r="1.38" fill="#bebebe"/><circle cx="555.8" cy="290.5" r="1.38" fill="#bebebe"/><circle cx="569.0" cy="267.1" r="1.38" fill="#bebebe"/><circle cx="554.0" cy="299.6" r="1.38" fill="#bebebe"/><circle cx="531.4" cy="266.1" r="1.38" fill="#bebebe"/><circle cx="526.9" cy="265.7" r="1.38" fill="#bebebe"/><circle cx="535.2" cy="283.3" r="1.38" fill="#bebebe"/><circle cx="545.4" cy="306.9" r="1.38" fill="#bebebe"/><circle cx="562.6" cy="271.9" r="1.38" fill="#bebebe"/><circle cx="553.4" cy="300.7" r="1.38" fill="#bebebe"/><circle cx="554.4" cy="297.4" r="1.38" fill="#bebebe"/><circle cx="536.9" cy="293.3" r="1.38" fill="#bebebe"/><circle cx="569.6" cy="266.0" r="1.38" fill="#bebebe"/><circle cx="556.5" cy="290.1" r="1.38" fill="#bebebe"/><circle cx="534.7" cy="282.8" r="1.38" fill="#bebebe"/><circle cx="527.4" cy="269.5" r="1.38" fill="#bebebe"/><circle cx="542.5" cy="303.5" r="1.38" fill="#bebebe"/><circle cx="541.8" cy="303.0" r="1.38" fill="#bebebe"/><circle cx="562.8" cy="267.8" r="1.38" fill="#bebebe"/><circle cx="533.8" cy="283.2" r="1.38" fill="#bebebe"/><circle cx="545.6" cy="309.8" r="1.38" fill="#bebebe"/><circle cx="542.3" cy="298.2" r="1.38" fill="#bebebe"/><circle cx="552.9" cy="304.0" r="1.38" fill="#bebebe"/><circle cx="536.5" cy="286.6" r="1.38" fill="#bebebe"/><circle cx="539.4" cy="298.0" r="1.38" fill="#bebebe"/><circle cx="558.8" cy="281.2" r="1.38" fill="#bebebe"/><circle cx="535.4" cy="284.5" r="1.38" fill="#bebebe"/><circle cx="526.9" cy="269.7" r="1.38" fill="#bebebe"/><circle cx="532.3" cy="270.2" r="1.38" fill="#bebebe"/><circle cx="544.6" cy="303.5" r="1.38" fill="#bebebe"/><circle cx="557.6" cy="285.3" r="1.38" fill="#bebebe"/><circle cx="553.6" cy="297.7" r="1.38" fill="#bebebe"/><circle cx="543.4" cy="301.3" r="1.38" fill="#bebebe"/><circle cx="536.5" cy="292.3" r="1.38" fill="#bebebe"/><circle cx="560.8" cy="276.0" r="1.38" fill="#bebebe"/><circle cx="564.5" cy="267.3" r="1.38" fill="#bebebe"/><circle cx="542.2" cy="303.0" r="1.38" fill="#bebebe"/><circle cx="553.5" cy="297.9" r="1.38" fill="#bebebe"/><circle cx="569.3" cy="261.9" r="1.38" fill="#bebebe"/><circle cx="536.0" cy="290.0" r="1.38" fill="#bebebe"/><circle cx="539.2" cy="293.4" r="1.38" fill="#bebebe"/><circle cx="527.5" cy="265.1" r="1.38" fill="#bebebe"/><circle cx="550.8" cy="306.1" r="1.38" fill="#bebebe"/><circle cx="551.6" cy="304.7" r="1.38" fill="#bebebe"/><circle cx="544.9" cy="309.1" r="1.38" fill="#bebebe"/><circle cx="546.3" cy="309.8" r="1.38" fill="#bebebe"/><circle cx="563.7" cy="267.8" r="1.38" fill="#bebebe"/><circle cx="531.2" cy="271.8" r="1.38" fill="#bebebe"/><circle cx="561.5" cy="273.6" r="1.38" fill="#bebebe"/><circle cx="532.9" cy="276.3" r="1.38" fill="#bebebe"/><circle cx="567.1" cy="264.4" r="1.38" fill="#bebebe"/><circle cx="567.5" cy="268.3" r="1.38" fill="#bebebe"/><circle cx="551.7" cy="304.8" r="1.38" fill="#bebebe"/><circle cx="528.9" cy="265.1" r="1.38" fill="#bebebe"/><circle cx="568.1" cy="263.5" r="1.38" fill="#bebebe"/><circle cx="556.3" cy="290.2" r="1.38" fill="#bebebe"/><circle cx="561.8" cy="275.0" r="1.38" fill="#bebebe"/><circle cx="537.6" cy="289.3" r="1.38" fill="#bebebe"/><circle cx="557.0" cy="286.6" r="1.38" fill="#bebebe"/><circle cx="534.6" cy="284.3" r="1.38" fill="#bebebe"/><circle cx="563.1" cy="271.1" r="1.38" fill="#bebebe"/><circle cx="537.0" cy="292.9" r="1.38" fill="#bebebe"/><circle cx="533.5" cy="276.4" r="1.38" fill="#bebebe"/><circle cx="536.5" cy="288.8" r="1.38" fill="#bebebe"/><circle cx="527.0" cy="265.6" r="1.38" fill="#bebebe"/><circle cx="541.0" cy="298.8" r="1.38" fill="#bebebe"/><circle cx="530.2" cy="267.7" r="1.38" fill="#bebebe"/><circle cx="564.8" cy="272.1" r="1.38" fill="#bebebe"/><circle cx="554.2" cy="299.7" r="1.38" fill="#bebebe"/><circle cx="550.9" cy="305.2" r="1.38" fill="#bebebe"/><circle cx="525.8" cy="264.7" r="1.38" fill="#bebebe"/><circle cx="565.7" cy="269.4" r="1.38" fill="#bebebe"/><circle cx="568.1" cy="262.1" r="1.38" fill="#bebebe"/><circle cx="553.2" cy="301.1" r="1.38" fill="#bebebe"/><circle cx="557.5" cy="286.7" r="1.38" fill="#bebebe"/><circle cx="569.8" cy="261.0" r="1.38" fill="#bebebe"/><circle cx="557.8" cy="289.5" r="1.38" fill="#bebebe"/><circle cx="557.8" cy="288.2" r="1.38" fill="#bebebe"/><circle cx="560.4" cy="281.4" r="1.38" fill="#bebebe"/><circle cx="540.2" cy="298.0" r="1.38" fill="#bebebe"/><circle cx="565.3" cy="271.1" r="1.38" fill="#bebebe"/><circle cx="543.2" cy="304.7" r="1.38" fill="#bebebe"/><circle cx="563.6" cy="270.4" r="1.38" fill="#bebebe"/><circle cx="552.7" cy="302.0" r="1.38" fill="#bebebe"/><circle cx="550.8" cy="308.5" r="1.38" fill="#bebebe"/><circle cx="527.9" cy="268.7" r="1.38" fill="#bebebe"/><circle cx="569.5" cy="266.2" r="1.38" fill="#bebebe"/><circle cx="557.4" cy="287.5" r="1.38" fill="#bebebe"/><circle cx="557.7" cy="287.7" r="1.38" fill="#bebebe"/><circle cx="544.3" cy="307.1" r="1.38" fill="#bebebe"/><circle cx="528.0" cy="269.4" r="1.38" fill="#bebebe"/><circle cx="525.6" cy="268.6" r="1.38" fill="#bebebe"/><circle cx="546.1" cy="307.3" r="1.38" fill="#bebebe"/><circle cx="556.0" cy="292.8" r="1.38" fill="#bebebe"/><circle cx="552.2" cy="306.7" r="1.38" fill="#bebebe"/><circle cx="535.9" cy="284.8" r="1.38" fill="#bebebe"/><circle cx="537.9" cy="293.3" r="1.38" fill="#bebebe"/><circle cx="533.4" cy="277.1" r="1.38" fill="#bebebe"/><circle cx="565.5" cy="269.4" r="1.38" fill="#bebebe"/><circle cx="544.4" cy="307.6" r="1.38" fill="#bebebe"/><circle cx="539.1" cy="295.6" r="1.38" fill="#bebebe"/><circle cx="533.3" cy="277.9" r="1.38" fill="#bebebe"/><circle cx="561.0" cy="279.6" r="1.38" fill="#bebebe"/><circle cx="564.3" cy="268.6" r="1.38" fill="#bebebe"/><circle cx="550.8" cy="306.6" r="1.38" fill="#bebebe"/><circle cx="530.4" cy="268.7" r="1.38" fill="#bebebe"/><circle cx="562.4" cy="274.8" r="1.38" fill="#bebebe"/><circle cx="556.6" cy="293.7" r="1.38" fill="#bebebe"/><circle cx="536.8" cy="287.7" r="1.38" fill="#bebebe"/><circle cx="544.7" cy="304.4" r="1.38" fill="#bebebe"/><circle cx="534.0" cy="280.8" r="1.38" fill="#bebebe"/><circle cx="552.7" cy="302.6" r="1.38" fill="#bebebe"/><circle cx="538.6" cy="295.6" r="1.38" fill="#bebebe"/><circle cx="569.0" cy="263.8" r="1.38" fill="#bebebe"/><circle cx="527.6" cy="264.7" r="1.38" fill="#bebebe"/><circle cx="564.0" cy="266.6" r="1.38" fill="#bebebe"/><circle cx="556.5" cy="291.7" r="1.38" fill="#bebebe"/><circle cx="538.3" cy="294.7" r="1.38" fill="#bebebe"/><circle cx="525.1" cy="265.8" r="1.38" fill="#bebebe"/><circle cx="544.9" cy="303.2" r="1.38" fill="#bebebe"/><circle cx="562.0" cy="271.8" r="1.38" fill="#bebebe"/><circle cx="530.6" cy="265.9" r="1.38" fill="#bebebe"/><circle cx="552.9" cy="301.8" r="1.38" fill="#bebebe"/><circle cx="552.9" cy="303.1" r="1.38" fill="#bebebe"/><circle cx="561.0" cy="279.7" r="1.38" fill="#bebebe"/><circle cx="555.4" cy="292.7" r="1.38" fill="#bebebe"/><circle cx="545.9" cy="306.4" r="1.38" fill="#bebebe"/><circle cx="524.7" cy="268.2" r="1.38" fill="#bebebe"/><circle cx="556.8" cy="288.3" r="1.38" fill="#bebebe"/><circle cx="536.6" cy="288.5" r="1.38" fill="#bebebe"/><circle cx="556.0" cy="293.1" r="1.38" fill="#bebebe"/><circle cx="552.2" cy="305.6" r="1.38" fill="#bebebe"/><circle cx="542.1" cy="302.5" r="1.38" fill="#bebebe"/><circle cx="565.5" cy="265.7" r="1.38" fill="#bebebe"/><circle cx="566.7" cy="268.3" r="1.38" fill="#bebebe"/><circle cx="530.1" cy="268.3" r="1.38" fill="#bebebe"/><circle cx="552.7" cy="305.3" r="1.38" fill="#bebebe"/><circle cx="541.4" cy="299.6" r="1.38" fill="#bebebe"/><circle cx="564.3" cy="271.3" r="1.38" fill="#bebebe"/><circle cx="567.3" cy="265.9" r="1.38" fill="#bebebe"/><circle cx="553.9" cy="297.3" r="1.38" fill="#bebebe"/><circle cx="557.1" cy="291.3" r="1.38" fill="#bebebe"/><circle cx="553.5" cy="301.9" r="1.38" fill="#bebebe"/><circle cx="533.9" cy="283.8" r="1.38" fill="#bebebe"/><circle cx="568.9" cy="267.3" r="1.38" fill="#bebebe"/><circle cx="560.3" cy="277.9" r="1.38" fill="#bebebe"/><circle cx="565.7" cy="270.4" r="1.38" fill="#bebebe"/><circle cx="540.1" cy="293.8" r="1.38" fill="#bebebe"/><circle cx="544.3" cy="305.3" r="1.38" fill="#bebebe"/><circle cx="559.2" cy="282.2" r="1.38" fill="#bebebe"/><circle cx="525.5" cy="270.0" r="1.38" fill="#bebebe"/><circle cx="527.1" cy="269.7" r="1.38" fill="#bebebe"/><circle cx="532.1" cy="268.6" r="1.38" fill="#bebebe"/><circle cx="560.1" cy="277.1" r="1.38" fill="#bebebe"/><circle cx="531.0" cy="269.2" r="1.38" fill="#bebebe"/><circle cx="557.2" cy="291.2" r="1.38" fill="#bebebe"/><circle cx="555.6" cy="296.9" r="1.38" fill="#bebebe"/><circle cx="546.7" cy="309.8" r="1.38" fill="#bebebe"/><circle cx="528.1" cy="266.0" r="1.38" fill="#bebebe"/><circle cx="537.4" cy="292.6" r="1.38" fill="#bebebe"/><circle cx="553.3" cy="301.0" r="1.38" fill="#bebebe"/><circle cx="562.7" cy="272.0" r="1.38" fill="#bebebe"/><circle cx="538.4" cy="292.3" r="1.38" fill="#bebebe"/><circle cx="562.7" cy="274.0" r="1.38" fill="#bebebe"/><circle cx="533.7" cy="282.6" r="1.38" fill="#bebebe"/><circle cx="568.4" cy="265.0" r="1.38" fill="#bebebe"/><circle cx="550.3" cy="307.0" r="1.38" fill="#bebebe"/><circle cx="551.8" cy="302.0" r="1.38" fill="#bebebe"/><circle cx="568.4" cy="264.9" r="1.38" fill="#bebebe"/><circle cx="542.5" cy="303.2" r="1.38" fill="#bebebe"/><circle cx="549.9" cy="309.8" r="1.38" fill="#bebebe"/><circle cx="555.7" cy="291.0" r="1.38" fill="#bebebe"/><circle cx="543.1" cy="305.5" r="1.38" fill="#bebebe"/><circle cx="566.3" cy="265.9" r="1.38" fill="#bebebe"/><circle cx="545.8" cy="305.8" r="1.38" fill="#bebebe"/><circle cx="544.0" cy="306.4" r="1.38" fill="#bebebe"/><circle cx="565.3" cy="268.5" r="1.38" fill="#bebebe"/><circle cx="538.7" cy="291.6" r="1.38" fill="#bebebe"/><circle cx="552.4" cy="306.3" r="1.38" fill="#bebebe"/><circle cx="530.1" cy="270.4" r="1.38" fill="#bebebe"/><circle cx="525.2" cy="266.1" r="1.38" fill="#bebebe"/><circle cx="534.6" cy="285.0" r="1.38" fill="#bebebe"/><circle cx="538.9" cy="293.1" r="1.38" fill="#bebebe"/><circle cx="552.5" cy="300.8" r="1.38" fill="#bebebe"/><circle cx="557.5" cy="285.4" r="1.38" fill="#bebebe"/><circle cx="535.6" cy="285.5" r="1.38" fill="#bebebe"/><circle cx="544.1" cy="303.8" r="1.38" fill="#bebebe"/><circle cx="543.1" cy="302.6" r="1.38" fill="#bebebe"/><circle cx="531.5" cy="267.4" r="1.38" fill="#bebebe"/><circle cx="553.0" cy="302.8" r="1.38" fill="#bebebe"/><circle cx="563.0" cy="271.2" r="1.38" fill="#bebebe"/><circle cx="563.3" cy="268.4" r="1.38" fill="#bebebe"/><circle cx="558.0" cy="288.4" r="1.38" fill="#bebebe"/><circle cx="565.4" cy="267.4" r="1.38" fill="#bebebe"/><circle cx="538.6" cy="296.1" r="1.38" fill="#bebebe"/><circle cx="534.1" cy="285.3" r="1.38" fill="#bebebe"/><circle cx="564.7" cy="266.7" r="1.38" fill="#bebebe"/><circle cx="535.1" cy="287.4" r="1.38" fill="#bebebe"/><circle cx="536.0" cy="285.7" r="1.38" fill="#bebebe"/><circle cx="562.1" cy="272.7" r="1.38" fill="#bebebe"/><circle cx="560.2" cy="276.7" r="1.38" fill="#bebebe"/><circle cx="542.6" cy="302.7" r="1.38" fill="#bebebe"/><circle cx="525.0" cy="266.3" r="1.38" fill="#bebebe"/><circle cx="555.3" cy="297.7" r="1.38" fill="#bebebe"/><circle cx="568.4" cy="262.4" r="1.38" fill="#bebebe"/><circle cx="558.8" cy="283.7" r="1.38" fill="#bebebe"/><circle cx="555.5" cy="292.5" r="1.38" fill="#bebebe"/><circle cx="527.4" cy="265.2" r="1.38" fill="#bebebe"/><circle cx="525.9" cy="268.1" r="1.38" fill="#bebebe"/><circle cx="550.1" cy="307.2" r="1.38" fill="#bebebe"/><circle cx="532.6" cy="270.7" r="1.38" fill="#bebebe"/><circle cx="562.5" cy="275.3" r="1.38" fill="#bebebe"/><circle cx="566.5" cy="264.5" r="1.38" fill="#bebebe"/><circle cx="527.0" cy="270.7" r="1.38" fill="#bebebe"/><circle cx="545.3" cy="308.8" r="1.38" fill="#bebebe"/><circle cx="539.1" cy="294.3" r="1.38" fill="#bebebe"/><circle cx="543.8" cy="304.6" r="1.38" fill="#bebebe"/><circle cx="524.8" cy="269.6" r="1.38" fill="#bebebe"/><circle cx="562.7" cy="269.4" r="1.38" fill="#bebebe"/><circle cx="544.9" cy="307.8" r="1.38" fill="#bebebe"/><circle cx="542.7" cy="299.7" r="1.38" fill="#bebebe"/><circle cx="531.7" cy="269.5" r="1.38" fill="#bebebe"/><circle cx="524.9" cy="270.8" r="1.38" fill="#bebebe"/><circle cx="560.8" cy="278.8" r="1.38" fill="#bebebe"/><circle cx="563.4" cy="270.8" r="1.38" fill="#bebebe"/><circle cx="542.6" cy="302.3" r="1.38" fill="#bebebe"/><circle cx="569.0" cy="266.1" r="1.38" fill="#bebebe"/><circle cx="536.0" cy="290.9" r="1.38" fill="#bebebe"/><circle cx="558.1" cy="287.6" r="1.38" fill="#bebebe"/><circle cx="561.3" cy="275.1" r="1.38" fill="#bebebe"/><circle cx="565.1" cy="271.3" r="1.38" fill="#bebebe"/><circle cx="555.9" cy="295.0" r="1.38" fill="#bebebe"/><circle cx="559.1" cy="282.0" r="1.38" fill="#bebebe"/><circle cx="557.2" cy="286.3" r="1.38" fill="#bebebe"/><circle cx="539.8" cy="295.7" r="1.38" fill="#bebebe"/><circle cx="524.7" cy="267.4" r="1.38" fill="#bebebe"/><circle cx="553.3" cy="301.7" r="1.38" fill="#bebebe"/><circle cx="534.8" cy="287.5" r="1.38" fill="#bebebe"/><circle cx="554.6" cy="296.1" r="1.38" fill="#bebebe"/><circle cx="554.3" cy="298.5" r="1.38" fill="#bebebe"/><circle cx="542.0" cy="303.5" r="1.38" fill="#bebebe"/><circle cx="553.5" cy="301.7" r="1.38" fill="#bebebe"/><circle cx="558.9" cy="286.3" r="1.38" fill="#bebebe"/><circle cx="525.2" cy="268.8" r="1.38" fill="#bebebe"/><circle cx="557.9" cy="285.1" r="1.38" fill="#bebebe"/><circle cx="542.5" cy="298.4" r="1.38" fill="#bebebe"/><circle cx="533.1" cy="276.3" r="1.38" fill="#bebebe"/><circle cx="528.7" cy="266.4" r="1.38" fill="#bebebe"/><circle cx="565.5" cy="268.7" r="1.38" fill="#bebebe"/><circle cx="568.3" cy="265.4" r="1.38" fill="#bebebe"/><circle cx="569.6" cy="264.6" r="1.38" fill="#bebebe"/><circle cx="561.1" cy="273.6" r="1.38" fill="#bebebe"/><circle cx="551.4" cy="307.7" r="1.38" fill="#bebebe"/><circle cx="526.3" cy="270.5" r="1.38" fill="#bebebe"/><circle cx="531.5" cy="269.1" r="1.38" fill="#bebebe"/><circle cx="531.9" cy="269.5" r="1.38" fill="#bebebe"/><circle cx="552.1" cy="301.5" r="1.38" fill="#bebebe"/><circle cx="567.3" cy="265.6" r="1.38" fill="#bebebe"/><circle cx="551.5" cy="305.1" r="1.38" fill="#bebebe"/><circle cx="537.2" cy="291.7" r="1.38" fill="#bebebe"/><circle cx="537.1" cy="291.9" r="1.38" fill="#bebebe"/><circle cx="537.7" cy="288.5" r="1.38" fill="#bebebe"/><circle cx="535.4" cy="284.0" r="1.38" fill="#bebebe"/><circle cx="531.3" cy="270.9" r="1.38" fill="#bebebe"/><circle cx="542.0" cy="302.9" r="1.38" fill="#bebebe"/><circle cx="558.3" cy="282.3" r="1.38" fill="#bebebe"/><circle cx="569.3" cy="266.7" r="1.38" fill="#bebebe"/><circle cx="527.6" cy="270.4" r="1.38" fill="#bebebe"/><circle cx="543.8" cy="303.8" r="1.38" fill="#bebebe"/><circle cx="568.6" cy="262.9" r="1.38" fill="#bebebe"/><circle cx="566.9" cy="268.0" r="1.38" fill="#bebebe"/><circle cx="545.6" cy="309.8" r="1.38" fill="#bebebe"/><circle cx="561.4" cy="276.1" r="1.38" fill="#bebebe"/><circle cx="529.4" cy="269.0" r="1.38" fill="#bebebe"/><circle cx="545.0" cy="304.5" r="1.38" fill="#bebebe"/><circle cx="526.6" cy="267.9" r="1.38" fill="#bebebe"/><circle cx="529.9" cy="268.1" r="1.38" fill="#bebebe"/><circle cx="554.7" cy="296.7" r="1.38" fill="#bebebe"/><circle cx="536.2" cy="289.1" r="1.38" fill="#bebebe"/><circle cx="543.3" cy="304.8" r="1.38" fill="#bebebe"/><circle cx="569.7" cy="266.7" r="1.38" fill="#bebebe"/><circle cx="557.7" cy="285.6" r="1.38" fill="#bebebe"/><circle cx="529.4" cy="270.8" r="1.38" fill="#bebebe"/><circle cx="560.0" cy="280.8" r="1.38" fill="#bebebe"/><circle cx="540.6" cy="296.0" r="1.38" fill="#bebebe"/><circle cx="555.4" cy="295.0" r="1.38" fill="#bebebe"/><circle cx="551.2" cy="307.6" r="1.38" fill="#bebebe"/><circle cx="558.6" cy="282.4" r="1.38" fill="#bebebe"/><circle cx="535.6" cy="290.5" r="1.38" fill="#bebebe"/><circle cx="566.0" cy="270.3" r="1.38" fill="#bebebe"/><circle cx="526.0" cy="264.9" r="1.38" fill="#bebebe"/><circle cx="536.6" cy="288.9" r="1.38" fill="#bebebe"/><circle cx="552.6" cy="300.3" r="1.38" fill="#bebebe"/><circle cx="527.5" cy="265.1" r="1.38" fill="#bebebe"/><circle cx="555.0" cy="296.1" r="1.38" fill="#bebebe"/><circle cx="553.0" cy="301.1" r="1.38" fill="#bebebe"/><circle cx="546.0" cy="306.9" r="1.38" fill="#bebebe"/><circle cx="539.9" cy="297.6" r="1.38" fill="#bebebe"/><circle cx="562.4" cy="269.5" r="1.38" fill="#bebebe"/><circle cx="529.7" cy="270.3" r="1.38" fill="#bebebe"/><circle cx="552.6" cy="304.6" r="1.38" fill="#bebebe"/><circle cx="533.9" cy="280.7" r="1.38" fill="#bebebe"/><circle cx="536.0" cy="290.2" r="1.38" fill="#bebebe"/><circle cx="541.0" cy="299.4" r="1.38" fill="#bebebe"/><circle cx="569.3" cy="262.6" r="1.38" fill="#bebebe"/><circle cx="558.2" cy="288.3" r="1.38" fill="#bebebe"/><circle cx="543.7" cy="302.9" r="1.38" fill="#bebebe"/><circle cx="528.6" cy="270.4" r="1.38" fill="#bebebe"/><circle cx="527.8" cy="265.0" r="1.38" fill="#bebebe"/><circle cx="549.9" cy="309.8" r="1.38" fill="#bebebe"/><circle cx="555.5" cy="293.3" r="1.38" fill="#bebebe"/><circle cx="559.6" cy="278.4" r="1.38" fill="#bebebe"/><circle cx="533.9" cy="282.3" r="1.38" fill="#bebebe"/><circle cx="527.9" cy="266.5" r="1.38" fill="#bebebe"/><circle cx="557.3" cy="290.0" r="1.38" fill="#bebebe"/><circle cx="537.1" cy="288.1" r="1.38" fill="#bebebe"/><circle cx="540.5" cy="298.8" r="1.38" fill="#bebebe"/><circle cx="540.9" cy="295.7" r="1.38" fill="#bebebe"/><circle cx="556.5" cy="291.6" r="1.38" fill="#bebebe"/><circle cx="566.1" cy="270.5" r="1.38" fill="#bebebe"/><circle cx="565.8" cy="267.5" r="1.38" fill="#bebebe"/><circle cx="560.8" cy="276.0" r="1.38" fill="#bebebe"/><circle cx="538.7" cy="293.0" r="1.38" fill="#bebebe"/><circle cx="566.8" cy="269.3" r="1.38" fill="#bebebe"/><circle cx="535.5" cy="286.4" r="1.38" fill="#bebebe"/><circle cx="540.9" cy="297.2" r="1.38" fill="#bebebe"/><circle cx="542.2" cy="300.1" r="1.38" fill="#bebebe"/><circle cx="533.1" cy="277.3" r="1.38" fill="#bebebe"/><circle cx="560.5" cy="278.4" r="1.38" fill="#bebebe"/><circle cx="562.3" cy="273.0" r="1.38" fill="#bebebe"/><circle cx="532.3" cy="271.4" r="1.38" fill="#bebebe"/><circle cx="564.4" cy="267.9" r="1.38" fill="#bebebe"/><circle cx="525.2" cy="268.2" r="1.38" fill="#bebebe"/><circle cx="550.1" cy="309.8" r="1.38" fill="#bebebe"/><circle cx="553.9" cy="301.2" r="1.38" fill="#bebebe"/><circle cx="527.1" cy="268.1" r="1.38" fill="#bebebe"/><circle cx="560.1" cy="276.7" r="1.38" fill="#bebebe"/><circle cx="527.9" cy="269.3" r="1.38" fill="#bebebe"/><circle cx="565.2" cy="266.1" r="1.38" fill="#bebebe"/><circle cx="553.1" cy="299.2" r="1.38" fill="#bebebe"/><circle cx="558.2" cy="286.5" r="1.38" fill="#bebebe"/><circle cx="535.4" cy="285.2" r="1.38" fill="#bebebe"/><circle cx="559.1" cy="282.8" r="1.38" fill="#bebebe"/><circle cx="559.1" cy="282.0" r="1.38" fill="#bebebe"/><circle cx="539.6" cy="298.5" r="1.38" fill="#bebebe"/><circle cx="554.9" cy="296.3" r="1.38" fill="#bebebe"/><circle cx="557.1" cy="290.7" r="1.38" fill="#bebebe"/><circle cx="565.9" cy="267.3" r="1.38" fill="#bebebe"/><circle cx="561.9" cy="275.1" r="1.38" fill="#bebebe"/><circle cx="563.1" cy="272.2" r="1.38" fill="#bebebe"/><circle cx="562.2" cy="275.5" r="1.38" fill="#bebebe"/><circle cx="567.9" cy="266.4" r="1.38" fill="#bebebe"/><circle cx="556.6" cy="293.0" r="1.38" fill="#bebebe"/><circle cx="543.4" cy="302.7" r="1.38" fill="#bebebe"/><circle cx="530.9" cy="270.5" r="1.38" fill="#bebebe"/><circle cx="569.4" cy="262.9" r="1.38" fill="#bebebe"/><circle cx="531.8" cy="267.6" r="1.38" fill="#bebebe"/><circle cx="543.6" cy="302.2" r="1.38" fill="#bebebe"/><circle cx="568.4" cy="261.9" r="1.38" fill="#bebebe"/><circle cx="538.3" cy="290.3" r="1.38" fill="#bebebe"/><circle cx="553.7" cy="301.4" r="1.38" fill="#bebebe"/><circle cx="532.4" cy="267.6" r="1.38" fill="#bebebe"/><circle cx="545.1" cy="307.3" r="1.38" fill="#bebebe"/><circle cx="565.7" cy="265.2" r="1.38" fill="#bebebe"/><circle cx="529.2" cy="266.1" r="1.38" fill="#bebebe"/><circle cx="534.1" cy="280.2" r="1.38" fill="#bebebe"/><circle cx="556.9" cy="290.5" r="1.38" fill="#bebebe"/><circle cx="534.4" cy="281.1" r="1.38" fill="#bebebe"/><circle cx="537.0" cy="288.2" r="1.38" fill="#bebebe"/><circle cx="558.7" cy="282.6" r="1.38" fill="#bebebe"/><circle cx="561.5" cy="275.2" r="1.38" fill="#bebebe"/><circle cx="536.1" cy="290.9" r="1.38" fill="#bebebe"/><circle cx="565.9" cy="266.9" r="1.38" fill="#bebebe"/><circle cx="567.8" cy="265.4" r="1.38" fill="#bebebe"/><circle cx="534.3" cy="279.7" r="1.38" fill="#bebebe"/><circle cx="567.4" cy="268.0" r="1.38" fill="#bebebe"/><circle cx="541.8" cy="300.0" r="1.38" fill="#bebebe"/><circle cx="536.7" cy="292.9" r="1.38" fill="#bebebe"/><circle cx="554.2" cy="296.6" r="1.38" fill="#bebebe"/><circle cx="524.7" cy="268.2" r="1.38" fill="#bebebe"/><circle cx="541.1" cy="300.6" r="1.38" fill="#bebebe"/><circle cx="556.7" cy="291.2" r="1.38" fill="#bebebe"/><circle cx="531.4" cy="267.0" r="1.38" fill="#bebebe"/><circle cx="538.9" cy="292.4" r="1.38" fill="#bebebe"/><circle cx="563.8" cy="269.8" r="1.38" fill="#bebebe"/><circle cx="553.2" cy="304.3" r="1.38" fill="#bebebe"/><circle cx="536.4" cy="289.2" r="1.38" fill="#bebebe"/><circle cx="531.1" cy="270.8" r="1.38" fill="#bebebe"/><circle cx="524.3" cy="270.6" r="1.38" fill="#bebebe"/><circle cx="562.8" cy="273.3" r="1.38" fill="#bebebe"/><circle cx="528.0" cy="266.3" r="1.38" fill="#bebebe"/><circle cx="556.9" cy="287.4" r="1.38" fill="#bebebe"/><circle cx="546.1" cy="308.8" r="1.38" fill="#bebebe"/><circle cx="567.8" cy="266.1" r="1.38" fill="#bebebe"/><circle cx="563.3" cy="268.8" r="1.38" fill="#bebebe"/><circle cx="560.2" cy="278.7" r="1.38" fill="#bebebe"/><circle cx="566.0" cy="265.1" r="1.38" fill="#bebebe"/><circle cx="561.9" cy="272.1" r="1.38" fill="#bebebe"/><circle cx="531.4" cy="271.4" r="1.38" fill="#bebebe"/><circle cx="538.4" cy="291.8" r="1.38" fill="#bebebe"/><circle cx="527.7" cy="266.5" r="1.38" fill="#bebebe"/><circle cx="545.5" cy="309.0" r="1.38" fill="#bebebe"/><circle cx="540.6" cy="298.7" r="1.38" fill="#bebebe"/><circle cx="529.0" cy="267.4" r="1.38" fill="#bebebe"/><circle cx="545.3" cy="309.8" r="1.38" fill="#bebebe"/><circle cx="562.0" cy="274.5" r="1.38" fill="#bebebe"/><circle cx="524.8" cy="267.5" r="1.38" fill="#bebebe"/><circle cx="556.6" cy="289.3" r="1.38" fill="#bebebe"/><circle cx="549.9" cy="309.8" r="1.38" fill="#bebebe"/><circle cx="524.7" cy="271.5" r="1.38" fill="#bebebe"/><circle cx="560.7" cy="275.9" r="1.38" fill="#bebebe"/><circle cx="552.3" cy="302.4" r="1.38" fill="#bebebe"/><circle cx="541.3" cy="299.3" r="1.38" fill="#bebebe"/><circle cx="537.8" cy="290.8" r="1.38" fill="#bebebe"/><circle cx="542.1" cy="301.6" r="1.38" fill="#bebebe"/><circle cx="535.9" cy="286.1" r="1.38" fill="#bebebe"/><circle cx="557.6" cy="286.6" r="1.38" fill="#bebebe"/><circle cx="567.3" cy="266.5" r="1.38" fill="#bebebe"/><circle cx="557.2" cy="287.8" r="1.38" fill="#bebebe"/><circle cx="561.9" cy="271.3" r="1.38" fill="#bebebe"/><circle cx="530.6" cy="266.2" r="1.38" fill="#bebebe"/><circle cx="555.1" cy="297.0" r="1.38" fill="#bebebe"/><circle cx="532.4" cy="270.0" r="1.38" fill="#bebebe"/><circle cx="562.4" cy="273.1" r="1.38" fill="#bebebe"/><circle cx="528.3" cy="266.1" r="1.38" fill="#bebebe"/><circle cx="531.4" cy="266.8" r="1.38" fill="#bebebe"/><circle cx="542.8" cy="299.1" r="1.38" fill="#bebebe"/><circle cx="566.2" cy="267.1" r="1.38" fill="#bebebe"/><circle cx="553.7" cy="301.5" r="1.38" fill="#bebebe"/><circle cx="561.6" cy="274.0" r="1.38" fill="#bebebe"/><circle cx="539.3" cy="294.3" r="1.38" fill="#bebebe"/><circle cx="524.9" cy="267.6" r="1.38" fill="#bebebe"/><circle cx="556.1" cy="295.7" r="1.38" fill="#bebebe"/><circle cx="560.2" cy="280.2" r="1.38" fill="#bebebe"/><circle cx="552.0" cy="301.6" r="1.38" fill="#bebebe"/><circle cx="539.3" cy="293.8" r="1.38" fill="#bebebe"/><circle cx="553.9" cy="296.7" r="1.38" fill="#bebebe"/><circle cx="541.4" cy="299.2" r="1.38" fill="#bebebe"/><circle cx="560.2" cy="281.5" r="1.38" fill="#bebebe"/><circle cx="552.1" cy="302.1" r="1.38" fill="#bebebe"/><circle cx="559.2" cy="285.1" r="1.38" fill="#bebebe"/><circle cx="540.3" cy="296.9" r="1.38" fill="#bebebe"/><circle cx="530.7" cy="270.3" r="1.38" fill="#bebebe"/><circle cx="569.2" cy="264.0" r="1.38" fill="#bebebe"/><circle cx="556.8" cy="292.4" r="1.38" fill="#bebebe"/><circle cx="533.2" cy="280.7" r="1.38" fill="#bebebe"/><circle cx="552.8" cy="300.5" r="1.38" fill="#bebebe"/><circle cx="528.0" cy="266.1" r="1.38" fill="#bebebe"/><circle cx="550.5" cy="309.8" r="1.38" fill="#bebebe"/><circle cx="539.2" cy="297.5" r="1.38" fill="#bebebe"/><circle cx="540.7" cy="297.4" r="1.38" fill="#bebebe"/><circle cx="529.9" cy="271.5" r="1.38" fill="#bebebe"/><circle cx="530.4" cy="271.3" r="1.38" fill="#bebebe"/><circle cx="536.3" cy="291.4" r="1.38" fill="#bebebe"/><circle cx="569.4" cy="265.8" r="1.38" fill="#bebebe"/><circle cx="551.6" cy="303.1" r="1.38" fill="#bebebe"/><circle cx="561.8" cy="272.9" r="1.38" fill="#bebebe"/><circle cx="565.1" cy="267.1" r="1.38" fill="#bebebe"/><circle cx="527.0" cy="263.8" r="1.38" fill="#bebebe"/><circle cx="525.2" cy="256.7" r="1.38" fill="#bebebe"/><circle cx="524.7" cy="243.8" r="1.38" fill="#bebebe"/><circle cx="525.1" cy="267.7" r="1.38" fill="#bebebe"/><circle cx="528.7" cy="259.5" r="1.38" fill="#bebebe"/><circle cx="525.7" cy="259.8" r="1.38" fill="#bebebe"/><circle cx="527.8" cy="252.5" r="1.38" fill="#bebebe"/><circle cx="527.1" cy="263.1" r="1.38" fill="#bebebe"/><circle cx="524.4" cy="248.0" r="1.38" fill="#bebebe"/><circle cx="526.5" cy="246.6" r="1.38" fill="#bebebe"/><circle cx="526.1" cy="257.2" r="1.38" fill="#bebebe"/><circle cx="525.1" cy="256.0" r="1.38" fill="#bebebe"/><circle cx="525.5" cy="257.2" r="1.38" fill="#bebebe"/><circle cx="525.9" cy="259.0" r="1.38" fill="#bebebe"/><circle cx="524.5" cy="259.8" r="1.38" fill="#bebebe"/><circle cx="525.0" cy="267.0" r="1.38" fill="#bebebe"/><circle cx="568.3" cy="257.6" r="1.38" fill="#bebebe"/><circle cx="567.6" cy="259.5" r="1.38" fill="#bebebe"/><circle cx="568.6" cy="261.1" r="1.38" fill="#bebebe"/><circle cx="568.9" cy="257.8" r="1.38" fill="#bebebe"/><circle cx="569.8" cy="262.1" r="1.38" fill="#bebebe"/><circle cx="569.2" cy="256.9" r="1.38" fill="#bebebe"/><circle cx="567.6" cy="258.8" r="1.38" fill="#bebebe"/><circle cx="588.9" cy="310.1" r="1.38" fill="#bebebe"/><circle cx="514.6" cy="310.7" r="1.38" fill="#bebebe"/><circle cx="603.4" cy="309.8" r="1.38" fill="#bebebe"/><circle cx="624.3" cy="309.3" r="1.38" fill="#bebebe"/><circle cx="521.0" cy="310.0" r="1.38" fill="#bebebe"/><circle cx="661.1" cy="310.0" r="1.38" fill="#bebebe"/><circle cx="505.5" cy="310.4" r="1.38" fill="#bebebe"/><circle cx="597.1" cy="309.2" r="1.38" fill="#bebebe"/><circle cx="621.0" cy="310.1" r="1.38" fill="#bebebe"/><circle cx="518.0" cy="309.5" r="1.38" fill="#bebebe"/><circle cx="465.2" cy="310.6" r="1.38" fill="#bebebe"/><circle cx="521.1" cy="309.9" r="1.38" fill="#bebebe"/><circle cx="570.0" cy="310.4" r="1.38" fill="#bebebe"/><circle cx="570.6" cy="310.5" r="1.38" fill="#bebebe"/><circle cx="627.1" cy="309.4" r="1.38" fill="#bebebe"/><circle cx="573.9" cy="309.6" r="1.38" fill="#bebebe"/><circle cx="523.2" cy="310.7" r="1.38" fill="#bebebe"/><circle cx="579.3" cy="309.9" r="1.38" fill="#bebebe"/><circle cx="623.4" cy="310.5" r="1.38" fill="#bebebe"/><circle cx="518.9" cy="309.4" r="1.38" fill="#bebebe"/><circle cx="628.2" cy="310.8" r="1.38" fill="#bebebe"/><circle cx="505.1" cy="310.4" r="1.38" fill="#bebebe"/><circle cx="497.8" cy="310.3" r="1.38" fill="#bebebe"/><circle cx="652.4" cy="310.3" r="1.38" fill="#bebebe"/><circle cx="601.6" cy="310.6" r="1.38" fill="#bebebe"/><circle cx="583.6" cy="310.5" r="1.38" fill="#bebebe"/><circle cx="573.3" cy="309.6" r="1.38" fill="#bebebe"/><circle cx="575.1" cy="310.4" r="1.38" fill="#bebebe"/><circle cx="609.6" cy="310.2" r="1.38" fill="#bebebe"/><circle cx="501.8" cy="310.4" r="1.38" fill="#bebebe"/><circle cx="627.2" cy="310.5" r="1.38" fill="#bebebe"/><circle cx="516.2" cy="309.7" r="1.38" fill="#bebebe"/><circle cx="508.7" cy="310.7" r="1.38" fill="#bebebe"/><circle cx="505.2" cy="310.7" r="1.38" fill="#bebebe"/><circle cx="589.5" cy="310.1" r="1.38" fill="#bebebe"/><circle cx="519.8" cy="309.1" r="1.38" fill="#bebebe"/><circle cx="517.3" cy="310.3" r="1.38" fill="#bebebe"/><circle cx="519.2" cy="309.3" r="1.38" fill="#bebebe"/><circle cx="499.8" cy="309.2" r="1.38" fill="#bebebe"/><circle cx="570.1" cy="309.3" r="1.38" fill="#bebebe"/><circle cx="519.4" cy="309.9" r="1.38" fill="#bebebe"/><circle cx="579.8" cy="310.0" r="1.38" fill="#bebebe"/><circle cx="506.0" cy="309.9" r="1.38" fill="#bebebe"/><circle cx="501.6" cy="309.5" r="1.38" fill="#bebebe"/><circle cx="500.7" cy="310.4" r="1.38" fill="#bebebe"/><circle cx="590.1" cy="310.4" r="1.38" fill="#bebebe"/><circle cx="516.8" cy="309.9" r="1.38" fill="#bebebe"/><circle cx="577.7" cy="310.5" r="1.38" fill="#bebebe"/><circle cx="502.9" cy="309.3" r="1.38" fill="#bebebe"/><circle cx="514.4" cy="309.8" r="1.38" fill="#bebebe"/><circle cx="611.6" cy="309.9" r="1.38" fill="#bebebe"/><circle cx="619.2" cy="310.7" r="1.38" fill="#bebebe"/><circle cx="464.1" cy="309.8" r="1.38" fill="#bebebe"/><circle cx="499.7" cy="310.7" r="1.38" fill="#bebebe"/><circle cx="571.1" cy="310.3" r="1.38" fill="#bebebe"/><circle cx="606.7" cy="309.9" r="1.38" fill="#bebebe"/><circle cx="512.3" cy="310.4" r="1.38" fill="#bebebe"/><circle cx="599.7" cy="309.4" r="1.38" fill="#bebebe"/><circle cx="571.6" cy="310.1" r="1.38" fill="#bebebe"/><circle cx="600.4" cy="309.6" r="1.38" fill="#bebebe"/><circle cx="520.9" cy="309.5" r="1.38" fill="#bebebe"/><circle cx="520.4" cy="310.0" r="1.38" fill="#bebebe"/><circle cx="524.3" cy="310.1" r="1.38" fill="#bebebe"/><circle cx="522.0" cy="309.9" r="1.38" fill="#bebebe"/><circle cx="584.0" cy="310.7" r="1.38" fill="#bebebe"/><circle cx="495.5" cy="309.6" r="1.38" fill="#bebebe"/><circle cx="515.5" cy="310.6" r="1.38" fill="#bebebe"/><circle cx="510.7" cy="310.7" r="1.38" fill="#bebebe"/><circle cx="512.9" cy="310.2" r="1.38" fill="#bebebe"/><circle cx="523.4" cy="310.1" r="1.38" fill="#bebebe"/><circle cx="490.5" cy="309.8" r="1.38" fill="#bebebe"/><circle cx="508.7" cy="310.1" r="1.38" fill="#bebebe"/><circle cx="512.2" cy="309.5" r="1.38" fill="#bebebe"/><circle cx="510.7" cy="310.4" r="1.38" fill="#bebebe"/><circle cx="507.8" cy="310.1" r="1.38" fill="#bebebe"/><circle cx="606.1" cy="310.0" r="1.38" fill="#bebebe"/><circle cx="474.1" cy="310.5" r="1.38" fill="#bebebe"/><circle cx="583.8" cy="310.7" r="1.38" fill="#bebebe"/><circle cx="581.4" cy="310.3" r="1.38" fill="#bebebe"/><circle cx="505.9" cy="309.5" r="1.38" fill="#bebebe"/><circle cx="591.2" cy="309.7" r="1.38" fill="#bebebe"/><circle cx="516.5" cy="310.2" r="1.38" fill="#bebebe"/><circle cx="491.4" cy="309.5" r="1.38" fill="#bebebe"/><circle cx="487.6" cy="309.6" r="1.38" fill="#bebebe"/><circle cx="523.9" cy="310.2" r="1.38" fill="#bebebe"/><circle cx="585.1" cy="309.3" r="1.38" fill="#bebebe"/><circle cx="580.0" cy="309.5" r="1.38" fill="#bebebe"/><circle cx="515.3" cy="309.8" r="1.38" fill="#bebebe"/><circle cx="571.1" cy="310.5" r="1.38" fill="#bebebe"/><circle cx="523.6" cy="310.3" r="1.38" fill="#bebebe"/><circle cx="586.5" cy="309.6" r="1.38" fill="#bebebe"/><circle cx="579.5" cy="310.0" r="1.38" fill="#bebebe"/><circle cx="574.0" cy="310.5" r="1.38" fill="#bebebe"/><circle cx="589.4" cy="310.0" r="1.38" fill="#bebebe"/><circle cx="512.0" cy="309.3" r="1.38" fill="#bebebe"/><circle cx="521.7" cy="310.2" r="1.38" fill="#bebebe"/><circle cx="520.6" cy="309.4" r="1.38" fill="#bebebe"/><circle cx="591.1" cy="309.4" r="1.38" fill="#bebebe"/><circle cx="597.4" cy="310.7" r="1.38" fill="#bebebe"/><circle cx="503.7" cy="310.2" r="1.38" fill="#bebebe"/><circle cx="445.8" cy="309.3" r="1.38" fill="#bebebe"/><circle cx="485.7" cy="310.4" r="1.38" fill="#bebebe"/><circle cx="573.2" cy="310.0" r="1.38" fill="#bebebe"/><circle cx="582.2" cy="310.2" r="1.38" fill="#bebebe"/><circle cx="600.8" cy="310.4" r="1.38" fill="#bebebe"/><circle cx="575.7" cy="309.5" r="1.38" fill="#bebebe"/><circle cx="597.7" cy="310.4" r="1.38" fill="#bebebe"/><circle cx="490.0" cy="309.2" r="1.38" fill="#bebebe"/><circle cx="507.9" cy="310.4" r="1.38" fill="#bebebe"/><circle cx="600.5" cy="310.8" r="1.38" fill="#bebebe"/><circle cx="573.2" cy="309.2" r="1.38" fill="#bebebe"/><circle cx="578.0" cy="310.2" r="1.38" fill="#bebebe"/><circle cx="586.0" cy="310.2" r="1.38" fill="#bebebe"/><circle cx="571.9" cy="310.7" r="1.38" fill="#bebebe"/><circle cx="626.3" cy="309.8" r="1.38" fill="#bebebe"/><circle cx="612.8" cy="309.3" r="1.38" fill="#bebebe"/><circle cx="582.3" cy="310.2" r="1.38" fill="#bebebe"/><circle cx="570.8" cy="309.6" r="1.38" fill="#bebebe"/><circle cx="487.0" cy="309.7" r="1.38" fill="#bebebe"/><circle cx="594.0" cy="310.7" r="1.38" fill="#bebebe"/><circle cx="479.6" cy="309.3" r="1.38" fill="#bebebe"/><circle cx="655.9" cy="310.1" r="1.38" fill="#bebebe"/><circle cx="495.3" cy="310.3" r="1.38" fill="#bebebe"/><circle cx="581.3" cy="309.1" r="1.38" fill="#bebebe"/><circle cx="500.8" cy="310.3" r="1.38" fill="#bebebe"/><circle cx="598.9" cy="310.4" r="1.38" fill="#bebebe"/><circle cx="458.3" cy="309.1" r="1.38" fill="#bebebe"/><circle cx="517.5" cy="310.0" r="1.38" fill="#bebebe"/><circle cx="499.6" cy="309.8" r="1.38" fill="#bebebe"/><circle cx="577.8" cy="310.6" r="1.38" fill="#bebebe"/><circle cx="514.9" cy="309.6" r="1.38" fill="#bebebe"/><circle cx="599.4" cy="309.2" r="1.38" fill="#bebebe"/><circle cx="520.0" cy="309.7" r="1.38" fill="#bebebe"/><circle cx="611.4" cy="310.3" r="1.38" fill="#bebebe"/><circle cx="578.5" cy="309.5" r="1.38" fill="#bebebe"/><circle cx="576.9" cy="310.4" r="1.38" fill="#bebebe"/><circle cx="601.0" cy="309.2" r="1.38" fill="#bebebe"/><circle cx="471.2" cy="309.1" r="1.38" fill="#bebebe"/><circle cx="469.5" cy="310.3" r="1.38" fill="#bebebe"/><circle cx="588.2" cy="309.6" r="1.38" fill="#bebebe"/><circle cx="519.9" cy="309.3" r="1.38" fill="#bebebe"/><circle cx="571.4" cy="310.4" r="1.38" fill="#bebebe"/><circle cx="577.4" cy="309.7" r="1.38" fill="#bebebe"/><circle cx="601.9" cy="310.2" r="1.38" fill="#bebebe"/><circle cx="619.1" cy="310.5" r="1.38" fill="#bebebe"/><circle cx="503.2" cy="310.1" r="1.38" fill="#bebebe"/><circle cx="499.7" cy="309.4" r="1.38" fill="#bebebe"/><circle cx="521.0" cy="310.2" r="1.38" fill="#bebebe"/><circle cx="576.7" cy="310.5" r="1.38" fill="#bebebe"/><circle cx="508.2" cy="309.6" r="1.38" fill="#bebebe"/><circle cx="516.5" cy="310.3" r="1.38" fill="#bebebe"/><circle cx="595.3" cy="310.1" r="1.38" fill="#bebebe"/><circle cx="523.1" cy="309.6" r="1.38" fill="#bebebe"/><circle cx="472.6" cy="310.5" r="1.38" fill="#bebebe"/><circle cx="603.3" cy="309.1" r="1.38" fill="#bebebe"/><circle cx="511.3" cy="309.3" r="1.38" fill="#bebebe"/><circle cx="574.8" cy="310.7" r="1.38" fill="#bebebe"/><circle cx="610.8" cy="309.4" r="1.38" fill="#bebebe"/><circle cx="517.4" cy="303.3" r="1.38" fill="#0b9866"/><circle cx="506.1" cy="299.4" r="1.38" fill="#0b9866"/><circle cx="452.1" cy="309.2" r="1.38" fill="#0b9866"/><circle cx="502.1" cy="302.5" r="1.38" fill="#0b9866"/><circle cx="494.4" cy="307.6" r="1.38" fill="#0b9866"/><circle cx="519.9" cy="307.5" r="1.38" fill="#0b9866"/><circle cx="474.6" cy="307.8" r="1.38" fill="#0b9866"/><circle cx="511.3" cy="307.7" r="1.38" fill="#0b9866"/><circle cx="516.4" cy="309.0" r="1.38" fill="#0b9866"/><circle cx="508.4" cy="307.4" r="1.38" fill="#0b9866"/><circle cx="505.7" cy="305.8" r="1.38" fill="#0b9866"/><circle cx="518.8" cy="301.6" r="1.38" fill="#0b9866"/><circle cx="515.2" cy="305.6" r="1.38" fill="#0b9866"/><circle cx="522.5" cy="308.2" r="1.38" fill="#0b9866"/><circle cx="483.2" cy="306.5" r="1.38" fill="#0b9866"/><circle cx="521.9" cy="306.1" r="1.38" fill="#0b9866"/><circle cx="511.5" cy="295.8" r="1.38" fill="#0b9866"/><circle cx="519.3" cy="295.3" r="1.38" fill="#0b9866"/><circle cx="511.5" cy="303.7" r="1.38" fill="#0b9866"/><circle cx="493.8" cy="304.8" r="1.38" fill="#0b9866"/><circle cx="522.3" cy="299.6" r="1.38" fill="#0b9866"/><circle cx="504.1" cy="301.4" r="1.38" fill="#0b9866"/><circle cx="517.6" cy="295.0" r="1.38" fill="#0b9866"/><circle cx="487.4" cy="298.8" r="1.38" fill="#0b9866"/><circle cx="512.9" cy="297.8" r="1.38" fill="#0b9866"/><circle cx="500.2" cy="307.2" r="1.38" fill="#0b9866"/><circle cx="522.9" cy="306.3" r="1.38" fill="#0b9866"/><circle cx="521.1" cy="308.0" r="1.38" fill="#0b9866"/><circle cx="515.4" cy="298.6" r="1.38" fill="#0b9866"/><circle cx="516.7" cy="301.7" r="1.38" fill="#0b9866"/><circle cx="523.2" cy="305.5" r="1.38" fill="#0b9866"/><circle cx="465.8" cy="309.3" r="1.38" fill="#0b9866"/><circle cx="509.9" cy="298.5" r="1.38" fill="#0b9866"/><circle cx="495.1" cy="300.8" r="1.38" fill="#0b9866"/><circle cx="514.2" cy="298.1" r="1.38" fill="#0b9866"/><circle cx="491.8" cy="300.7" r="1.38" fill="#0b9866"/><circle cx="446.6" cy="309.3" r="1.38" fill="#0b9866"/><circle cx="469.3" cy="307.6" r="1.38" fill="#0b9866"/><circle cx="501.4" cy="306.2" r="1.38" fill="#0b9866"/><circle cx="480.1" cy="309.1" r="1.38" fill="#0b9866"/><circle cx="507.9" cy="306.3" r="1.38" fill="#0b9866"/><circle cx="514.5" cy="304.1" r="1.38" fill="#0b9866"/><circle cx="504.1" cy="299.0" r="1.38" fill="#0b9866"/><circle cx="515.2" cy="300.3" r="1.38" fill="#0b9866"/><circle cx="515.5" cy="305.3" r="1.38" fill="#0b9866"/><circle cx="481.0" cy="306.6" r="1.38" fill="#0b9866"/><circle cx="521.6" cy="303.5" r="1.38" fill="#0b9866"/><circle cx="499.0" cy="306.7" r="1.38" fill="#0b9866"/><circle cx="498.9" cy="302.7" r="1.38" fill="#0b9866"/><circle cx="502.9" cy="307.1" r="1.38" fill="#0b9866"/><circle cx="521.4" cy="306.8" r="1.38" fill="#0b9866"/><circle cx="515.6" cy="303.1" r="1.38" fill="#0b9866"/><circle cx="523.2" cy="300.2" r="1.38" fill="#0b9866"/><circle cx="514.1" cy="304.8" r="1.38" fill="#0b9866"/><circle cx="509.5" cy="296.6" r="1.38" fill="#0b9866"/><circle cx="519.3" cy="295.1" r="1.38" fill="#0b9866"/><circle cx="516.4" cy="298.2" r="1.38" fill="#0b9866"/><circle cx="521.3" cy="292.3" r="1.38" fill="#0b9866"/><circle cx="513.3" cy="296.0" r="1.38" fill="#0b9866"/><circle cx="518.9" cy="302.8" r="1.38" fill="#0b9866"/><circle cx="501.4" cy="307.1" r="1.38" fill="#0b9866"/><circle cx="517.7" cy="298.9" r="1.38" fill="#0b9866"/><circle cx="470.3" cy="307.8" r="1.38" fill="#0b9866"/><circle cx="519.8" cy="303.5" r="1.38" fill="#0b9866"/><circle cx="441.4" cy="309.3" r="1.38" fill="#0b9866"/><circle cx="505.3" cy="304.4" r="1.38" fill="#0b9866"/><circle cx="504.8" cy="306.6" r="1.38" fill="#0b9866"/><circle cx="506.2" cy="297.8" r="1.38" fill="#0b9866"/><circle cx="488.5" cy="302.5" r="1.38" fill="#0b9866"/><circle cx="510.7" cy="301.6" r="1.38" fill="#0b9866"/><circle cx="521.2" cy="295.0" r="1.38" fill="#0b9866"/><circle cx="502.3" cy="303.6" r="1.38" fill="#0b9866"/><circle cx="503.7" cy="304.0" r="1.38" fill="#0b9866"/><circle cx="514.7" cy="306.1" r="1.38" fill="#0b9866"/><circle cx="506.9" cy="301.8" r="1.38" fill="#0b9866"/><circle cx="510.4" cy="308.9" r="1.38" fill="#0b9866"/><circle cx="505.6" cy="303.5" r="1.38" fill="#0b9866"/><circle cx="507.2" cy="301.5" r="1.38" fill="#0b9866"/><circle cx="475.1" cy="308.3" r="1.38" fill="#0b9866"/><circle cx="512.0" cy="295.8" r="1.38" fill="#0b9866"/><circle cx="499.3" cy="305.5" r="1.38" fill="#0b9866"/><circle cx="499.4" cy="297.3" r="1.38" fill="#0b9866"/><circle cx="514.1" cy="297.2" r="1.38" fill="#0b9866"/><circle cx="521.0" cy="292.5" r="1.38" fill="#0b9866"/><circle cx="511.2" cy="306.1" r="1.38" fill="#0b9866"/><circle cx="490.4" cy="302.1" r="1.38" fill="#0b9866"/><circle cx="473.4" cy="304.6" r="1.38" fill="#0b9866"/><circle cx="494.6" cy="303.4" r="1.38" fill="#0b9866"/><circle cx="522.2" cy="294.0" r="1.38" fill="#0b9866"/><circle cx="501.0" cy="306.2" r="1.38" fill="#0b9866"/><circle cx="493.8" cy="304.1" r="1.38" fill="#0b9866"/><circle cx="509.6" cy="297.7" r="1.38" fill="#0b9866"/><circle cx="519.5" cy="304.8" r="1.38" fill="#0b9866"/><circle cx="504.8" cy="308.4" r="1.38" fill="#0b9866"/><circle cx="508.8" cy="298.9" r="1.38" fill="#0b9866"/><circle cx="511.3" cy="306.0" r="1.38" fill="#0b9866"/><circle cx="494.4" cy="299.4" r="1.38" fill="#0b9866"/><circle cx="496.9" cy="302.8" r="1.38" fill="#0b9866"/><circle cx="480.9" cy="302.7" r="1.38" fill="#0b9866"/><circle cx="520.4" cy="303.2" r="1.38" fill="#0b9866"/><circle cx="521.5" cy="308.7" r="1.38" fill="#0b9866"/><circle cx="515.8" cy="296.9" r="1.38" fill="#0b9866"/><circle cx="491.1" cy="308.0" r="1.38" fill="#0b9866"/><circle cx="519.8" cy="302.9" r="1.38" fill="#0b9866"/><circle cx="489.3" cy="302.6" r="1.38" fill="#0b9866"/><circle cx="481.6" cy="308.7" r="1.38" fill="#0b9866"/><circle cx="444.0" cy="309.2" r="1.38" fill="#0b9866"/><circle cx="505.5" cy="298.0" r="1.38" fill="#0b9866"/><circle cx="500.0" cy="306.9" r="1.38" fill="#0b9866"/><circle cx="503.5" cy="303.9" r="1.38" fill="#0b9866"/><circle cx="523.1" cy="303.2" r="1.38" fill="#0b9866"/><circle cx="516.6" cy="300.0" r="1.38" fill="#0b9866"/><circle cx="517.5" cy="300.1" r="1.38" fill="#0b9866"/><circle cx="502.0" cy="307.1" r="1.38" fill="#0b9866"/><circle cx="520.9" cy="297.5" r="1.38" fill="#0b9866"/><circle cx="512.1" cy="307.5" r="1.38" fill="#0b9866"/><circle cx="521.2" cy="293.2" r="1.38" fill="#0b9866"/><circle cx="506.4" cy="304.7" r="1.38" fill="#0b9866"/><circle cx="519.5" cy="293.1" r="1.38" fill="#0b9866"/><circle cx="502.2" cy="300.1" r="1.38" fill="#0b9866"/><circle cx="515.4" cy="304.9" r="1.38" fill="#0b9866"/><circle cx="514.0" cy="307.3" r="1.38" fill="#0b9866"/><circle cx="505.4" cy="303.8" r="1.38" fill="#0b9866"/><circle cx="492.5" cy="304.7" r="1.38" fill="#0b9866"/><circle cx="512.4" cy="302.4" r="1.38" fill="#0b9866"/><circle cx="472.3" cy="307.5" r="1.38" fill="#0b9866"/><circle cx="501.5" cy="306.4" r="1.38" fill="#0b9866"/><circle cx="507.8" cy="305.6" r="1.38" fill="#0b9866"/><circle cx="486.3" cy="306.4" r="1.38" fill="#0b9866"/><circle cx="488.7" cy="302.0" r="1.38" fill="#0b9866"/><circle cx="512.5" cy="296.5" r="1.38" fill="#0b9866"/><circle cx="514.6" cy="298.9" r="1.38" fill="#0b9866"/><circle cx="506.8" cy="303.5" r="1.38" fill="#0b9866"/><circle cx="522.2" cy="301.9" r="1.38" fill="#0b9866"/><circle cx="517.5" cy="302.6" r="1.38" fill="#0b9866"/><circle cx="467.8" cy="308.2" r="1.38" fill="#0b9866"/><circle cx="502.0" cy="300.9" r="1.38" fill="#0b9866"/><circle cx="518.3" cy="302.8" r="1.38" fill="#0b9866"/><circle cx="520.8" cy="294.1" r="1.38" fill="#0b9866"/><circle cx="518.2" cy="302.7" r="1.38" fill="#0b9866"/><circle cx="515.9" cy="297.5" r="1.38" fill="#0b9866"/><circle cx="489.2" cy="302.9" r="1.38" fill="#0b9866"/><circle cx="509.2" cy="308.0" r="1.38" fill="#0b9866"/><circle cx="482.6" cy="308.5" r="1.38" fill="#0b9866"/><circle cx="515.3" cy="304.0" r="1.38" fill="#0b9866"/><circle cx="500.3" cy="301.1" r="1.38" fill="#0b9866"/><circle cx="515.8" cy="296.4" r="1.38" fill="#0b9866"/><circle cx="469.6" cy="309.2" r="1.38" fill="#0b9866"/><circle cx="505.4" cy="303.3" r="1.38" fill="#0b9866"/><circle cx="515.3" cy="302.7" r="1.38" fill="#0b9866"/><circle cx="516.6" cy="299.4" r="1.38" fill="#0b9866"/><circle cx="506.7" cy="296.7" r="1.38" fill="#0b9866"/><circle cx="455.9" cy="309.0" r="1.38" fill="#0b9866"/><circle cx="514.4" cy="297.8" r="1.38" fill="#0b9866"/><circle cx="504.5" cy="300.4" r="1.38" fill="#0b9866"/><circle cx="522.2" cy="301.2" r="1.38" fill="#0b9866"/><circle cx="514.2" cy="300.2" r="1.38" fill="#0b9866"/><circle cx="519.0" cy="293.5" r="1.38" fill="#0b9866"/><circle cx="519.2" cy="303.4" r="1.38" fill="#0b9866"/><circle cx="520.6" cy="302.7" r="1.38" fill="#0b9866"/><circle cx="499.0" cy="308.3" r="1.38" fill="#0b9866"/><circle cx="520.1" cy="298.6" r="1.38" fill="#0b9866"/><circle cx="505.8" cy="299.7" r="1.38" fill="#0b9866"/><circle cx="518.1" cy="296.7" r="1.38" fill="#0b9866"/><circle cx="499.8" cy="299.9" r="1.38" fill="#0b9866"/><circle cx="521.1" cy="301.3" r="1.38" fill="#0b9866"/><circle cx="523.1" cy="293.8" r="1.38" fill="#0b9866"/><circle cx="471.3" cy="304.8" r="1.38" fill="#0b9866"/><circle cx="523.0" cy="303.0" r="1.38" fill="#0b9866"/><circle cx="509.6" cy="302.2" r="1.38" fill="#0b9866"/><circle cx="521.3" cy="295.8" r="1.38" fill="#0b9866"/><circle cx="516.9" cy="301.7" r="1.38" fill="#0b9866"/><circle cx="521.0" cy="299.6" r="1.38" fill="#0b9866"/><circle cx="520.9" cy="307.8" r="1.38" fill="#0b9866"/><circle cx="510.5" cy="305.3" r="1.38" fill="#0b9866"/><circle cx="496.4" cy="306.4" r="1.38" fill="#0b9866"/><circle cx="513.8" cy="308.5" r="1.38" fill="#0b9866"/><circle cx="519.0" cy="302.1" r="1.38" fill="#0b9866"/><circle cx="508.7" cy="303.2" r="1.38" fill="#0b9866"/><circle cx="489.2" cy="308.2" r="1.38" fill="#0b9866"/><circle cx="489.2" cy="307.6" r="1.38" fill="#0b9866"/><circle cx="460.1" cy="308.8" r="1.38" fill="#0b9866"/><circle cx="514.0" cy="300.8" r="1.38" fill="#0b9866"/><circle cx="487.5" cy="299.1" r="1.38" fill="#0b9866"/><circle cx="513.8" cy="309.2" r="1.38" fill="#0b9866"/><circle cx="520.4" cy="295.6" r="1.38" fill="#0b9866"/><circle cx="499.5" cy="300.6" r="1.38" fill="#0b9866"/><circle cx="520.3" cy="300.4" r="1.38" fill="#0b9866"/><circle cx="522.9" cy="307.3" r="1.38" fill="#0b9866"/><circle cx="517.0" cy="294.8" r="1.38" fill="#0b9866"/><circle cx="504.9" cy="298.5" r="1.38" fill="#0b9866"/><circle cx="522.6" cy="301.9" r="1.38" fill="#0b9866"/><circle cx="521.9" cy="304.7" r="1.38" fill="#0b9866"/><circle cx="521.3" cy="293.6" r="1.38" fill="#0b9866"/><circle cx="516.2" cy="302.2" r="1.38" fill="#0b9866"/><circle cx="504.3" cy="298.0" r="1.38" fill="#0b9866"/><circle cx="470.7" cy="306.6" r="1.38" fill="#0b9866"/><circle cx="510.9" cy="297.1" r="1.38" fill="#0b9866"/><circle cx="514.4" cy="305.1" r="1.38" fill="#0b9866"/><circle cx="499.2" cy="306.2" r="1.38" fill="#0b9866"/><circle cx="515.1" cy="303.3" r="1.38" fill="#0b9866"/><circle cx="511.7" cy="304.4" r="1.38" fill="#0b9866"/><circle cx="513.3" cy="303.1" r="1.38" fill="#0b9866"/><circle cx="522.5" cy="294.5" r="1.38" fill="#0b9866"/><circle cx="522.3" cy="300.0" r="1.38" fill="#0b9866"/><circle cx="509.1" cy="304.0" r="1.38" fill="#0b9866"/><circle cx="518.9" cy="307.7" r="1.38" fill="#0b9866"/><circle cx="515.0" cy="304.9" r="1.38" fill="#0b9866"/><circle cx="511.5" cy="306.2" r="1.38" fill="#0b9866"/><circle cx="498.5" cy="303.4" r="1.38" fill="#0b9866"/><circle cx="523.2" cy="301.9" r="1.38" fill="#0b9866"/><circle cx="462.4" cy="309.3" r="1.38" fill="#0b9866"/><circle cx="507.2" cy="296.7" r="1.38" fill="#0b9866"/><circle cx="515.2" cy="300.9" r="1.38" fill="#0b9866"/><circle cx="515.1" cy="305.1" r="1.38" fill="#0b9866"/><circle cx="506.5" cy="301.6" r="1.38" fill="#0b9866"/><circle cx="516.6" cy="301.9" r="1.38" fill="#0b9866"/><circle cx="510.3" cy="299.2" r="1.38" fill="#0b9866"/><circle cx="522.4" cy="307.7" r="1.38" fill="#0b9866"/><circle cx="518.2" cy="305.1" r="1.38" fill="#0b9866"/><circle cx="494.8" cy="304.4" r="1.38" fill="#0b9866"/><circle cx="488.0" cy="305.0" r="1.38" fill="#0b9866"/><circle cx="517.3" cy="299.0" r="1.38" fill="#0b9866"/><circle cx="521.8" cy="292.2" r="1.38" fill="#0b9866"/><circle cx="491.3" cy="305.6" r="1.38" fill="#0b9866"/><circle cx="516.5" cy="297.2" r="1.38" fill="#0b9866"/><circle cx="495.5" cy="301.8" r="1.38" fill="#0b9866"/><circle cx="522.3" cy="295.8" r="1.38" fill="#0b9866"/><circle cx="522.5" cy="298.2" r="1.38" fill="#0b9866"/><circle cx="508.9" cy="297.0" r="1.38" fill="#0b9866"/><circle cx="505.1" cy="309.0" r="1.38" fill="#0b9866"/><circle cx="474.4" cy="304.8" r="1.38" fill="#0b9866"/><circle cx="507.8" cy="309.2" r="1.38" fill="#0b9866"/><circle cx="499.4" cy="304.2" r="1.38" fill="#0b9866"/><circle cx="502.9" cy="297.0" r="1.38" fill="#0b9866"/><circle cx="478.7" cy="308.7" r="1.38" fill="#0b9866"/><circle cx="496.0" cy="304.1" r="1.38" fill="#0b9866"/><circle cx="498.3" cy="304.8" r="1.38" fill="#0b9866"/><circle cx="512.7" cy="303.3" r="1.38" fill="#0b9866"/><circle cx="521.1" cy="303.8" r="1.38" fill="#0b9866"/><circle cx="499.5" cy="308.4" r="1.38" fill="#0b9866"/><circle cx="521.2" cy="295.0" r="1.38" fill="#0b9866"/><circle cx="503.6" cy="302.4" r="1.38" fill="#0b9866"/><circle cx="521.2" cy="307.3" r="1.38" fill="#0b9866"/><circle cx="516.7" cy="295.1" r="1.38" fill="#0b9866"/><circle cx="508.6" cy="297.1" r="1.38" fill="#0b9866"/><circle cx="519.1" cy="302.6" r="1.38" fill="#0b9866"/><circle cx="509.6" cy="298.1" r="1.38" fill="#0b9866"/><circle cx="521.0" cy="294.4" r="1.38" fill="#0b9866"/><circle cx="511.9" cy="308.9" r="1.38" fill="#0b9866"/><circle cx="513.2" cy="304.1" r="1.38" fill="#0b9866"/><circle cx="503.2" cy="297.6" r="1.38" fill="#0b9866"/><circle cx="511.2" cy="300.0" r="1.38" fill="#0b9866"/><circle cx="514.6" cy="298.4" r="1.38" fill="#0b9866"/><circle cx="521.4" cy="296.5" r="1.38" fill="#0b9866"/><circle cx="520.1" cy="299.6" r="1.38" fill="#0b9866"/><circle cx="519.3" cy="303.7" r="1.38" fill="#0b9866"/><circle cx="520.2" cy="303.5" r="1.38" fill="#0b9866"/><circle cx="507.3" cy="302.5" r="1.38" fill="#0b9866"/><circle cx="514.5" cy="301.3" r="1.38" fill="#0b9866"/><circle cx="490.2" cy="305.4" r="1.38" fill="#0b9866"/><circle cx="507.6" cy="303.0" r="1.38" fill="#0b9866"/><circle cx="452.4" cy="309.2" r="1.38" fill="#0b9866"/><circle cx="501.9" cy="306.4" r="1.38" fill="#0b9866"/><circle cx="517.9" cy="298.0" r="1.38" fill="#0b9866"/><circle cx="508.0" cy="305.9" r="1.38" fill="#0b9866"/><circle cx="522.2" cy="294.8" r="1.38" fill="#0b9866"/><circle cx="514.9" cy="299.3" r="1.38" fill="#0b9866"/><circle cx="513.2" cy="300.8" r="1.38" fill="#0b9866"/><circle cx="508.6" cy="296.4" r="1.38" fill="#0b9866"/><circle cx="480.1" cy="305.6" r="1.38" fill="#0b9866"/><circle cx="511.4" cy="306.2" r="1.38" fill="#0b9866"/><circle cx="498.2" cy="308.1" r="1.38" fill="#0b9866"/><circle cx="516.8" cy="296.7" r="1.38" fill="#0b9866"/><circle cx="522.8" cy="296.8" r="1.38" fill="#0b9866"/><circle cx="508.3" cy="302.0" r="1.38" fill="#0b9866"/><circle cx="516.1" cy="307.1" r="1.38" fill="#0b9866"/><circle cx="469.2" cy="306.1" r="1.38" fill="#0b9866"/><circle cx="493.9" cy="308.2" r="1.38" fill="#0b9866"/><circle cx="495.8" cy="306.7" r="1.38" fill="#0b9866"/><circle cx="519.4" cy="300.6" r="1.38" fill="#0b9866"/><circle cx="506.5" cy="307.7" r="1.38" fill="#0b9866"/><circle cx="497.3" cy="302.4" r="1.38" fill="#0b9866"/><circle cx="482.1" cy="301.2" r="1.38" fill="#0b9866"/><circle cx="502.4" cy="304.8" r="1.38" fill="#0b9866"/><circle cx="469.1" cy="306.3" r="1.38" fill="#0b9866"/><circle cx="517.2" cy="296.3" r="1.38" fill="#0b9866"/><circle cx="500.0" cy="306.1" r="1.38" fill="#0b9866"/><circle cx="518.2" cy="309.0" r="1.38" fill="#0b9866"/><circle cx="509.5" cy="305.9" r="1.38" fill="#0b9866"/><circle cx="517.2" cy="305.5" r="1.38" fill="#0b9866"/><circle cx="520.9" cy="301.1" r="1.38" fill="#0b9866"/><circle cx="517.7" cy="304.9" r="1.38" fill="#0b9866"/><circle cx="517.5" cy="301.5" r="1.38" fill="#0b9866"/><circle cx="486.1" cy="307.7" r="1.38" fill="#0b9866"/><circle cx="488.1" cy="300.1" r="1.38" fill="#0b9866"/><circle cx="506.5" cy="302.2" r="1.38" fill="#0b9866"/><circle cx="499.6" cy="302.8" r="1.38" fill="#0b9866"/><circle cx="504.0" cy="297.6" r="1.38" fill="#0b9866"/><circle cx="496.5" cy="306.2" r="1.38" fill="#0b9866"/><circle cx="522.4" cy="292.7" r="1.38" fill="#0b9866"/><circle cx="515.3" cy="298.2" r="1.38" fill="#0b9866"/><circle cx="518.6" cy="302.1" r="1.38" fill="#0b9866"/><circle cx="515.1" cy="299.1" r="1.38" fill="#0b9866"/><circle cx="471.6" cy="306.7" r="1.38" fill="#0b9866"/><circle cx="508.4" cy="304.7" r="1.38" fill="#0b9866"/><circle cx="518.6" cy="294.3" r="1.38" fill="#0b9866"/><circle cx="521.3" cy="293.2" r="1.38" fill="#0b9866"/><circle cx="504.1" cy="308.4" r="1.38" fill="#0b9866"/><circle cx="481.6" cy="308.4" r="1.38" fill="#0b9866"/><circle cx="508.4" cy="307.7" r="1.38" fill="#0b9866"/><circle cx="442.5" cy="309.2" r="1.38" fill="#0b9866"/><circle cx="486.4" cy="308.7" r="1.38" fill="#0b9866"/><circle cx="503.6" cy="308.4" r="1.38" fill="#0b9866"/><circle cx="522.9" cy="299.1" r="1.38" fill="#0b9866"/><circle cx="450.3" cy="309.1" r="1.38" fill="#0b9866"/><circle cx="488.6" cy="300.8" r="1.38" fill="#0b9866"/><circle cx="510.1" cy="308.3" r="1.38" fill="#0b9866"/><circle cx="509.9" cy="306.8" r="1.38" fill="#0b9866"/><circle cx="509.9" cy="304.6" r="1.38" fill="#0b9866"/><circle cx="511.0" cy="306.6" r="1.38" fill="#0b9866"/><circle cx="501.4" cy="304.1" r="1.38" fill="#0b9866"/><circle cx="511.4" cy="308.2" r="1.38" fill="#0b9866"/><circle cx="511.4" cy="301.7" r="1.38" fill="#0b9866"/><circle cx="458.7" cy="309.0" r="1.38" fill="#0b9866"/><circle cx="520.8" cy="304.2" r="1.38" fill="#0b9866"/><circle cx="516.0" cy="299.1" r="1.38" fill="#0b9866"/><circle cx="473.1" cy="303.9" r="1.38" fill="#0b9866"/><circle cx="469.5" cy="305.3" r="1.38" fill="#0b9866"/><circle cx="488.2" cy="299.2" r="1.38" fill="#0b9866"/><circle cx="523.0" cy="300.5" r="1.38" fill="#0b9866"/><circle cx="507.3" cy="300.3" r="1.38" fill="#0b9866"/><circle cx="506.3" cy="301.4" r="1.38" fill="#0b9866"/><circle cx="474.7" cy="308.8" r="1.38" fill="#0b9866"/><circle cx="510.2" cy="296.4" r="1.38" fill="#0b9866"/><circle cx="522.8" cy="307.3" r="1.38" fill="#0b9866"/><circle cx="486.8" cy="299.4" r="1.38" fill="#0b9866"/><circle cx="523.0" cy="308.7" r="1.38" fill="#0b9866"/><circle cx="491.5" cy="301.6" r="1.38" fill="#0b9866"/><circle cx="510.2" cy="301.5" r="1.38" fill="#0b9866"/><circle cx="497.9" cy="299.6" r="1.38" fill="#0b9866"/><circle cx="523.4" cy="308.1" r="1.38" fill="#0b9866"/><circle cx="494.9" cy="298.0" r="1.38" fill="#0b9866"/><circle cx="491.1" cy="304.8" r="1.38" fill="#0b9866"/><circle cx="516.0" cy="304.3" r="1.38" fill="#0b9866"/><circle cx="523.1" cy="295.4" r="1.38" fill="#0b9866"/><circle cx="517.9" cy="300.2" r="1.38" fill="#0b9866"/><circle cx="510.0" cy="304.8" r="1.38" fill="#0b9866"/><circle cx="503.2" cy="303.6" r="1.38" fill="#0b9866"/><circle cx="518.6" cy="295.4" r="1.38" fill="#0b9866"/><circle cx="519.9" cy="306.8" r="1.38" fill="#0b9866"/><circle cx="518.1" cy="301.8" r="1.38" fill="#0b9866"/><circle cx="495.8" cy="305.4" r="1.38" fill="#0b9866"/><circle cx="518.5" cy="299.0" r="1.38" fill="#0b9866"/><circle cx="518.0" cy="301.2" r="1.38" fill="#0b9866"/><circle cx="518.1" cy="295.7" r="1.38" fill="#0b9866"/><circle cx="519.7" cy="305.5" r="1.38" fill="#0b9866"/><circle cx="516.9" cy="304.4" r="1.38" fill="#0b9866"/><circle cx="500.1" cy="301.1" r="1.38" fill="#0b9866"/><circle cx="495.3" cy="303.0" r="1.38" fill="#0b9866"/><circle cx="521.9" cy="296.0" r="1.38" fill="#0b9866"/><circle cx="518.4" cy="305.9" r="1.38" fill="#0b9866"/><circle cx="513.8" cy="295.6" r="1.38" fill="#0b9866"/><circle cx="515.1" cy="304.3" r="1.38" fill="#0b9866"/><circle cx="479.9" cy="301.4" r="1.38" fill="#0b9866"/><circle cx="514.6" cy="307.4" r="1.38" fill="#0b9866"/><circle cx="495.3" cy="300.2" r="1.38" fill="#0b9866"/><circle cx="516.0" cy="297.9" r="1.38" fill="#0b9866"/><circle cx="514.8" cy="305.3" r="1.38" fill="#0b9866"/><circle cx="507.2" cy="299.6" r="1.38" fill="#0b9866"/><circle cx="511.8" cy="298.2" r="1.38" fill="#0b9866"/><circle cx="523.1" cy="300.3" r="1.38" fill="#0b9866"/><circle cx="514.8" cy="308.4" r="1.38" fill="#0b9866"/><circle cx="479.1" cy="308.2" r="1.38" fill="#0b9866"/><circle cx="519.3" cy="295.1" r="1.38" fill="#0b9866"/><circle cx="465.2" cy="306.7" r="1.38" fill="#0b9866"/><circle cx="515.9" cy="295.9" r="1.38" fill="#0b9866"/><circle cx="520.6" cy="297.3" r="1.38" fill="#0b9866"/><circle cx="471.0" cy="308.4" r="1.38" fill="#0b9866"/><circle cx="520.8" cy="297.8" r="1.38" fill="#0b9866"/><circle cx="484.9" cy="302.3" r="1.38" fill="#0b9866"/><circle cx="469.7" cy="307.3" r="1.38" fill="#0b9866"/><circle cx="515.0" cy="307.6" r="1.38" fill="#0b9866"/><circle cx="517.7" cy="294.9" r="1.38" fill="#0b9866"/><circle cx="522.1" cy="306.1" r="1.38" fill="#0b9866"/><circle cx="515.7" cy="308.6" r="1.38" fill="#0b9866"/><circle cx="516.8" cy="306.6" r="1.38" fill="#0b9866"/><circle cx="521.0" cy="300.3" r="1.38" fill="#0b9866"/><circle cx="509.4" cy="301.7" r="1.38" fill="#0b9866"/><circle cx="497.5" cy="303.0" r="1.38" fill="#0b9866"/><circle cx="470.5" cy="308.9" r="1.38" fill="#0b9866"/><circle cx="518.9" cy="308.1" r="1.38" fill="#0b9866"/><circle cx="516.7" cy="298.0" r="1.38" fill="#0b9866"/><circle cx="477.0" cy="305.8" r="1.38" fill="#0b9866"/><circle cx="520.3" cy="303.8" r="1.38" fill="#0b9866"/><circle cx="508.3" cy="305.4" r="1.38" fill="#0b9866"/><circle cx="495.1" cy="298.0" r="1.38" fill="#0b9866"/><circle cx="512.3" cy="301.1" r="1.38" fill="#0b9866"/><circle cx="489.7" cy="304.2" r="1.38" fill="#0b9866"/><circle cx="519.6" cy="293.9" r="1.38" fill="#0b9866"/><circle cx="454.8" cy="309.3" r="1.38" fill="#0b9866"/><circle cx="497.5" cy="304.5" r="1.38" fill="#0b9866"/><circle cx="522.4" cy="306.4" r="1.38" fill="#0b9866"/><circle cx="520.0" cy="297.2" r="1.38" fill="#0b9866"/><circle cx="519.1" cy="309.0" r="1.38" fill="#0b9866"/><circle cx="518.9" cy="296.5" r="1.38" fill="#0b9866"/><circle cx="511.0" cy="300.5" r="1.38" fill="#0b9866"/><circle cx="512.1" cy="306.8" r="1.38" fill="#0b9866"/><circle cx="523.1" cy="303.8" r="1.38" fill="#0b9866"/><circle cx="522.6" cy="304.7" r="1.38" fill="#0b9866"/><circle cx="506.0" cy="304.5" r="1.38" fill="#0b9866"/><circle cx="511.9" cy="300.8" r="1.38" fill="#0b9866"/><circle cx="516.5" cy="304.0" r="1.38" fill="#0b9866"/><circle cx="484.6" cy="303.7" r="1.38" fill="#0b9866"/><circle cx="513.7" cy="301.8" r="1.38" fill="#0b9866"/><circle cx="512.3" cy="304.8" r="1.38" fill="#0b9866"/><circle cx="479.3" cy="307.5" r="1.38" fill="#0b9866"/><circle cx="474.0" cy="304.3" r="1.38" fill="#0b9866"/><circle cx="472.1" cy="300.8" r="1.38" fill="#0b9866"/><circle cx="506.3" cy="253.1" r="1.38" fill="#0b9866"/><circle cx="515.2" cy="291.8" r="1.38" fill="#0b9866"/><circle cx="492.6" cy="293.8" r="1.38" fill="#0b9866"/><circle cx="502.4" cy="293.6" r="1.38" fill="#0b9866"/><circle cx="452.7" cy="304.2" r="1.38" fill="#0b9866"/><circle cx="521.0" cy="279.2" r="1.38" fill="#0b9866"/><circle cx="513.2" cy="285.8" r="1.38" fill="#0b9866"/><circle cx="506.9" cy="269.2" r="1.38" fill="#0b9866"/><circle cx="506.1" cy="290.1" r="1.38" fill="#0b9866"/><circle cx="523.4" cy="282.8" r="1.38" fill="#0b9866"/><circle cx="515.9" cy="284.8" r="1.38" fill="#0b9866"/><circle cx="499.4" cy="289.5" r="1.38" fill="#0b9866"/><circle cx="521.1" cy="283.8" r="1.38" fill="#0b9866"/><circle cx="507.6" cy="284.4" r="1.38" fill="#0b9866"/><circle cx="439.1" cy="304.2" r="1.38" fill="#0b9866"/><circle cx="509.4" cy="293.6" r="1.38" fill="#0b9866"/><circle cx="484.8" cy="295.5" r="1.38" fill="#0b9866"/><circle cx="481.0" cy="283.5" r="1.38" fill="#0b9866"/><circle cx="516.3" cy="269.8" r="1.38" fill="#0b9866"/><circle cx="506.6" cy="289.3" r="1.38" fill="#0b9866"/><circle cx="504.0" cy="266.0" r="1.38" fill="#0b9866"/><circle cx="507.2" cy="288.1" r="1.38" fill="#0b9866"/><circle cx="515.2" cy="275.3" r="1.38" fill="#0b9866"/><circle cx="506.6" cy="290.6" r="1.38" fill="#0b9866"/><circle cx="518.1" cy="289.8" r="1.38" fill="#0b9866"/><circle cx="480.3" cy="283.4" r="1.38" fill="#0b9866"/><circle cx="431.0" cy="282.6" r="1.38" fill="#0b9866"/><circle cx="495.7" cy="280.2" r="1.38" fill="#0b9866"/><circle cx="493.6" cy="279.8" r="1.38" fill="#0b9866"/><circle cx="484.6" cy="296.2" r="1.38" fill="#0b9866"/><circle cx="482.9" cy="295.2" r="1.38" fill="#0b9866"/><circle cx="516.7" cy="267.8" r="1.38" fill="#0b9866"/><circle cx="522.8" cy="282.7" r="1.38" fill="#0b9866"/><circle cx="513.3" cy="278.3" r="1.38" fill="#0b9866"/><circle cx="500.8" cy="271.3" r="1.38" fill="#0b9866"/><circle cx="458.7" cy="296.9" r="1.38" fill="#0b9866"/><circle cx="521.8" cy="279.4" r="1.38" fill="#0b9866"/><circle cx="520.6" cy="250.7" r="1.38" fill="#0b9866"/><circle cx="474.2" cy="298.1" r="1.38" fill="#0b9866"/><circle cx="518.5" cy="280.2" r="1.38" fill="#0b9866"/><circle cx="489.3" cy="254.9" r="1.38" fill="#0b9866"/><circle cx="500.0" cy="294.3" r="1.38" fill="#0b9866"/><circle cx="492.3" cy="295.9" r="1.38" fill="#0b9866"/><circle cx="474.9" cy="287.0" r="1.38" fill="#0b9866"/><circle cx="486.5" cy="276.9" r="1.38" fill="#0b9866"/><circle cx="503.2" cy="266.5" r="1.38" fill="#0b9866"/><circle cx="498.9" cy="289.0" r="1.38" fill="#0b9866"/><circle cx="511.8" cy="289.8" r="1.38" fill="#0b9866"/><circle cx="522.8" cy="288.1" r="1.38" fill="#0b9866"/><circle cx="485.3" cy="295.4" r="1.38" fill="#0b9866"/><circle cx="498.0" cy="280.9" r="1.38" fill="#0b9866"/><circle cx="494.9" cy="289.0" r="1.38" fill="#0b9866"/><circle cx="514.3" cy="290.7" r="1.38" fill="#0b9866"/><circle cx="518.4" cy="281.7" r="1.38" fill="#0b9866"/><circle cx="495.6" cy="267.6" r="1.38" fill="#0b9866"/><circle cx="513.8" cy="267.8" r="1.38" fill="#0b9866"/><circle cx="465.2" cy="301.5" r="1.38" fill="#0b9866"/><circle cx="450.5" cy="297.8" r="1.38" fill="#0b9866"/><circle cx="444.6" cy="292.6" r="1.38" fill="#0b9866"/><circle cx="513.7" cy="290.7" r="1.38" fill="#0b9866"/><circle cx="505.7" cy="288.2" r="1.38" fill="#0b9866"/><circle cx="522.5" cy="270.2" r="1.38" fill="#0b9866"/><circle cx="505.0" cy="288.6" r="1.38" fill="#0b9866"/><circle cx="490.6" cy="293.8" r="1.38" fill="#0b9866"/><circle cx="518.1" cy="283.6" r="1.38" fill="#0b9866"/><circle cx="516.8" cy="288.9" r="1.38" fill="#0b9866"/><circle cx="521.7" cy="289.9" r="1.38" fill="#0b9866"/><circle cx="512.9" cy="286.6" r="1.38" fill="#0b9866"/><circle cx="452.0" cy="297.3" r="1.38" fill="#0b9866"/><circle cx="443.6" cy="308.5" r="1.38" fill="#0b9866"/><circle cx="435.6" cy="308.3" r="1.38" fill="#0b9866"/><circle cx="468.2" cy="309.1" r="1.38" fill="#0b9866"/><circle cx="444.5" cy="307.6" r="1.38" fill="#0b9866"/><circle cx="459.3" cy="308.1" r="1.38" fill="#0b9866"/><circle cx="453.9" cy="305.1" r="1.38" fill="#0b9866"/><circle cx="465.6" cy="308.9" r="1.38" fill="#0b9866"/><circle cx="449.4" cy="300.4" r="1.38" fill="#0b9866"/><circle cx="448.7" cy="309.0" r="1.38" fill="#0b9866"/><circle cx="459.5" cy="309.2" r="1.38" fill="#0b9866"/><circle cx="431.8" cy="308.1" r="1.38" fill="#0b9866"/><circle cx="437.3" cy="307.4" r="1.38" fill="#0b9866"/><circle cx="581.0" cy="305.0" r="1.38" fill="#b0142f"/><circle cx="582.3" cy="300.9" r="1.38" fill="#b0142f"/><circle cx="580.4" cy="303.0" r="1.38" fill="#b0142f"/><circle cx="575.1" cy="307.6" r="1.38" fill="#b0142f"/><circle cx="575.8" cy="294.1" r="1.38" fill="#b0142f"/><circle cx="588.1" cy="308.7" r="1.38" fill="#b0142f"/><circle cx="571.2" cy="304.5" r="1.38" fill="#b0142f"/><circle cx="580.1" cy="303.2" r="1.38" fill="#b0142f"/><circle cx="571.7" cy="301.7" r="1.38" fill="#b0142f"/><circle cx="577.4" cy="298.0" r="1.38" fill="#b0142f"/><circle cx="574.7" cy="298.6" r="1.38" fill="#b0142f"/><circle cx="579.7" cy="300.6" r="1.38" fill="#b0142f"/><circle cx="571.0" cy="296.5" r="1.38" fill="#b0142f"/><circle cx="571.7" cy="308.3" r="1.38" fill="#b0142f"/><circle cx="575.7" cy="309.0" r="1.38" fill="#b0142f"/><circle cx="571.2" cy="302.3" r="1.38" fill="#b0142f"/><circle cx="575.7" cy="307.6" r="1.38" fill="#b0142f"/><circle cx="595.2" cy="302.8" r="1.38" fill="#b0142f"/><circle cx="575.9" cy="300.0" r="1.38" fill="#b0142f"/><circle cx="573.6" cy="292.7" r="1.38" fill="#b0142f"/><circle cx="571.6" cy="303.9" r="1.38" fill="#b0142f"/><circle cx="572.6" cy="294.3" r="1.38" fill="#b0142f"/><circle cx="576.3" cy="302.9" r="1.38" fill="#b0142f"/><circle cx="574.7" cy="294.7" r="1.38" fill="#b0142f"/><circle cx="573.0" cy="295.7" r="1.38" fill="#b0142f"/><circle cx="580.5" cy="303.1" r="1.38" fill="#b0142f"/><circle cx="574.2" cy="302.0" r="1.38" fill="#b0142f"/><circle cx="575.4" cy="304.2" r="1.38" fill="#b0142f"/><circle cx="578.4" cy="303.2" r="1.38" fill="#b0142f"/><circle cx="573.5" cy="296.2" r="1.38" fill="#b0142f"/><circle cx="575.5" cy="301.7" r="1.38" fill="#b0142f"/><circle cx="587.5" cy="304.4" r="1.38" fill="#b0142f"/><circle cx="574.4" cy="294.4" r="1.38" fill="#b0142f"/><circle cx="600.6" cy="305.0" r="1.38" fill="#b0142f"/><circle cx="574.7" cy="298.3" r="1.38" fill="#b0142f"/><circle cx="581.4" cy="305.3" r="1.38" fill="#b0142f"/><circle cx="580.9" cy="296.4" r="1.38" fill="#b0142f"/><circle cx="579.1" cy="299.7" r="1.38" fill="#b0142f"/><circle cx="575.2" cy="298.7" r="1.38" fill="#b0142f"/><circle cx="572.6" cy="295.9" r="1.38" fill="#b0142f"/><circle cx="576.8" cy="294.1" r="1.38" fill="#b0142f"/><circle cx="573.9" cy="297.4" r="1.38" fill="#b0142f"/><circle cx="570.7" cy="301.7" r="1.38" fill="#b0142f"/><circle cx="582.2" cy="305.9" r="1.38" fill="#b0142f"/><circle cx="578.2" cy="306.0" r="1.38" fill="#b0142f"/><circle cx="574.7" cy="293.0" r="1.38" fill="#b0142f"/><circle cx="572.4" cy="293.4" r="1.38" fill="#b0142f"/><circle cx="571.1" cy="298.8" r="1.38" fill="#b0142f"/><circle cx="584.4" cy="299.2" r="1.38" fill="#b0142f"/><circle cx="574.6" cy="299.6" r="1.38" fill="#b0142f"/><circle cx="580.6" cy="298.8" r="1.38" fill="#b0142f"/><circle cx="581.6" cy="301.6" r="1.38" fill="#b0142f"/><circle cx="572.9" cy="297.2" r="1.38" fill="#b0142f"/><circle cx="577.2" cy="301.0" r="1.38" fill="#b0142f"/><circle cx="605.4" cy="308.8" r="1.38" fill="#b0142f"/><circle cx="582.7" cy="305.1" r="1.38" fill="#b0142f"/><circle cx="581.0" cy="296.4" r="1.38" fill="#b0142f"/><circle cx="573.2" cy="299.6" r="1.38" fill="#b0142f"/><circle cx="576.6" cy="301.6" r="1.38" fill="#b0142f"/><circle cx="572.1" cy="298.3" r="1.38" fill="#b0142f"/><circle cx="588.5" cy="302.5" r="1.38" fill="#b0142f"/><circle cx="573.3" cy="295.6" r="1.38" fill="#b0142f"/><circle cx="575.0" cy="306.9" r="1.38" fill="#b0142f"/><circle cx="578.0" cy="302.4" r="1.38" fill="#b0142f"/><circle cx="576.6" cy="293.9" r="1.38" fill="#b0142f"/><circle cx="577.3" cy="294.8" r="1.38" fill="#b0142f"/><circle cx="574.1" cy="296.6" r="1.38" fill="#b0142f"/><circle cx="571.2" cy="303.9" r="1.38" fill="#b0142f"/><circle cx="580.0" cy="299.6" r="1.38" fill="#b0142f"/><circle cx="584.7" cy="304.8" r="1.38" fill="#b0142f"/><circle cx="573.2" cy="303.2" r="1.38" fill="#b0142f"/><circle cx="576.8" cy="308.9" r="1.38" fill="#b0142f"/><circle cx="574.4" cy="298.4" r="1.38" fill="#b0142f"/><circle cx="571.9" cy="303.8" r="1.38" fill="#b0142f"/><circle cx="587.1" cy="299.2" r="1.38" fill="#b0142f"/><circle cx="572.9" cy="306.2" r="1.38" fill="#b0142f"/><circle cx="571.6" cy="307.8" r="1.38" fill="#b0142f"/><circle cx="583.2" cy="300.0" r="1.38" fill="#b0142f"/><circle cx="573.1" cy="300.9" r="1.38" fill="#b0142f"/><circle cx="580.1" cy="308.9" r="1.38" fill="#b0142f"/><circle cx="584.3" cy="298.9" r="1.38" fill="#b0142f"/><circle cx="572.5" cy="297.1" r="1.38" fill="#b0142f"/><circle cx="580.2" cy="304.6" r="1.38" fill="#b0142f"/><circle cx="587.5" cy="307.0" r="1.38" fill="#b0142f"/><circle cx="575.7" cy="304.3" r="1.38" fill="#b0142f"/><circle cx="575.3" cy="296.2" r="1.38" fill="#b0142f"/><circle cx="577.4" cy="300.0" r="1.38" fill="#b0142f"/><circle cx="605.3" cy="308.5" r="1.38" fill="#b0142f"/><circle cx="572.6" cy="298.5" r="1.38" fill="#b0142f"/><circle cx="571.9" cy="292.3" r="1.38" fill="#b0142f"/><circle cx="573.9" cy="301.9" r="1.38" fill="#b0142f"/><circle cx="575.1" cy="295.9" r="1.38" fill="#b0142f"/><circle cx="590.4" cy="302.8" r="1.38" fill="#b0142f"/><circle cx="572.1" cy="303.1" r="1.38" fill="#b0142f"/><circle cx="580.4" cy="306.3" r="1.38" fill="#b0142f"/><circle cx="587.7" cy="300.1" r="1.38" fill="#b0142f"/><circle cx="572.7" cy="303.0" r="1.38" fill="#b0142f"/><circle cx="572.7" cy="296.9" r="1.38" fill="#b0142f"/><circle cx="571.0" cy="296.7" r="1.38" fill="#b0142f"/><circle cx="571.1" cy="294.1" r="1.38" fill="#b0142f"/><circle cx="576.9" cy="300.3" r="1.38" fill="#b0142f"/><circle cx="571.4" cy="308.5" r="1.38" fill="#b0142f"/><circle cx="574.1" cy="292.9" r="1.38" fill="#b0142f"/><circle cx="577.9" cy="296.4" r="1.38" fill="#b0142f"/><circle cx="571.1" cy="307.5" r="1.38" fill="#b0142f"/><circle cx="570.8" cy="296.6" r="1.38" fill="#b0142f"/><circle cx="572.2" cy="304.5" r="1.38" fill="#b0142f"/><circle cx="579.4" cy="299.4" r="1.38" fill="#b0142f"/><circle cx="573.7" cy="301.4" r="1.38" fill="#b0142f"/><circle cx="573.3" cy="299.7" r="1.38" fill="#b0142f"/><circle cx="574.1" cy="303.3" r="1.38" fill="#b0142f"/><circle cx="572.9" cy="304.3" r="1.38" fill="#b0142f"/><circle cx="573.0" cy="309.0" r="1.38" fill="#b0142f"/><circle cx="573.6" cy="299.3" r="1.38" fill="#b0142f"/><circle cx="573.1" cy="307.4" r="1.38" fill="#b0142f"/><circle cx="585.6" cy="303.9" r="1.38" fill="#b0142f"/><circle cx="576.3" cy="304.4" r="1.38" fill="#b0142f"/><circle cx="588.0" cy="301.4" r="1.38" fill="#b0142f"/><circle cx="578.4" cy="299.6" r="1.38" fill="#b0142f"/><circle cx="580.0" cy="302.3" r="1.38" fill="#b0142f"/><circle cx="574.9" cy="302.9" r="1.38" fill="#b0142f"/><circle cx="576.2" cy="301.9" r="1.38" fill="#b0142f"/><circle cx="576.6" cy="301.0" r="1.38" fill="#b0142f"/><circle cx="583.0" cy="298.0" r="1.38" fill="#b0142f"/><circle cx="572.6" cy="308.9" r="1.38" fill="#b0142f"/><circle cx="573.5" cy="308.8" r="1.38" fill="#b0142f"/><circle cx="583.3" cy="301.5" r="1.38" fill="#b0142f"/><circle cx="573.3" cy="306.0" r="1.38" fill="#b0142f"/><circle cx="586.8" cy="300.1" r="1.38" fill="#b0142f"/><circle cx="579.8" cy="299.5" r="1.38" fill="#b0142f"/><circle cx="581.5" cy="303.2" r="1.38" fill="#b0142f"/><circle cx="574.7" cy="300.2" r="1.38" fill="#b0142f"/><circle cx="587.6" cy="298.7" r="1.38" fill="#b0142f"/><circle cx="590.5" cy="301.4" r="1.38" fill="#b0142f"/><circle cx="571.2" cy="304.9" r="1.38" fill="#b0142f"/><circle cx="598.9" cy="306.0" r="1.38" fill="#b0142f"/><circle cx="576.4" cy="304.5" r="1.38" fill="#b0142f"/><circle cx="586.4" cy="303.6" r="1.38" fill="#b0142f"/><circle cx="607.7" cy="309.1" r="1.38" fill="#b0142f"/><circle cx="610.6" cy="309.3" r="1.38" fill="#b0142f"/><circle cx="571.9" cy="302.4" r="1.38" fill="#b0142f"/><circle cx="578.8" cy="307.7" r="1.38" fill="#b0142f"/><circle cx="577.2" cy="294.9" r="1.38" fill="#b0142f"/><circle cx="575.2" cy="297.0" r="1.38" fill="#b0142f"/><circle cx="577.8" cy="300.5" r="1.38" fill="#b0142f"/><circle cx="572.1" cy="301.1" r="1.38" fill="#b0142f"/><circle cx="589.0" cy="302.5" r="1.38" fill="#b0142f"/><circle cx="572.6" cy="301.5" r="1.38" fill="#b0142f"/><circle cx="576.9" cy="304.1" r="1.38" fill="#b0142f"/><circle cx="577.5" cy="299.7" r="1.38" fill="#b0142f"/><circle cx="570.7" cy="305.3" r="1.38" fill="#b0142f"/><circle cx="579.2" cy="306.2" r="1.38" fill="#b0142f"/><circle cx="571.2" cy="295.6" r="1.38" fill="#b0142f"/><circle cx="573.9" cy="293.2" r="1.38" fill="#b0142f"/><circle cx="577.1" cy="307.7" r="1.38" fill="#b0142f"/><circle cx="578.7" cy="305.5" r="1.38" fill="#b0142f"/><circle cx="584.1" cy="300.5" r="1.38" fill="#b0142f"/><circle cx="582.0" cy="308.5" r="1.38" fill="#b0142f"/><circle cx="570.9" cy="294.8" r="1.38" fill="#b0142f"/><circle cx="571.8" cy="305.7" r="1.38" fill="#b0142f"/><circle cx="570.8" cy="306.3" r="1.38" fill="#b0142f"/><circle cx="575.7" cy="294.0" r="1.38" fill="#b0142f"/><circle cx="573.7" cy="304.9" r="1.38" fill="#b0142f"/><circle cx="584.7" cy="307.1" r="1.38" fill="#b0142f"/><circle cx="578.7" cy="300.3" r="1.38" fill="#b0142f"/><circle cx="592.5" cy="308.9" r="1.38" fill="#b0142f"/><circle cx="577.2" cy="303.5" r="1.38" fill="#b0142f"/><circle cx="584.5" cy="306.3" r="1.38" fill="#b0142f"/><circle cx="580.6" cy="306.8" r="1.38" fill="#b0142f"/><circle cx="576.1" cy="294.0" r="1.38" fill="#b0142f"/><circle cx="572.8" cy="304.5" r="1.38" fill="#b0142f"/><circle cx="590.6" cy="302.9" r="1.38" fill="#b0142f"/><circle cx="571.1" cy="305.9" r="1.38" fill="#b0142f"/><circle cx="572.8" cy="304.3" r="1.38" fill="#b0142f"/><circle cx="585.5" cy="301.2" r="1.38" fill="#b0142f"/><circle cx="601.8" cy="306.0" r="1.38" fill="#b0142f"/><circle cx="578.5" cy="303.7" r="1.38" fill="#b0142f"/><circle cx="580.7" cy="302.5" r="1.38" fill="#b0142f"/><circle cx="571.1" cy="300.4" r="1.38" fill="#b0142f"/><circle cx="574.5" cy="300.5" r="1.38" fill="#b0142f"/><circle cx="571.0" cy="308.8" r="1.38" fill="#b0142f"/><circle cx="603.1" cy="307.6" r="1.38" fill="#b0142f"/><circle cx="573.8" cy="306.8" r="1.38" fill="#b0142f"/><circle cx="577.8" cy="295.6" r="1.38" fill="#b0142f"/><circle cx="572.2" cy="300.5" r="1.38" fill="#b0142f"/><circle cx="576.1" cy="297.2" r="1.38" fill="#b0142f"/><circle cx="577.3" cy="305.7" r="1.38" fill="#b0142f"/><circle cx="572.3" cy="296.6" r="1.38" fill="#b0142f"/><circle cx="571.3" cy="293.8" r="1.38" fill="#b0142f"/><circle cx="570.9" cy="305.9" r="1.38" fill="#b0142f"/><circle cx="575.6" cy="295.8" r="1.38" fill="#b0142f"/><circle cx="578.3" cy="298.3" r="1.38" fill="#b0142f"/><circle cx="582.1" cy="299.8" r="1.38" fill="#b0142f"/><circle cx="571.0" cy="294.4" r="1.38" fill="#b0142f"/><circle cx="571.9" cy="306.4" r="1.38" fill="#b0142f"/><circle cx="570.9" cy="308.8" r="1.38" fill="#b0142f"/><circle cx="587.4" cy="305.2" r="1.38" fill="#b0142f"/><circle cx="571.3" cy="308.5" r="1.38" fill="#b0142f"/><circle cx="585.6" cy="302.4" r="1.38" fill="#b0142f"/><circle cx="590.4" cy="308.9" r="1.38" fill="#b0142f"/><circle cx="571.6" cy="304.2" r="1.38" fill="#b0142f"/><circle cx="572.3" cy="307.3" r="1.38" fill="#b0142f"/><circle cx="572.4" cy="298.1" r="1.38" fill="#b0142f"/><circle cx="572.1" cy="306.3" r="1.38" fill="#b0142f"/><circle cx="576.7" cy="303.5" r="1.38" fill="#b0142f"/><circle cx="571.9" cy="299.3" r="1.38" fill="#b0142f"/><circle cx="576.3" cy="303.2" r="1.38" fill="#b0142f"/><circle cx="575.7" cy="308.7" r="1.38" fill="#b0142f"/><circle cx="578.2" cy="306.4" r="1.38" fill="#b0142f"/><circle cx="573.9" cy="309.1" r="1.38" fill="#b0142f"/><circle cx="588.1" cy="303.2" r="1.38" fill="#b0142f"/><circle cx="574.6" cy="300.4" r="1.38" fill="#b0142f"/><circle cx="593.1" cy="308.2" r="1.38" fill="#b0142f"/><circle cx="574.5" cy="297.6" r="1.38" fill="#b0142f"/><circle cx="574.3" cy="297.6" r="1.38" fill="#b0142f"/><circle cx="589.7" cy="308.9" r="1.38" fill="#b0142f"/><circle cx="573.3" cy="304.3" r="1.38" fill="#b0142f"/><circle cx="581.7" cy="298.9" r="1.38" fill="#b0142f"/><circle cx="580.2" cy="296.4" r="1.38" fill="#b0142f"/><circle cx="572.2" cy="302.4" r="1.38" fill="#b0142f"/><circle cx="585.9" cy="300.6" r="1.38" fill="#b0142f"/><circle cx="571.6" cy="291.8" r="1.38" fill="#b0142f"/><circle cx="581.4" cy="297.7" r="1.38" fill="#b0142f"/><circle cx="574.2" cy="299.2" r="1.38" fill="#b0142f"/><circle cx="596.1" cy="302.8" r="1.38" fill="#b0142f"/><circle cx="577.5" cy="295.8" r="1.38" fill="#b0142f"/><circle cx="625.7" cy="309.0" r="1.38" fill="#b0142f"/><circle cx="579.1" cy="295.5" r="1.38" fill="#b0142f"/><circle cx="571.8" cy="302.2" r="1.38" fill="#b0142f"/><circle cx="577.2" cy="307.3" r="1.38" fill="#b0142f"/><circle cx="582.7" cy="308.5" r="1.38" fill="#b0142f"/><circle cx="578.5" cy="305.2" r="1.38" fill="#b0142f"/><circle cx="573.7" cy="299.1" r="1.38" fill="#b0142f"/><circle cx="572.3" cy="301.5" r="1.38" fill="#b0142f"/><circle cx="586.2" cy="298.2" r="1.38" fill="#b0142f"/><circle cx="573.0" cy="303.0" r="1.38" fill="#b0142f"/><circle cx="580.1" cy="306.6" r="1.38" fill="#b0142f"/><circle cx="585.7" cy="307.0" r="1.38" fill="#b0142f"/><circle cx="577.1" cy="304.1" r="1.38" fill="#b0142f"/><circle cx="570.6" cy="309.3" r="1.38" fill="#b0142f"/><circle cx="570.6" cy="303.3" r="1.38" fill="#b0142f"/><circle cx="573.2" cy="292.4" r="1.38" fill="#b0142f"/><circle cx="578.7" cy="308.3" r="1.38" fill="#b0142f"/><circle cx="580.7" cy="306.1" r="1.38" fill="#b0142f"/><circle cx="575.9" cy="297.8" r="1.38" fill="#b0142f"/><circle cx="586.1" cy="298.8" r="1.38" fill="#b0142f"/><circle cx="575.0" cy="304.1" r="1.38" fill="#b0142f"/><circle cx="574.7" cy="304.2" r="1.38" fill="#b0142f"/><circle cx="581.4" cy="303.1" r="1.38" fill="#b0142f"/><circle cx="579.9" cy="307.2" r="1.38" fill="#b0142f"/><circle cx="582.8" cy="297.0" r="1.38" fill="#b0142f"/><circle cx="572.4" cy="298.5" r="1.38" fill="#b0142f"/><circle cx="572.0" cy="308.7" r="1.38" fill="#b0142f"/><circle cx="574.9" cy="306.3" r="1.38" fill="#b0142f"/><circle cx="581.1" cy="301.6" r="1.38" fill="#b0142f"/><circle cx="579.6" cy="295.5" r="1.38" fill="#b0142f"/><circle cx="571.1" cy="307.5" r="1.38" fill="#b0142f"/><circle cx="570.9" cy="301.0" r="1.38" fill="#b0142f"/><circle cx="584.5" cy="301.1" r="1.38" fill="#b0142f"/><circle cx="576.9" cy="296.1" r="1.38" fill="#b0142f"/><circle cx="577.1" cy="291.2" r="1.38" fill="#b0142f"/><circle cx="585.0" cy="295.7" r="1.38" fill="#b0142f"/><circle cx="574.2" cy="290.9" r="1.38" fill="#b0142f"/><circle cx="573.1" cy="289.9" r="1.38" fill="#b0142f"/><circle cx="581.2" cy="292.8" r="1.38" fill="#b0142f"/><circle cx="583.5" cy="276.3" r="1.38" fill="#b0142f"/><circle cx="576.5" cy="290.8" r="1.38" fill="#b0142f"/><circle cx="586.2" cy="282.2" r="1.38" fill="#b0142f"/><circle cx="600.8" cy="293.5" r="1.38" fill="#b0142f"/><circle cx="582.8" cy="273.2" r="1.38" fill="#b0142f"/><circle cx="586.4" cy="256.1" r="1.38" fill="#b0142f"/><circle cx="575.3" cy="275.3" r="1.38" fill="#b0142f"/><circle cx="584.6" cy="288.9" r="1.38" fill="#b0142f"/><circle cx="570.8" cy="282.5" r="1.38" fill="#b0142f"/><circle cx="574.9" cy="281.3" r="1.38" fill="#b0142f"/><circle cx="580.6" cy="286.2" r="1.38" fill="#b0142f"/><circle cx="571.4" cy="288.4" r="1.38" fill="#b0142f"/><circle cx="583.7" cy="282.8" r="1.38" fill="#b0142f"/><circle cx="635.8" cy="290.2" r="1.38" fill="#b0142f"/><circle cx="575.4" cy="285.0" r="1.38" fill="#b0142f"/><circle cx="580.5" cy="276.1" r="1.38" fill="#b0142f"/><circle cx="577.6" cy="264.8" r="1.38" fill="#b0142f"/><circle cx="579.9" cy="288.1" r="1.38" fill="#b0142f"/><circle cx="579.7" cy="288.8" r="1.38" fill="#b0142f"/><circle cx="571.3" cy="284.2" r="1.38" fill="#b0142f"/><circle cx="571.8" cy="277.6" r="1.38" fill="#b0142f"/><circle cx="572.9" cy="288.8" r="1.38" fill="#b0142f"/><circle cx="578.3" cy="282.9" r="1.38" fill="#b0142f"/><circle cx="590.8" cy="291.9" r="1.38" fill="#b0142f"/><circle cx="575.5" cy="286.7" r="1.38" fill="#b0142f"/><circle cx="601.3" cy="300.0" r="1.38" fill="#b0142f"/><circle cx="570.8" cy="265.7" r="1.38" fill="#b0142f"/><circle cx="579.8" cy="292.1" r="1.38" fill="#b0142f"/><circle cx="572.6" cy="266.1" r="1.38" fill="#b0142f"/><circle cx="590.0" cy="297.4" r="1.38" fill="#b0142f"/><circle cx="586.3" cy="294.0" r="1.38" fill="#b0142f"/><circle cx="578.9" cy="283.0" r="1.38" fill="#b0142f"/><circle cx="571.3" cy="259.7" r="1.38" fill="#b0142f"/><circle cx="576.3" cy="290.4" r="1.38" fill="#b0142f"/><circle cx="591.8" cy="297.6" r="1.38" fill="#b0142f"/><circle cx="571.1" cy="278.2" r="1.38" fill="#b0142f"/><circle cx="579.5" cy="268.2" r="1.38" fill="#b0142f"/><circle cx="592.5" cy="296.6" r="1.38" fill="#b0142f"/><circle cx="571.2" cy="279.7" r="1.38" fill="#b0142f"/><circle cx="579.5" cy="289.6" r="1.38" fill="#b0142f"/><circle cx="605.4" cy="301.7" r="1.38" fill="#b0142f"/><circle cx="585.0" cy="295.2" r="1.38" fill="#b0142f"/><circle cx="606.6" cy="272.1" r="1.38" fill="#b0142f"/><circle cx="584.1" cy="291.4" r="1.38" fill="#b0142f"/><circle cx="588.6" cy="271.8" r="1.38" fill="#b0142f"/><circle cx="592.8" cy="298.8" r="1.38" fill="#b0142f"/><circle cx="580.4" cy="292.3" r="1.38" fill="#b0142f"/><circle cx="581.7" cy="261.6" r="1.38" fill="#b0142f"/><circle cx="598.6" cy="298.4" r="1.38" fill="#b0142f"/><circle cx="456.3" cy="15.2" r="1.38" fill="#0b9866"/><circle cx="493.0" cy="29.1" r="1.38" fill="#0b9866"/><circle cx="505.6" cy="61.5" r="1.38" fill="#0b9866"/><circle cx="496.7" cy="70.8" r="1.38" fill="#0b9866"/><circle cx="502.0" cy="117.2" r="1.38" fill="#0b9866"/><circle cx="487.4" cy="124.0" r="1.38" fill="#0b9866"/><circle cx="508.3" cy="126.9" r="1.38" fill="#0b9866"/><circle cx="492.3" cy="131.0" r="1.38" fill="#0b9866"/><circle cx="478.3" cy="140.5" r="1.38" fill="#0b9866"/><circle cx="472.3" cy="168.8" r="1.38" fill="#0b9866"/><circle cx="472.3" cy="169.1" r="1.38" fill="#0b9866"/><circle cx="496.1" cy="174.3" r="1.38" fill="#0b9866"/><circle cx="511.6" cy="171.4" r="1.38" fill="#0b9866"/><circle cx="515.3" cy="177.2" r="1.38" fill="#0b9866"/><circle cx="464.2" cy="190.6" r="1.38" fill="#0b9866"/><circle cx="459.2" cy="204.7" r="1.38" fill="#0b9866"/><circle cx="482.6" cy="200.3" r="1.38" fill="#0b9866"/><circle cx="515.7" cy="199.1" r="1.38" fill="#0b9866"/><circle cx="513.6" cy="202.8" r="1.38" fill="#0b9866"/><circle cx="514.7" cy="206.9" r="1.38" fill="#0b9866"/><circle cx="504.3" cy="208.0" r="1.38" fill="#0b9866"/><circle cx="506.4" cy="206.5" r="1.38" fill="#0b9866"/><circle cx="475.0" cy="215.0" r="1.38" fill="#0b9866"/><circle cx="464.2" cy="221.2" r="1.38" fill="#0b9866"/><circle cx="463.2" cy="227.8" r="1.38" fill="#0b9866"/><circle cx="513.0" cy="217.9" r="1.38" fill="#0b9866"/><circle cx="513.6" cy="225.8" r="1.38" fill="#0b9866"/><circle cx="516.7" cy="225.3" r="1.38" fill="#0b9866"/><circle cx="518.8" cy="225.3" r="1.38" fill="#0b9866"/><circle cx="495.8" cy="228.2" r="1.38" fill="#0b9866"/><circle cx="498.1" cy="235.5" r="1.38" fill="#0b9866"/><circle cx="497.7" cy="236.5" r="1.38" fill="#0b9866"/><circle cx="510.5" cy="238.6" r="1.38" fill="#0b9866"/><circle cx="516.3" cy="236.5" r="1.38" fill="#0b9866"/><circle cx="520.5" cy="236.5" r="1.38" fill="#0b9866"/><circle cx="521.9" cy="238.6" r="1.38" fill="#0b9866"/><circle cx="522.9" cy="241.7" r="1.38" fill="#0b9866"/><circle cx="456.1" cy="247.1" r="1.38" fill="#0b9866"/><circle cx="494.0" cy="243.5" r="1.38" fill="#0b9866"/><circle cx="500.2" cy="241.7" r="1.38" fill="#0b9866"/><circle cx="504.3" cy="241.7" r="1.38" fill="#0b9866"/><circle cx="503.5" cy="244.8" r="1.38" fill="#0b9866"/><circle cx="510.5" cy="242.7" r="1.38" fill="#0b9866"/><circle cx="512.6" cy="247.9" r="1.38" fill="#0b9866"/><circle cx="518.8" cy="244.8" r="1.38" fill="#0b9866"/><circle cx="522.3" cy="250.0" r="1.38" fill="#0b9866"/><circle cx="521.9" cy="253.1" r="1.38" fill="#0b9866"/><circle cx="474.3" cy="253.1" r="1.38" fill="#0b9866"/><circle cx="476.4" cy="254.7" r="1.38" fill="#0b9866"/><circle cx="480.5" cy="254.7" r="1.38" fill="#0b9866"/><circle cx="485.7" cy="256.8" r="1.38" fill="#0b9866"/><circle cx="487.4" cy="256.8" r="1.38" fill="#0b9866"/><circle cx="495.4" cy="255.7" r="1.38" fill="#0b9866"/><circle cx="495.4" cy="258.8" r="1.38" fill="#0b9866"/><circle cx="499.8" cy="254.7" r="1.38" fill="#0b9866"/><circle cx="499.8" cy="257.2" r="1.38" fill="#0b9866"/><circle cx="503.3" cy="255.5" r="1.38" fill="#0b9866"/><circle cx="504.9" cy="251.0" r="1.38" fill="#0b9866"/><circle cx="509.3" cy="247.9" r="1.38" fill="#0b9866"/><circle cx="515.7" cy="255.1" r="1.38" fill="#0b9866"/><circle cx="518.4" cy="260.3" r="1.38" fill="#0b9866"/><circle cx="519.8" cy="255.1" r="1.38" fill="#0b9866"/><circle cx="460.5" cy="266.5" r="1.38" fill="#0b9866"/><circle cx="466.7" cy="272.7" r="1.38" fill="#0b9866"/><circle cx="471.7" cy="272.3" r="1.38" fill="#0b9866"/><circle cx="477.4" cy="271.7" r="1.38" fill="#0b9866"/><circle cx="481.0" cy="273.3" r="1.38" fill="#0b9866"/><circle cx="483.2" cy="270.4" r="1.38" fill="#0b9866"/><circle cx="484.7" cy="272.5" r="1.38" fill="#0b9866"/><circle cx="488.8" cy="274.8" r="1.38" fill="#0b9866"/><circle cx="487.4" cy="266.9" r="1.38" fill="#0b9866"/><circle cx="500.2" cy="263.4" r="1.38" fill="#0b9866"/><circle cx="501.2" cy="266.5" r="1.38" fill="#0b9866"/><circle cx="504.3" cy="266.5" r="1.38" fill="#0b9866"/><circle cx="506.0" cy="269.2" r="1.38" fill="#0b9866"/><circle cx="511.4" cy="268.1" r="1.38" fill="#0b9866"/><circle cx="513.6" cy="268.1" r="1.38" fill="#0b9866"/><circle cx="515.7" cy="267.5" r="1.38" fill="#0b9866"/><circle cx="509.1" cy="274.8" r="1.38" fill="#0b9866"/><circle cx="509.7" cy="275.8" r="1.38" fill="#0b9866"/><circle cx="504.9" cy="278.3" r="1.38" fill="#0b9866"/><circle cx="512.6" cy="279.9" r="1.38" fill="#0b9866"/><circle cx="516.7" cy="279.9" r="1.38" fill="#0b9866"/><circle cx="518.4" cy="280.3" r="1.38" fill="#0b9866"/><circle cx="520.5" cy="278.9" r="1.38" fill="#0b9866"/><circle cx="465.0" cy="281.0" r="1.38" fill="#0b9866"/><circle cx="467.1" cy="283.0" r="1.38" fill="#0b9866"/><circle cx="471.2" cy="279.9" r="1.38" fill="#0b9866"/><circle cx="482.2" cy="278.9" r="1.38" fill="#0b9866"/><circle cx="484.7" cy="279.9" r="1.38" fill="#0b9866"/><circle cx="480.5" cy="285.1" r="1.38" fill="#0b9866"/><circle cx="481.6" cy="286.1" r="1.38" fill="#0b9866"/><circle cx="485.7" cy="284.1" r="1.38" fill="#0b9866"/><circle cx="494.6" cy="281.6" r="1.38" fill="#0b9866"/><circle cx="497.1" cy="281.6" r="1.38" fill="#0b9866"/><circle cx="491.9" cy="286.1" r="1.38" fill="#0b9866"/><circle cx="420.4" cy="287.2" r="1.38" fill="#0b9866"/><circle cx="426.2" cy="293.6" r="1.38" fill="#0b9866"/><circle cx="422.2" cy="295.4" r="1.38" fill="#0b9866"/><circle cx="454.3" cy="286.1" r="1.38" fill="#0b9866"/><circle cx="457.2" cy="288.6" r="1.38" fill="#0b9866"/><circle cx="450.1" cy="293.0" r="1.38" fill="#0b9866"/><circle cx="457.6" cy="295.9" r="1.38" fill="#0b9866"/><circle cx="469.2" cy="289.9" r="1.38" fill="#0b9866"/><circle cx="477.4" cy="290.3" r="1.38" fill="#0b9866"/><circle cx="474.3" cy="293.4" r="1.38" fill="#0b9866"/><circle cx="485.7" cy="288.2" r="1.38" fill="#0b9866"/><circle cx="487.8" cy="289.2" r="1.38" fill="#0b9866"/><circle cx="491.5" cy="292.3" r="1.38" fill="#0b9866"/><circle cx="494.0" cy="293.4" r="1.38" fill="#0b9866"/><circle cx="498.1" cy="290.3" r="1.38" fill="#0b9866"/><circle cx="503.3" cy="288.6" r="1.38" fill="#0b9866"/><circle cx="506.4" cy="289.2" r="1.38" fill="#0b9866"/><circle cx="510.5" cy="290.3" r="1.38" fill="#0b9866"/><circle cx="512.6" cy="284.1" r="1.38" fill="#0b9866"/><circle cx="433.6" cy="300.6" r="1.38" fill="#0b9866"/><circle cx="446.4" cy="304.1" r="1.38" fill="#0b9866"/><circle cx="452.6" cy="302.7" r="1.38" fill="#0b9866"/><circle cx="459.9" cy="302.7" r="1.38" fill="#0b9866"/><circle cx="463.0" cy="304.7" r="1.38" fill="#0b9866"/><circle cx="467.1" cy="298.5" r="1.38" fill="#0b9866"/><circle cx="470.2" cy="298.1" r="1.38" fill="#0b9866"/><circle cx="473.3" cy="296.5" r="1.38" fill="#0b9866"/><circle cx="479.5" cy="295.4" r="1.38" fill="#0b9866"/><circle cx="416.4" cy="306.2" r="1.38" fill="#0b9866"/><circle cx="421.6" cy="307.6" r="1.38" fill="#0b9866"/><circle cx="423.7" cy="307.6" r="1.38" fill="#0b9866"/><circle cx="434.0" cy="308.5" r="1.38" fill="#0b9866"/><circle cx="437.1" cy="308.3" r="1.38" fill="#0b9866"/><circle cx="440.2" cy="308.5" r="1.38" fill="#0b9866"/><circle cx="444.4" cy="308.5" r="1.38" fill="#0b9866"/><circle cx="606.5" cy="15.3" r="1.38" fill="#b0142f"/><circle cx="609.6" cy="15.3" r="1.38" fill="#b0142f"/><circle cx="613.7" cy="15.3" r="1.38" fill="#b0142f"/><circle cx="594.1" cy="37.1" r="1.38" fill="#b0142f"/><circle cx="597.2" cy="40.2" r="1.38" fill="#b0142f"/><circle cx="591.0" cy="49.3" r="1.38" fill="#b0142f"/><circle cx="608.6" cy="70.2" r="1.38" fill="#b0142f"/><circle cx="595.5" cy="88.0" r="1.38" fill="#b0142f"/><circle cx="586.2" cy="104.5" r="1.38" fill="#b0142f"/><circle cx="586.4" cy="113.1" r="1.38" fill="#b0142f"/><circle cx="590.6" cy="118.7" r="1.38" fill="#b0142f"/><circle cx="593.0" cy="127.6" r="1.38" fill="#b0142f"/><circle cx="591.4" cy="134.2" r="1.38" fill="#b0142f"/><circle cx="584.2" cy="145.2" r="1.38" fill="#b0142f"/><circle cx="588.5" cy="153.4" r="1.38" fill="#b0142f"/><circle cx="590.4" cy="154.5" r="1.38" fill="#b0142f"/><circle cx="579.8" cy="164.8" r="1.38" fill="#b0142f"/><circle cx="580.7" cy="169.5" r="1.38" fill="#b0142f"/><circle cx="586.4" cy="169.5" r="1.38" fill="#b0142f"/><circle cx="581.1" cy="169.9" r="1.38" fill="#b0142f"/><circle cx="586.4" cy="171.0" r="1.38" fill="#b0142f"/><circle cx="582.7" cy="177.6" r="1.38" fill="#b0142f"/><circle cx="593.7" cy="175.5" r="1.38" fill="#b0142f"/><circle cx="594.7" cy="181.1" r="1.38" fill="#b0142f"/><circle cx="580.2" cy="192.6" r="1.38" fill="#b0142f"/><circle cx="574.9" cy="196.8" r="1.38" fill="#b0142f"/><circle cx="575.5" cy="199.3" r="1.38" fill="#b0142f"/><circle cx="576.1" cy="202.4" r="1.38" fill="#b0142f"/><circle cx="579.6" cy="207.1" r="1.38" fill="#b0142f"/><circle cx="578.6" cy="208.6" r="1.38" fill="#b0142f"/><circle cx="585.2" cy="212.5" r="1.38" fill="#b0142f"/><circle cx="592.4" cy="212.5" r="1.38" fill="#b0142f"/><circle cx="575.3" cy="220.5" r="1.38" fill="#b0142f"/><circle cx="580.2" cy="223.6" r="1.38" fill="#b0142f"/><circle cx="584.4" cy="223.6" r="1.38" fill="#b0142f"/><circle cx="586.9" cy="225.1" r="1.38" fill="#b0142f"/><circle cx="588.1" cy="226.5" r="1.38" fill="#b0142f"/><circle cx="571.4" cy="229.6" r="1.38" fill="#b0142f"/><circle cx="573.8" cy="228.2" r="1.38" fill="#b0142f"/><circle cx="573.4" cy="235.4" r="1.38" fill="#b0142f"/><circle cx="579.6" cy="234.4" r="1.38" fill="#b0142f"/><circle cx="571.6" cy="239.5" r="1.38" fill="#b0142f"/><circle cx="574.5" cy="241.2" r="1.38" fill="#b0142f"/><circle cx="576.1" cy="246.8" r="1.38" fill="#b0142f"/><circle cx="585.4" cy="248.4" r="1.38" fill="#b0142f"/><circle cx="599.3" cy="246.8" r="1.38" fill="#b0142f"/><circle cx="605.9" cy="245.1" r="1.38" fill="#b0142f"/><circle cx="569.9" cy="249.9" r="1.38" fill="#b0142f"/><circle cx="570.7" cy="254.6" r="1.38" fill="#b0142f"/><circle cx="574.0" cy="254.0" r="1.38" fill="#b0142f"/><circle cx="591.6" cy="257.1" r="1.38" fill="#b0142f"/><circle cx="585.4" cy="258.8" r="1.38" fill="#b0142f"/><circle cx="579.6" cy="258.8" r="1.38" fill="#b0142f"/><circle cx="603.0" cy="261.2" r="1.38" fill="#b0142f"/><circle cx="576.5" cy="262.3" r="1.38" fill="#b0142f"/><circle cx="580.7" cy="265.4" r="1.38" fill="#b0142f"/><circle cx="582.7" cy="266.0" r="1.38" fill="#b0142f"/><circle cx="584.8" cy="265.0" r="1.38" fill="#b0142f"/><circle cx="586.9" cy="269.5" r="1.38" fill="#b0142f"/><circle cx="572.0" cy="266.4" r="1.38" fill="#b0142f"/><circle cx="572.4" cy="271.6" r="1.38" fill="#b0142f"/><circle cx="584.8" cy="273.6" r="1.38" fill="#b0142f"/><circle cx="582.7" cy="274.7" r="1.38" fill="#b0142f"/><circle cx="579.6" cy="275.7" r="1.38" fill="#b0142f"/><circle cx="575.5" cy="277.4" r="1.38" fill="#b0142f"/><circle cx="577.6" cy="277.8" r="1.38" fill="#b0142f"/><circle cx="580.7" cy="279.8" r="1.38" fill="#b0142f"/><circle cx="572.4" cy="279.4" r="1.38" fill="#b0142f"/><circle cx="583.8" cy="281.9" r="1.38" fill="#b0142f"/><circle cx="597.2" cy="285.0" r="1.38" fill="#b0142f"/><circle cx="608.1" cy="286.4" r="1.38" fill="#b0142f"/><circle cx="591.0" cy="286.4" r="1.38" fill="#b0142f"/><circle cx="590.0" cy="289.1" r="1.38" fill="#b0142f"/><circle cx="602.4" cy="290.8" r="1.38" fill="#b0142f"/><circle cx="590.6" cy="292.6" r="1.38" fill="#b0142f"/><circle cx="607.5" cy="295.3" r="1.38" fill="#b0142f"/><circle cx="607.1" cy="298.8" r="1.38" fill="#b0142f"/><circle cx="628.2" cy="300.5" r="1.38" fill="#b0142f"/><circle cx="625.1" cy="304.6" r="1.38" fill="#b0142f"/><circle cx="628.2" cy="306.7" r="1.38" fill="#b0142f"/><circle cx="670.5" cy="307.3" r="1.38" fill="#b0142f"/><circle cx="657.1" cy="308.3" r="1.38" fill="#b0142f"/><circle cx="654.0" cy="308.8" r="1.38" fill="#b0142f"/><circle cx="650.9" cy="308.8" r="1.38" fill="#b0142f"/><circle cx="615.8" cy="306.3" r="1.38" fill="#b0142f"/><circle cx="617.9" cy="307.1" r="1.38" fill="#b0142f"/><circle cx="622.0" cy="307.7" r="1.38" fill="#b0142f"/><circle cx="597.2" cy="302.6" r="1.38" fill="#b0142f"/><circle cx="600.3" cy="303.6" r="1.38" fill="#b0142f"/><circle cx="603.4" cy="304.6" r="1.38" fill="#b0142f"/><circle cx="609.6" cy="304.6" r="1.38" fill="#b0142f"/></g>
<path d="M403.6 309.3H683.4" stroke="#222" stroke-width="0.9" stroke-dasharray="3.5 1.2 1.8 1.7"/>
<rect x="403.6" y="15.0" width="279.80" height="309.60" fill="none" stroke="#111" stroke-width="1.2"/>
<path d="M400.80 310.80H403.6" stroke="#111" stroke-width="1.1"/>
<text x="399.20" y="315.70" font-size="13.6" text-anchor="end" fill="#111" >0</text>
<path d="M400.80 204.05H403.6" stroke="#111" stroke-width="1.1"/>
<text x="399.20" y="208.95" font-size="13.6" text-anchor="end" fill="#111" >100</text>
<path d="M400.80 97.30H403.6" stroke="#111" stroke-width="1.1"/>
<text x="399.20" y="102.20" font-size="13.6" text-anchor="end" fill="#111" >200</text>
<path d="M410.40 324.6V327.50" stroke="#111" stroke-width="1.1"/>
<text x="410.10" y="340.60" font-size="13.5" text-anchor="middle" fill="#111" >-6</text>
<path d="M478.80 324.6V327.50" stroke="#111" stroke-width="1.1"/>
<text x="478.50" y="340.60" font-size="13.5" text-anchor="middle" fill="#111" >-3</text>
<path d="M547.20 324.6V327.50" stroke="#111" stroke-width="1.1"/>
<text x="547.20" y="340.60" font-size="13.5" text-anchor="middle" fill="#111" >0</text>
<path d="M615.60 324.6V327.50" stroke="#111" stroke-width="1.1"/>
<text x="615.60" y="340.60" font-size="13.5" text-anchor="middle" fill="#111" >3</text>
<text x="533.20" y="359.30" font-size="13.0" text-anchor="middle" fill="#111" >log2 (fold change)</text>
<text x="0" y="0" font-size="12.9" text-anchor="middle" fill="#111" transform="translate(366.9 168.0) rotate(-90)">-log10 (padj)</text>
<text x="423.40" y="106.00" font-size="13.2" text-anchor="start" fill="#111" >Down (598)</text>
<text x="602.50" y="118.30" font-size="13.2" text-anchor="start" fill="#111" >Up (338)</text>
<text x="1.20" y="428.50" font-size="20.5" text-anchor="start" fill="#000" >C</text>
<text x="58.60" y="425.00" font-size="13.2" text-anchor="start" fill="#000" >si-IGF2BP3 vs si-Ctrl</text>
<path d="M71 457V432.9H165.6V452.3 M47.9 459V457H111V459 M79.4 457V459 M142.5 459V452.3H174 M174 459V453.4H205.5V459" fill="none" stroke="#111" stroke-width="1.4"/>
<path d="M28.4 471.40V489.13 M28.4 471.40H39.2 M28.4 489.13H39.2 M25.6 480.26V506.86 M25.6 480.26H28.4 M25.6 506.86H39.2 M29.9 524.59V542.32 M29.9 524.59H39.2 M29.9 542.32H39.2 M27.0 533.45V560.05 M27.0 533.45H29.9 M27.0 560.05H39.2 M15.3 493.56V546.75 M15.3 493.56H25.6 M15.3 546.75H27.0 M23.6 577.78V595.51 M23.6 577.78H39.2 M23.6 595.51H39.2 M27.0 613.24V630.97 M27.0 613.24H39.2 M27.0 630.97H39.2 M19.6 586.64V622.11 M19.6 586.64H23.6 M19.6 622.11H27.0 M4.0 520.16V604.38 M4.0 520.16H15.3 M4.0 604.38H19.6 M31.0 648.70V666.43 M31.0 648.70H39.2 M31.0 666.43H39.2 M34.4 684.16V701.89 M34.4 684.16H39.2 M34.4 701.89H39.2 M30.4 657.57V693.02 M30.4 657.57H31.0 M30.4 693.02H34.4 M13.4 675.30V719.62 M13.4 675.30H30.4 M13.4 719.62H39.2 M3.0 562.27V697.46 M3.0 562.27H4.0 M3.0 697.46H13.4" fill="none" stroke="#111" stroke-width="1.4"/>
<circle cx="47.9" cy="471.40" r="2.70" fill="#6ec5a0"/>
<circle cx="79.4" cy="471.40" r="2.70" fill="#6ec5a0"/>
<circle cx="111.0" cy="471.40" r="2.70" fill="#6ec5a0"/>
<circle cx="142.5" cy="471.40" r="5.7" fill="#f58448"/>
<circle cx="174.0" cy="471.40" r="5.7" fill="#fdc173"/>
<circle cx="205.5" cy="471.40" r="5.7" fill="#fee08d"/>
<circle cx="47.9" cy="489.13" r="2.70" fill="#6ec5a0"/>
<circle cx="79.4" cy="489.13" r="2.70" fill="#6ec5a0"/>
<circle cx="111.0" cy="489.13" r="2.70" fill="#6ec5a0"/>
<circle cx="142.5" cy="489.13" r="5.7" fill="#fca055"/>
<circle cx="174.0" cy="489.13" r="5.7" fill="#fdbe6e"/>
<circle cx="205.5" cy="489.13" r="5.7" fill="#fdc97a"/>
<circle cx="47.9" cy="506.86" r="2.50" fill="#55b4a8"/>
<circle cx="79.4" cy="506.86" r="2.50" fill="#55b4a8"/>
<circle cx="111.0" cy="506.86" r="2.50" fill="#55b4a8"/>
<circle cx="142.5" cy="506.86" r="5.7" fill="#f58449"/>
<circle cx="174.0" cy="506.86" r="5.7" fill="#fed27d"/>
<circle cx="205.5" cy="506.86" r="5.7" fill="#fdc576"/>
<circle cx="47.9" cy="524.59" r="2.70" fill="#6ec5a0"/>
<circle cx="79.4" cy="524.59" r="2.70" fill="#6ec5a0"/>
<circle cx="111.0" cy="524.59" r="2.70" fill="#6ec5a0"/>
<circle cx="142.5" cy="524.59" r="5.7" fill="#fca055"/>
<circle cx="174.0" cy="524.59" r="5.7" fill="#fed47f"/>
<circle cx="205.5" cy="524.59" r="5.7" fill="#fdaa5c"/>
<circle cx="47.9" cy="542.32" r="2.50" fill="#55b4a8"/>
<circle cx="79.4" cy="542.32" r="2.50" fill="#55b4a8"/>
<circle cx="111.0" cy="542.32" r="2.50" fill="#55b4a8"/>
<circle cx="142.5" cy="542.32" r="5.7" fill="#fca659"/>
<circle cx="174.0" cy="542.32" r="5.7" fill="#fed27d"/>
<circle cx="205.5" cy="542.32" r="5.7" fill="#fda55a"/>
<circle cx="47.9" cy="560.05" r="2.80" fill="#6ec5a0"/>
<circle cx="79.4" cy="560.05" r="2.80" fill="#6ec5a0"/>
<circle cx="111.0" cy="560.05" r="2.80" fill="#6ec5a0"/>
<circle cx="142.5" cy="560.05" r="5.7" fill="#fdc273"/>
<circle cx="174.0" cy="560.05" r="5.7" fill="#fdbd6d"/>
<circle cx="205.5" cy="560.05" r="5.7" fill="#fca358"/>
<circle cx="47.9" cy="577.78" r="2.70" fill="#6ec5a0"/>
<circle cx="79.4" cy="577.78" r="2.70" fill="#6ec5a0"/>
<circle cx="111.0" cy="577.78" r="2.70" fill="#6ec5a0"/>
<circle cx="142.5" cy="577.78" r="5.7" fill="#fdb466"/>
<circle cx="174.0" cy="577.78" r="5.7" fill="#fb9650"/>
<circle cx="205.5" cy="577.78" r="5.7" fill="#fed580"/>
<circle cx="47.9" cy="595.51" r="2.70" fill="#6ec5a0"/>
<circle cx="79.4" cy="595.51" r="2.70" fill="#6ec5a0"/>
<circle cx="111.0" cy="595.51" r="2.70" fill="#6ec5a0"/>
<circle cx="142.5" cy="595.51" r="5.7" fill="#fee28a"/>
<circle cx="174.0" cy="595.51" r="5.7" fill="#fa924d"/>
<circle cx="205.5" cy="595.51" r="5.7" fill="#fdb567"/>
<circle cx="47.9" cy="613.24" r="2.70" fill="#5ab7aa"/>
<circle cx="79.4" cy="613.24" r="2.70" fill="#5ab7aa"/>
<circle cx="111.0" cy="613.24" r="2.70" fill="#5ab7aa"/>
<circle cx="142.5" cy="613.24" r="5.7" fill="#fdc373"/>
<circle cx="174.0" cy="613.24" r="5.7" fill="#fca257"/>
<circle cx="205.5" cy="613.24" r="5.7" fill="#fdc575"/>
<circle cx="47.9" cy="630.97" r="2.50" fill="#5ab7aa"/>
<circle cx="79.4" cy="630.97" r="2.70" fill="#5ab7aa"/>
<circle cx="111.0" cy="630.97" r="2.70" fill="#5ab7aa"/>
<circle cx="142.5" cy="630.97" r="5.7" fill="#fed37e"/>
<circle cx="174.0" cy="630.97" r="5.7" fill="#f6844a"/>
<circle cx="205.5" cy="630.97" r="5.7" fill="#fed985"/>
<circle cx="47.9" cy="648.70" r="2.30" fill="#42a2b4"/>
<circle cx="79.4" cy="648.70" r="2.30" fill="#45a6b2"/>
<circle cx="111.0" cy="648.70" r="2.10" fill="#45a6b2"/>
<circle cx="142.5" cy="648.70" r="5.7" fill="#f98c4c"/>
<circle cx="174.0" cy="648.70" r="5.7" fill="#fed37e"/>
<circle cx="205.5" cy="648.70" r="5.7" fill="#fdbd6e"/>
<circle cx="47.9" cy="666.43" r="1.60" fill="#42a2b4"/>
<circle cx="79.4" cy="666.43" r="2.30" fill="#45a6b2"/>
<circle cx="111.0" cy="666.43" r="2.30" fill="#45a6b2"/>
<circle cx="142.5" cy="666.43" r="5.7" fill="#fca257"/>
<circle cx="174.0" cy="666.43" r="5.7" fill="#fed37e"/>
<circle cx="205.5" cy="666.43" r="5.7" fill="#fca95c"/>
<circle cx="47.9" cy="684.16" r="2.50" fill="#42a2b4"/>
<circle cx="79.4" cy="684.16" r="2.70" fill="#45a6b2"/>
<circle cx="111.0" cy="684.16" r="2.70" fill="#45a6b2"/>
<circle cx="142.5" cy="684.16" r="5.7" fill="#fca257"/>
<circle cx="174.0" cy="684.16" r="5.7" fill="#fdc776"/>
<circle cx="205.5" cy="684.16" r="5.7" fill="#fdb265"/>
<circle cx="47.9" cy="701.89" r="2.30" fill="#42a2b4"/>
<circle cx="79.4" cy="701.89" r="2.50" fill="#45a6b2"/>
<circle cx="111.0" cy="701.89" r="2.30" fill="#45a6b2"/>
<circle cx="142.5" cy="701.89" r="5.7" fill="#fca659"/>
<circle cx="174.0" cy="701.89" r="5.7" fill="#fdc877"/>
<circle cx="205.5" cy="701.89" r="5.7" fill="#fdb062"/>
<circle cx="47.9" cy="719.62" r="2.40" fill="#42a2b4"/>
<circle cx="79.4" cy="719.62" r="2.40" fill="#45a6b2"/>
<circle cx="111.0" cy="719.62" r="2.20" fill="#45a6b2"/>
<circle cx="142.5" cy="719.62" r="5.7" fill="#f98c4c"/>
<circle cx="174.0" cy="719.62" r="5.7" fill="#fca95c"/>
<circle cx="205.5" cy="719.62" r="5.7" fill="#feeb9c"/>
<text x="229.80" y="474.80" font-size="9.6" text-anchor="start" fill="#222" >Ccl3</text>
<text x="229.80" y="492.53" font-size="9.6" text-anchor="start" fill="#222" >Sprr1a</text>
<text x="229.80" y="510.26" font-size="9.6" text-anchor="start" fill="#222" >Cxcl3</text>
<text x="229.80" y="527.99" font-size="9.6" text-anchor="start" fill="#222" >Cxcl5</text>
<text x="229.80" y="545.72" font-size="9.6" text-anchor="start" fill="#222" >Serpinb2</text>
<text x="229.80" y="563.45" font-size="9.6" text-anchor="start" fill="#222" >Slco4a1</text>
<text x="229.80" y="581.18" font-size="9.6" text-anchor="start" fill="#222" >Hp</text>
<text x="229.80" y="598.91" font-size="9.6" text-anchor="start" fill="#222" >Cemip</text>
<text x="229.80" y="616.64" font-size="9.6" text-anchor="start" fill="#222" >Lyz2</text>
<text x="229.80" y="634.37" font-size="9.6" text-anchor="start" fill="#222" >Mmp12</text>
<text x="229.80" y="652.10" font-size="9.6" text-anchor="start" fill="#222" >Ctss</text>
<text x="229.80" y="669.83" font-size="9.6" text-anchor="start" fill="#222" >Mmp3</text>
<text x="229.80" y="687.56" font-size="9.6" text-anchor="start" fill="#222" >Ccl9</text>
<text x="229.80" y="705.29" font-size="9.6" text-anchor="start" fill="#222" >Il1rn</text>
<text x="229.80" y="723.02" font-size="9.6" text-anchor="start" fill="#222" >Ccl6</text>
<circle cx="278.1" cy="484.2" r="3.8" fill="#a8da95"/>
<circle cx="278.1" cy="496.6" r="4.8" fill="#fdee9f"/>
<circle cx="278.1" cy="509.7" r="5.7" fill="#f6814b"/>
<text x="291.00" y="487.60" font-size="9.4" text-anchor="start" fill="#222" >0.5</text>
<text x="291.00" y="500.00" font-size="9.4" text-anchor="start" fill="#222" >1.0</text>
<text x="291.00" y="513.10" font-size="9.4" text-anchor="start" fill="#222" >1.5</text>
<text x="0" y="0" font-size="9.2" text-anchor="end" fill="#222" transform="translate(51.20 736.7) rotate(-90)">si2</text>
<text x="0" y="0" font-size="9.2" text-anchor="end" fill="#222" transform="translate(82.70 736.7) rotate(-90)">si1</text>
<text x="0" y="0" font-size="9.2" text-anchor="end" fill="#222" transform="translate(114.30 736.7) rotate(-90)">si3</text>
<text x="0" y="0" font-size="9.2" text-anchor="end" fill="#222" transform="translate(145.80 736.7) rotate(-90)">C2</text>
<text x="0" y="0" font-size="9.2" text-anchor="end" fill="#222" transform="translate(177.30 736.7) rotate(-90)">C1</text>
<text x="0" y="0" font-size="9.2" text-anchor="end" fill="#222" transform="translate(208.80 736.7) rotate(-90)">C3</text>
<text x="350.60" y="428.80" font-size="20.5" text-anchor="start" fill="#000" >D</text>
<text x="495.90" y="424.40" font-size="13.2" text-anchor="start" fill="#000" >si-IGF2BP3 vs si-Ctrl</text>
<rect x="478.2" y="434.4" width="161.50" height="290.90" fill="#fff"/>
<path d="M490.10 434.4V725.3 M504.35 434.4V725.3 M518.60 434.4V725.3 M532.85 434.4V725.3 M547.10 434.4V725.3 M561.35 434.4V725.3 M575.60 434.4V725.3 M589.85 434.4V725.3 M604.10 434.4V725.3 M618.35 434.4V725.3 M632.60 434.4V725.3" stroke="#ebebeb" stroke-width="1"/>
<path d="M478.2 443.00H639.7 M478.2 457.41H639.7 M478.2 471.82H639.7 M478.2 486.23H639.7 M478.2 500.64H639.7 M478.2 515.05H639.7 M478.2 529.46H639.7 M478.2 543.87H639.7 M478.2 558.28H639.7 M478.2 572.69H639.7 M478.2 587.10H639.7 M478.2 601.51H639.7 M478.2 615.92H639.7 M478.2 630.33H639.7 M478.2 644.74H639.7 M478.2 659.15H639.7 M478.2 673.56H639.7 M478.2 687.97H639.7 M478.2 702.38H639.7 M478.2 716.79H639.7" stroke="#ebebeb" stroke-width="1"/>
<rect x="478.2" y="434.4" width="161.50" height="290.90" fill="none" stroke="#333" stroke-width="1"/>
<text x="474.00" y="445.40" font-size="7.7" text-anchor="end" fill="#222" >regulation of defense response</text>
<path d="M475.3 443.00H478.2" stroke="#333" stroke-width="0.9"/>
<circle cx="485.08" cy="443.00" r="1.10" fill="#ff0000"/>
<text x="474.00" y="459.81" font-size="7.7" text-anchor="end" fill="#222" >inflammatory response</text>
<path d="M475.3 457.41H478.2" stroke="#333" stroke-width="0.9"/>
<circle cx="499.79" cy="457.41" r="2.75" fill="#ff0000"/>
<text x="474.00" y="474.22" font-size="7.7" text-anchor="end" fill="#222" >response to stress</text>
<path d="M475.3 471.82H478.2" stroke="#333" stroke-width="0.9"/>
<circle cx="504.06" cy="471.82" r="2.75" fill="#ff0000"/>
<text x="474.00" y="488.63" font-size="7.7" text-anchor="end" fill="#222" >regulation of cell growth ...</text>
<path d="M475.3 486.23H478.2" stroke="#333" stroke-width="0.9"/>
<circle cx="506.92" cy="486.23" r="2.85" fill="#ff0000"/>
<text x="474.00" y="503.04" font-size="7.7" text-anchor="end" fill="#222" >response to cytokine</text>
<path d="M475.3 500.64H478.2" stroke="#333" stroke-width="0.9"/>
<circle cx="509.77" cy="500.64" r="2.95" fill="#ff0000"/>
<text x="474.00" y="517.45" font-size="7.7" text-anchor="end" fill="#222" >innate immune response</text>
<path d="M475.3 515.05H478.2" stroke="#333" stroke-width="0.9"/>
<circle cx="512.62" cy="515.05" r="3.05" fill="#ff0000"/>
<text x="474.00" y="531.86" font-size="7.7" text-anchor="end" fill="#222" >biological process involved in ...</text>
<path d="M475.3 529.46H478.2" stroke="#333" stroke-width="0.9"/>
<circle cx="515.47" cy="529.46" r="3.15" fill="#ff0000"/>
<text x="474.00" y="546.27" font-size="7.7" text-anchor="end" fill="#222" >response to other organism</text>
<path d="M475.3 543.87H478.2" stroke="#333" stroke-width="0.9"/>
<circle cx="517.18" cy="543.87" r="3.15" fill="#ff0000"/>
<text x="474.00" y="560.68" font-size="7.7" text-anchor="end" fill="#222" >response to external biotic stimulus</text>
<path d="M475.3 558.28H478.2" stroke="#333" stroke-width="0.9"/>
<circle cx="538.55" cy="558.28" r="3.65" fill="#ff0000"/>
<text x="474.00" y="575.09" font-size="7.7" text-anchor="end" fill="#222" >cell cycle</text>
<path d="M475.3 572.69H478.2" stroke="#333" stroke-width="0.9"/>
<circle cx="540.55" cy="572.69" r="3.65" fill="#ff0000"/>
<text x="474.00" y="589.50" font-size="7.7" text-anchor="end" fill="#222" >response to reactive oxygen species</text>
<path d="M475.3 587.10H478.2" stroke="#333" stroke-width="0.9"/>
<circle cx="565.91" cy="587.10" r="4.15" fill="#ff0000"/>
<text x="474.00" y="603.91" font-size="7.7" text-anchor="end" fill="#222" >response to bacterium</text>
<path d="M475.3 601.51H478.2" stroke="#333" stroke-width="0.9"/>
<circle cx="565.91" cy="601.51" r="4.15" fill="#ff0000"/>
<text x="474.00" y="618.32" font-size="7.7" text-anchor="end" fill="#222" >heart development</text>
<path d="M475.3 615.92H478.2" stroke="#333" stroke-width="0.9"/>
<circle cx="568.19" cy="615.92" r="4.15" fill="#ff0000"/>
<text x="474.00" y="632.73" font-size="7.7" text-anchor="end" fill="#222" >nuclear DNA replication</text>
<path d="M475.3 630.33H478.2" stroke="#333" stroke-width="0.9"/>
<circle cx="571.04" cy="630.33" r="4.25" fill="#ff0000"/>
<text x="474.00" y="647.14" font-size="7.7" text-anchor="end" fill="#222" >cell activation</text>
<path d="M475.3 644.74H478.2" stroke="#333" stroke-width="0.9"/>
<circle cx="576.17" cy="644.74" r="4.35" fill="#ff0000"/>
<text x="474.00" y="661.55" font-size="7.7" text-anchor="end" fill="#222" >negative regulation of cell differentiation</text>
<path d="M475.3 659.15H478.2" stroke="#333" stroke-width="0.9"/>
<circle cx="577.02" cy="659.15" r="4.35" fill="#ff0000"/>
<text x="474.00" y="675.96" font-size="7.7" text-anchor="end" fill="#222" >ventricular cardiac muscle tissue development</text>
<path d="M475.3 673.56H478.2" stroke="#333" stroke-width="0.9"/>
<circle cx="580.16" cy="673.56" r="4.45" fill="#ff0000"/>
<text x="474.00" y="690.37" font-size="7.7" text-anchor="end" fill="#222" >nuclear division</text>
<path d="M475.3 687.97H478.2" stroke="#333" stroke-width="0.9"/>
<circle cx="620.35" cy="687.97" r="5.15" fill="#ff0000"/>
<text x="474.00" y="704.78" font-size="7.7" text-anchor="end" fill="#222" >regulation of cell population proliferation</text>
<path d="M475.3 702.38H478.2" stroke="#333" stroke-width="0.9"/>
<circle cx="624.90" cy="702.38" r="5.25" fill="#ff0000"/>
<text x="474.00" y="719.19" font-size="7.7" text-anchor="end" fill="#222" >biological adhesion</text>
<path d="M475.3 716.79H478.2" stroke="#333" stroke-width="0.9"/>
<circle cx="631.75" cy="716.79" r="5.45" fill="#ff0000"/>
<path d="M490.10 725.3V728.80" stroke="#333" stroke-width="0.9"/>
<text x="490.10" y="734.50" font-size="7.9" text-anchor="middle" fill="#222" >0.10</text>
<path d="M518.60 725.3V728.80" stroke="#333" stroke-width="0.9"/>
<text x="518.60" y="734.50" font-size="7.9" text-anchor="middle" fill="#222" >0.15</text>
<path d="M547.10 725.3V728.80" stroke="#333" stroke-width="0.9"/>
<text x="547.10" y="734.50" font-size="7.9" text-anchor="middle" fill="#222" >0.20</text>
<path d="M575.60 725.3V728.80" stroke="#333" stroke-width="0.9"/>
<text x="575.60" y="734.50" font-size="7.9" text-anchor="middle" fill="#222" >0.25</text>
<path d="M604.10 725.3V728.80" stroke="#333" stroke-width="0.9"/>
<text x="604.10" y="734.50" font-size="7.9" text-anchor="middle" fill="#222" >0.30</text>
<path d="M632.60 725.3V728.80" stroke="#333" stroke-width="0.9"/>
<text x="632.60" y="734.50" font-size="7.9" text-anchor="middle" fill="#222" >0.35</text>
<text x="561.60" y="748.50" font-size="12.8" text-anchor="middle" fill="#111" >Gene Ratio</text>
<text x="652.70" y="499.80" font-size="8.4" text-anchor="start" fill="#222" >Count</text>
<circle cx="659.4" cy="511.2" r="2.4" fill="#000"/>
<text x="670.10" y="513.80" font-size="7.4" text-anchor="start" fill="#222" >100</text>
<circle cx="659.4" cy="524.6" r="3.6" fill="#000"/>
<text x="670.10" y="527.20" font-size="7.4" text-anchor="start" fill="#222" >150</text>
<circle cx="659.4" cy="537.4" r="4.2" fill="#000"/>
<text x="670.10" y="540.00" font-size="7.4" text-anchor="start" fill="#222" >200</text>
<circle cx="659.4" cy="551.3" r="4.8" fill="#000"/>
<text x="670.10" y="553.90" font-size="7.4" text-anchor="start" fill="#222" >250</text>
<circle cx="659.4" cy="565.4" r="5.5" fill="#000"/>
<text x="670.10" y="568.00" font-size="7.4" text-anchor="start" fill="#222" >300</text>
<text x="652.70" y="596.50" font-size="8.4" text-anchor="start" fill="#222" >padj</text>
<defs><linearGradient id="rb" x1="0" y1="0" x2="0" y2="1"><stop offset="0" stop-color="#7b3af6"/><stop offset="0.18" stop-color="#6a9cff"/><stop offset="0.3" stop-color="#00ecff"/><stop offset="0.48" stop-color="#30f2a8"/><stop offset="0.62" stop-color="#7cef1c"/><stop offset="0.78" stop-color="#cdae00"/><stop offset="1" stop-color="#ff1600"/></linearGradient></defs>
<rect x="652.4" y="600.8" width="13.9" height="67.2" fill="url(#rb)"/>
<text x="670.00" y="603.90" font-size="7.4" text-anchor="start" fill="#222" >1.00</text>
<text x="670.00" y="620.40" font-size="7.4" text-anchor="start" fill="#222" >0.75</text>
<path d="M652.4 617.8h2.5M663.8 617.8h2.5" stroke="#fff" stroke-width="0.8"/>
<text x="670.00" y="636.80" font-size="7.4" text-anchor="start" fill="#222" >0.50</text>
<path d="M652.4 634.2h2.5M663.8 634.2h2.5" stroke="#fff" stroke-width="0.8"/>
<text x="670.00" y="653.20" font-size="7.4" text-anchor="start" fill="#222" >0.25</text>
<path d="M652.4 650.6h2.5M663.8 650.6h2.5" stroke="#fff" stroke-width="0.8"/>
<text x="670.00" y="670.20" font-size="7.4" text-anchor="start" fill="#222" >0.00</text>
</svg></body></html>
